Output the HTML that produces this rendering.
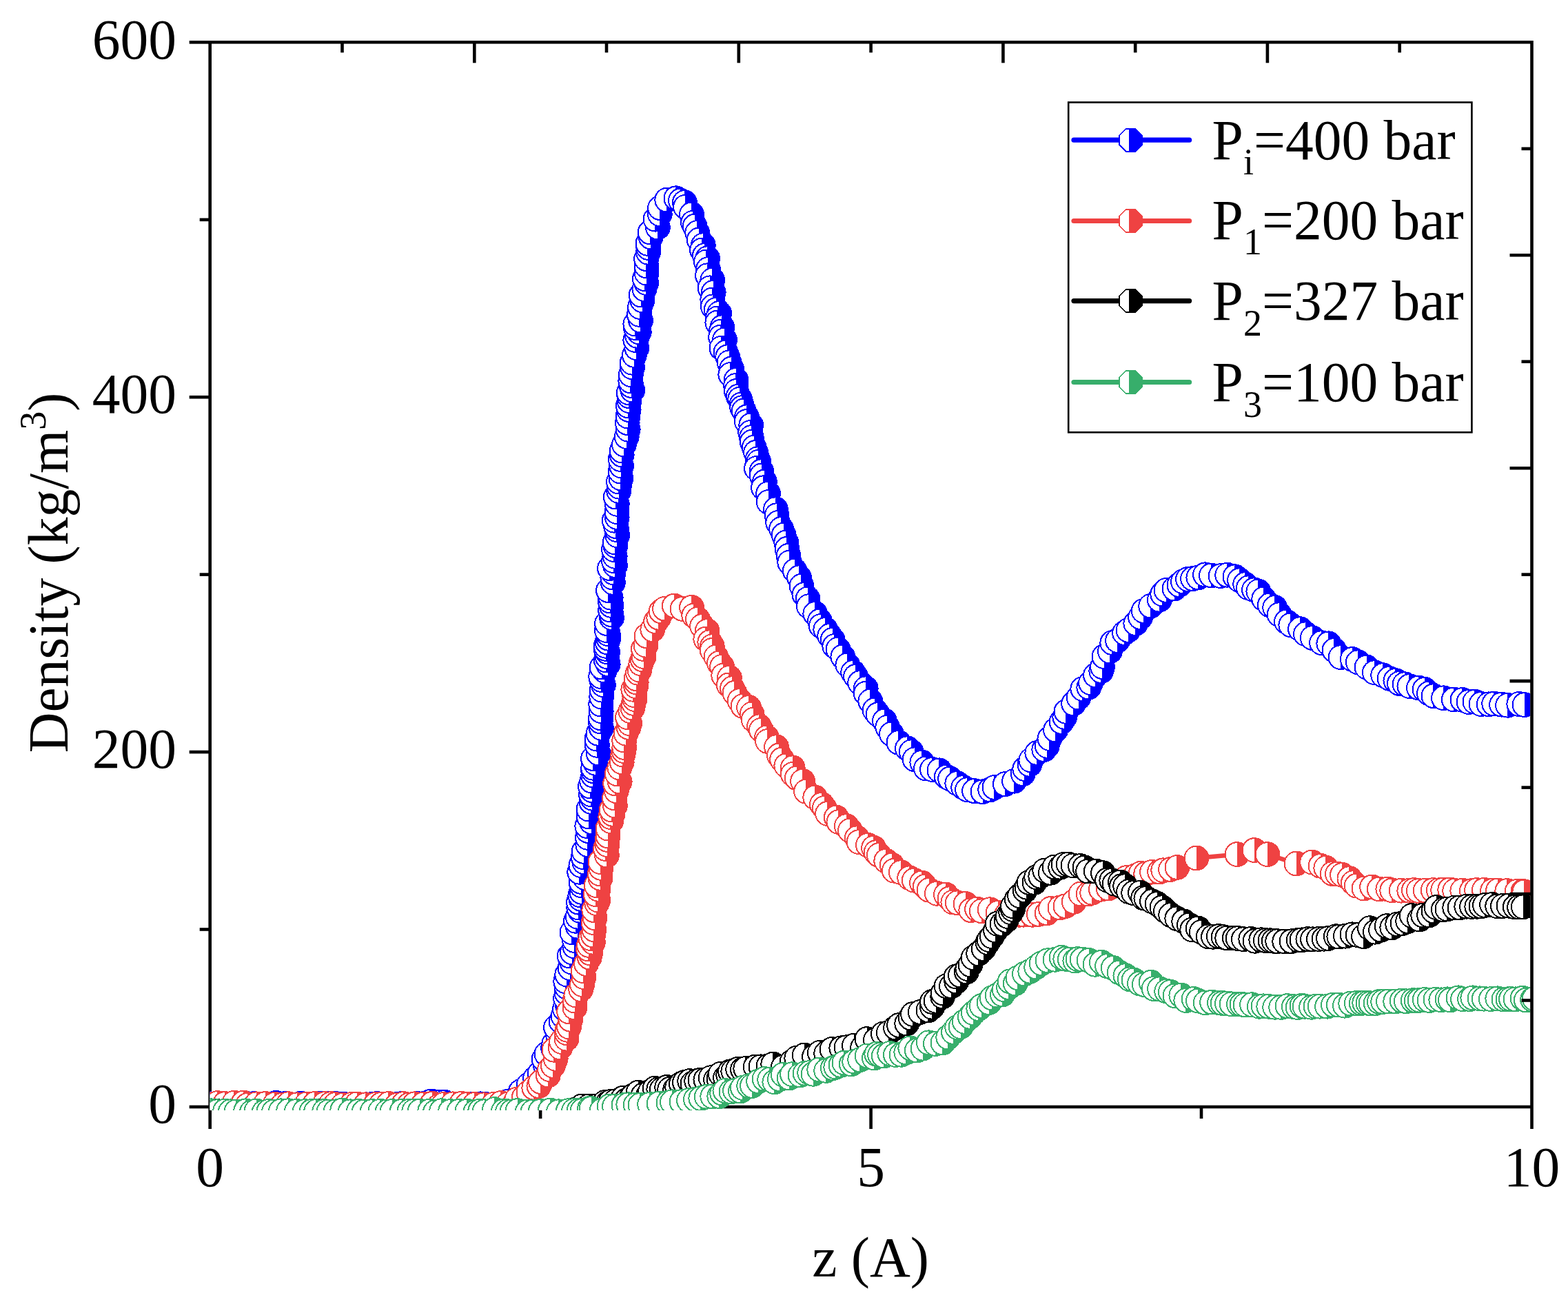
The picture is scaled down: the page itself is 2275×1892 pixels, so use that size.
<!DOCTYPE html>
<html><head><meta charset="utf-8"><title>Density profile</title>
<style>html,body{margin:0;padding:0;background:#fff;overflow:hidden;width:2275px;height:1892px;}svg{display:block}</style></head>
<body>
<svg width="2275" height="1892" viewBox="0 0 2275 1892" font-family="'Liberation Serif', serif">
<defs><clipPath id="pc"><rect x="304.7" y="40" width="1915.3" height="1571"/></clipPath></defs>
<rect width="2275" height="1892" fill="#fff"/>
<g stroke="#000" stroke-width="4.6" fill="none" stroke-linecap="butt">
<path d="M304.7 1638.0V59.0"/>
<path d="M304.7 1606.0H2222.5"/>
<path d="M2222.5 1606.0V1638.0"/>
<path d="M1263.6 1606.0V1638.0"/>
<path d="M784.1 1606.0V1623.0"/>
<path d="M1743.0 1606.0V1623.0"/>
<path d="M274.7 1606.0H304.7"/>
<path d="M274.7 1091.1H304.7"/>
<path d="M274.7 576.2H304.7"/>
<path d="M274.7 61.3H304.7"/>
<path d="M289.7 1348.5H304.7"/>
<path d="M289.7 833.6H304.7"/>
<path d="M289.7 318.8H304.7"/>
</g>
<g clip-path="url(#pc)">
<path d="M305,1602 315.3,1602 324.1,1602 331,1602 342.7,1602 349.3,1602 359.8,1602 369.1,1602 375.2,1602 385.4,1602 391.6,1602 401,1602 407.2,1602 413.9,1602 423.3,1602 436.5,1602 443.4,1602 451.4,1602 463,1602 477.1,1602 487.9,1602 497.3,1602 511.7,1602 518,1602 531.4,1602.1 539.8,1602.1 547.1,1602.1 553.9,1602.1 562.2,1602.1 575.6,1602.1 583,1602.1 594,1601.9 605.8,1600.1 615.1,1599.4 625.5,1599 631.6,1599 637.9,1599.1 645.7,1599.6 657.7,1601.8 667.5,1602.1 676,1602.1 687,1602.1 697.1,1602.1 705.5,1601.9 718.3,1601.6 730.1,1600.7 737.9,1598.9 747.9,1592 756.4,1584.6 766.8,1573.9 775.5,1563.4 780.7,1556 788,1544 791.1,1538.5 795.9,1530.6 802,1520.4 805,1514.3 808.5,1505.1 810,1500.4 812.3,1491.7 814.5,1482.2 816.1,1473.9 817.6,1463.8 818.3,1457.4 819.5,1448.2 820.8,1440.1 822.1,1431.8 823.3,1424.2 824.8,1414.3 826.5,1403.8 827.8,1396.1 829.3,1387.4 830.1,1382.4 831.7,1373.2 833.1,1364.5 834.7,1353.5 836,1343.5 836.9,1337.1 838,1330 839.7,1321.4 840.6,1317.2 842,1309.6 842.8,1304 843.3,1299 843.7,1294.5 844.5,1284.9 845,1279.5 845.4,1273.3 846,1266 846.7,1255.8 847.1,1251 847.7,1243.7 848.4,1235.5 849.4,1225.4 850.4,1215.4 851.5,1204.9 852.2,1198.5 853.1,1191.5 853.9,1184.9 855.5,1174.5 857.2,1163.7 857.9,1158.1 858.6,1152.7 859.2,1146.8 859.8,1141 860.5,1133.4 861.2,1124.9 861.8,1118.7 862.1,1114.5 862.7,1107.2 863.3,1100.4 864,1092.2 865,1081.2 865.9,1072.1 866.8,1064.5 868.7,1055.6 870.2,1046.6 870.8,1041.7 871.9,1031.5 873,1021.7 874.1,1011.2 875.1,1001.3 875.8,994.1 876.5,987 877,981.8 877.8,972.9 878.2,968.4 878.7,963.7 879.2,958 879.7,952.5 880.2,946 880.6,941.5 881,937 881.4,931.8 881.8,926.6 882.4,919.6 882.7,915.1 883.5,905.1 884.1,896.3 884.5,891.2 885,885.1 885.4,878.5 885.9,871.9 886.3,866.8 887,856.6 887.7,845.6 888.3,838 888.8,830.3 889.2,825.2 889.5,820.1 890,813.5 890.5,807.3 891.2,797.4 891.6,791.8 891.9,787.2 892.7,776.4 893.3,768.6 893.7,763.5 894.3,755.3 894.6,750.6 895.2,742.5 896.1,731.4 896.9,721.2 897.7,712 898.2,706 898.8,699.4 899.3,693.8 900.1,684.2 900.9,676.1 901.8,666.5 902.4,660 903,653.9 904,644.3 905.2,633.2 906.3,623.1 907.4,613.4 908.6,603.8 909.7,594.6 910.5,589 911.5,581.3 912.4,574.6 913,570 913.6,565.4 914.5,559.3 915.3,553.1 916.5,543.9 918,533.2 918.9,526 920.2,515.3 921.4,504.5 922.6,493.8 923.4,487.1 924,481.5 924.7,475.9 925.3,470.2 926,464.6 927,455.9 928.3,445.7 929.6,435.5 930.7,427.8 932,419.2 933.4,409.5 934.2,404.4 935.6,395.6 937.2,385.4 938.8,375.9 940.4,366.6 941.7,359.3 942.7,353.8 944.6,344.1 945.9,337.7 948.1,328.3 951,318 953.9,309.3 957.3,301.4 968,290.5 980.9,287.3 988.6,288.6 994.2,292.9 997.4,298.9 1002.8,311.2 1007.1,322.9 1008.7,327.9 1011.7,337.5 1014.7,348.1 1017,356.8 1018.6,363.2 1020.5,370.9 1021.7,375.9 1022.8,380.5 1025.3,391.1 1027.3,399.7 1029.1,407.3 1031.5,417.7 1033.1,424.6 1035.3,434.5 1037.5,444.1 1038.8,449.7 1040,455.4 1041.4,461.7 1042.7,467.7 1044.4,475.7 1045.6,481.5 1047.3,488.8 1048.5,493.9 1051,504 1052.8,510.7 1054.8,517.7 1057.1,525.8 1060,535.6 1062.2,542.6 1065.2,552.5 1067.5,559.7 1069.8,567.1 1072.3,574.7 1073.7,579.1 1076.1,586.3 1077.8,591.7 1079.2,596.1 1082.3,605.5 1084,611 1086.2,618 1088.9,627 1091.1,634.6 1092.8,640.8 1094.9,648.6 1097,656.3 1099.4,665.6 1100.7,670.4 1102.9,678.2 1104.5,684.1 1106.2,689.9 1109,699 1111.3,706.2 1114.6,716 1118.5,727.2 1123,739.6 1126.1,748.1 1129.7,758.1 1133,767.2 1136.2,776.5 1140,787.5 1142.9,796.2 1146.1,805.5 1149.2,814.7 1153.6,827.5 1157.5,838.4 1162.2,850.5 1167.4,862.7 1170.6,869.5 1175.3,878.9 1182,890.9 1188.6,902 1192.2,907.5 1196.5,913.9 1202.7,922.9 1206.9,928.8 1212,936.1 1216,942 1223.1,952.6 1231,964.4 1238.3,975.3 1241.8,980.9 1248,990.8 1253.5,1000.5 1256.7,1006.3 1263.1,1017.8 1270.1,1029.9 1274,1036.1 1281.4,1047.7 1287,1056.1 1293.5,1065 1303.9,1077.3 1314.3,1087.7 1320.1,1093.2 1328.1,1100.5 1336.8,1108 1344.3,1113.7 1352,1117.4 1360.4,1122.3 1372.2,1129.3 1377.6,1132.5 1387.8,1138.3 1397.6,1143.1 1403.7,1145.4 1413.4,1147.8 1426,1149 1436.4,1145 1442.9,1142.4 1458.4,1137.6 1471.5,1132.5 1483.5,1122.4 1488.3,1116.9 1494.1,1109.7 1498.2,1104.5 1506.7,1093.4 1512.1,1086.3 1516.6,1080.1 1522.7,1071.7 1531.5,1059.3 1539.8,1047.6 1544.8,1040.5 1549.1,1034.2 1557.8,1021.7 1564.9,1011.8 1572.9,1001.1 1577.5,995.3 1581.5,990 1589.4,979.2 1594.5,971.7 1597.7,966.4 1604.4,954.4 1609.8,944.7 1616,934.2 1620.1,928.2 1630.2,917 1635.4,912.5 1646.8,903.1 1654.5,895.3 1661.1,887.9 1669.1,879 1680.2,868 1687,862.6 1693,858.3 1702.8,852.4 1710.3,848.2 1717.1,845 1724.4,841.9 1730.7,839.6 1739,837.2 1748.3,835.2 1757.5,834.1 1771.2,834.5 1780.3,835.9 1791.1,839.2 1798.3,842.8 1806.4,848.3 1811.4,852.1 1818.1,857.6 1822.9,861.6 1832.3,871 1841,879 1847.4,884.2 1856.2,891 1868.4,900.2 1874.5,904.7 1886.3,912.9 1895.2,918.9 1904.6,925 1917.1,932.6 1925.9,937.6 1936.2,943 1947.9,948.8 1962,956 1970.3,960.5 1983,968.1 1994.8,974.8 2006,980.4 2015.7,984.3 2025,987.3 2031.4,989.2 2038.7,991.5 2045.5,993.8 2058.2,998.8 2066.5,1002.3 2073.8,1005.3 2080.7,1007.9 2094.8,1012.2 2109.3,1015.4 2121.8,1017.6 2130.8,1019 2139.6,1020.2 2148.9,1021.2 2160,1022.1 2168,1022.6 2178.7,1022.9 2187.7,1022.9 2203.5,1022.7 2212,1022.6" fill="none" stroke="#0000FF" stroke-width="6.5" stroke-linejoin="round"/>
<g fill="#fff" stroke="#0000FF" stroke-width="2.0" shape-rendering="crispEdges">
<circle cx="304.9" cy="1601.7" r="17.4"/><path d="M304.4 1583.3A18.4 18.4 0 0 1 304.4 1620z" fill="#0000FF" stroke="none"/>
<circle cx="315.3" cy="1601.9" r="17.4"/><path d="M314.8 1583.5A18.4 18.4 0 0 1 314.8 1620.3z" fill="#0000FF" stroke="none"/>
<circle cx="324.3" cy="1601.2" r="17.4"/><path d="M323.8 1582.8A18.4 18.4 0 0 1 323.8 1619.6z" fill="#0000FF" stroke="none"/>
<circle cx="330.9" cy="1602" r="17.4"/><path d="M330.4 1583.6A18.4 18.4 0 0 1 330.4 1620.4z" fill="#0000FF" stroke="none"/>
<circle cx="342.8" cy="1601.9" r="17.4"/><path d="M342.3 1583.5A18.4 18.4 0 0 1 342.3 1620.3z" fill="#0000FF" stroke="none"/>
<circle cx="349.5" cy="1602.2" r="17.4"/><path d="M349 1583.8A18.4 18.4 0 0 1 349 1620.6z" fill="#0000FF" stroke="none"/>
<circle cx="360.2" cy="1601.7" r="17.4"/><path d="M359.7 1583.3A18.4 18.4 0 0 1 359.7 1620.1z" fill="#0000FF" stroke="none"/>
<circle cx="368.8" cy="1601.4" r="17.4"/><path d="M368.3 1583.1A18.4 18.4 0 0 1 368.3 1619.8z" fill="#0000FF" stroke="none"/>
<circle cx="375" cy="1602.2" r="17.4"/><path d="M374.5 1583.8A18.4 18.4 0 0 1 374.5 1620.6z" fill="#0000FF" stroke="none"/>
<circle cx="385.6" cy="1604.3" r="17.4"/><path d="M385.1 1585.9A18.4 18.4 0 0 1 385.1 1622.7z" fill="#0000FF" stroke="none"/>
<circle cx="391.5" cy="1602.1" r="17.4"/><path d="M391 1583.7A18.4 18.4 0 0 1 391 1620.5z" fill="#0000FF" stroke="none"/>
<circle cx="400.8" cy="1600.3" r="17.4"/><path d="M400.3 1581.9A18.4 18.4 0 0 1 400.3 1618.7z" fill="#0000FF" stroke="none"/>
<circle cx="407" cy="1601.9" r="17.4"/><path d="M406.5 1583.5A18.4 18.4 0 0 1 406.5 1620.3z" fill="#0000FF" stroke="none"/>
<circle cx="414.1" cy="1601.5" r="17.4"/><path d="M413.6 1583.1A18.4 18.4 0 0 1 413.6 1619.9z" fill="#0000FF" stroke="none"/>
<circle cx="423" cy="1602.8" r="17.4"/><path d="M422.5 1584.4A18.4 18.4 0 0 1 422.5 1621.1z" fill="#0000FF" stroke="none"/>
<circle cx="436.5" cy="1601.1" r="17.4"/><path d="M436 1582.7A18.4 18.4 0 0 1 436 1619.5z" fill="#0000FF" stroke="none"/>
<circle cx="443.4" cy="1602.3" r="17.4"/><path d="M442.9 1583.9A18.4 18.4 0 0 1 442.9 1620.7z" fill="#0000FF" stroke="none"/>
<circle cx="451.5" cy="1602" r="17.4"/><path d="M451 1583.6A18.4 18.4 0 0 1 451 1620.4z" fill="#0000FF" stroke="none"/>
<circle cx="462.8" cy="1601.1" r="17.4"/><path d="M462.3 1582.7A18.4 18.4 0 0 1 462.3 1619.5z" fill="#0000FF" stroke="none"/>
<circle cx="477.6" cy="1601.2" r="17.4"/><path d="M477.1 1582.8A18.4 18.4 0 0 1 477.1 1619.6z" fill="#0000FF" stroke="none"/>
<circle cx="487.6" cy="1601.6" r="17.4"/><path d="M487.1 1583.3A18.4 18.4 0 0 1 487.1 1620z" fill="#0000FF" stroke="none"/>
<circle cx="497.7" cy="1601.9" r="17.4"/><path d="M497.2 1583.5A18.4 18.4 0 0 1 497.2 1620.3z" fill="#0000FF" stroke="none"/>
<circle cx="511.8" cy="1602" r="17.4"/><path d="M511.3 1583.6A18.4 18.4 0 0 1 511.3 1620.4z" fill="#0000FF" stroke="none"/>
<circle cx="518.1" cy="1603.6" r="17.4"/><path d="M517.6 1585.3A18.4 18.4 0 0 1 517.6 1622z" fill="#0000FF" stroke="none"/>
<circle cx="531.4" cy="1602.8" r="17.4"/><path d="M530.9 1584.4A18.4 18.4 0 0 1 530.9 1621.1z" fill="#0000FF" stroke="none"/>
<circle cx="539.6" cy="1602.3" r="17.4"/><path d="M539.1 1583.9A18.4 18.4 0 0 1 539.1 1620.7z" fill="#0000FF" stroke="none"/>
<circle cx="546.9" cy="1601.4" r="17.4"/><path d="M546.4 1583A18.4 18.4 0 0 1 546.4 1619.8z" fill="#0000FF" stroke="none"/>
<circle cx="553.9" cy="1602.7" r="17.4"/><path d="M553.4 1584.3A18.4 18.4 0 0 1 553.4 1621.1z" fill="#0000FF" stroke="none"/>
<circle cx="562.5" cy="1601.9" r="17.4"/><path d="M562 1583.5A18.4 18.4 0 0 1 562 1620.3z" fill="#0000FF" stroke="none"/>
<circle cx="575.5" cy="1602.5" r="17.4"/><path d="M575 1584.1A18.4 18.4 0 0 1 575 1620.9z" fill="#0000FF" stroke="none"/>
<circle cx="582.7" cy="1601.6" r="17.4"/><path d="M582.2 1583.2A18.4 18.4 0 0 1 582.2 1620z" fill="#0000FF" stroke="none"/>
<circle cx="593.8" cy="1602.9" r="17.4"/><path d="M593.3 1584.5A18.4 18.4 0 0 1 593.3 1621.2z" fill="#0000FF" stroke="none"/>
<circle cx="606.3" cy="1601.5" r="17.4"/><path d="M605.8 1583.1A18.4 18.4 0 0 1 605.8 1619.9z" fill="#0000FF" stroke="none"/>
<circle cx="615.2" cy="1601.4" r="17.4"/><path d="M614.7 1583A18.4 18.4 0 0 1 614.7 1619.8z" fill="#0000FF" stroke="none"/>
<circle cx="625.6" cy="1597.9" r="17.4"/><path d="M625.1 1579.5A18.4 18.4 0 0 1 625.1 1616.3z" fill="#0000FF" stroke="none"/>
<circle cx="631.6" cy="1599" r="17.4"/><path d="M631.1 1580.6A18.4 18.4 0 0 1 631.1 1617.4z" fill="#0000FF" stroke="none"/>
<circle cx="637.8" cy="1599.5" r="17.4"/><path d="M637.3 1581.1A18.4 18.4 0 0 1 637.3 1617.9z" fill="#0000FF" stroke="none"/>
<circle cx="645.1" cy="1599.3" r="17.4"/><path d="M644.6 1580.9A18.4 18.4 0 0 1 644.6 1617.7z" fill="#0000FF" stroke="none"/>
<circle cx="657.9" cy="1602.3" r="17.4"/><path d="M657.4 1583.9A18.4 18.4 0 0 1 657.4 1620.7z" fill="#0000FF" stroke="none"/>
<circle cx="667.4" cy="1601.8" r="17.4"/><path d="M666.9 1583.4A18.4 18.4 0 0 1 666.9 1620.2z" fill="#0000FF" stroke="none"/>
<circle cx="675.8" cy="1602.9" r="17.4"/><path d="M675.3 1584.5A18.4 18.4 0 0 1 675.3 1621.3z" fill="#0000FF" stroke="none"/>
<circle cx="686.8" cy="1602.2" r="17.4"/><path d="M686.3 1583.8A18.4 18.4 0 0 1 686.3 1620.6z" fill="#0000FF" stroke="none"/>
<circle cx="697.2" cy="1601.8" r="17.4"/><path d="M696.7 1583.4A18.4 18.4 0 0 1 696.7 1620.2z" fill="#0000FF" stroke="none"/>
<circle cx="705.5" cy="1602.5" r="17.4"/><path d="M705 1584.1A18.4 18.4 0 0 1 705 1620.9z" fill="#0000FF" stroke="none"/>
<circle cx="717.9" cy="1602" r="17.4"/><path d="M717.4 1583.6A18.4 18.4 0 0 1 717.4 1620.4z" fill="#0000FF" stroke="none"/>
<circle cx="730.2" cy="1601.3" r="17.4"/><path d="M729.7 1582.9A18.4 18.4 0 0 1 729.7 1619.7z" fill="#0000FF" stroke="none"/>
<circle cx="737.9" cy="1597.8" r="17.4"/><path d="M737.4 1579.4A18.4 18.4 0 0 1 737.4 1616.1z" fill="#0000FF" stroke="none"/>
<circle cx="750.8" cy="1595.9" r="17.4"/><path d="M750.3 1577.5A18.4 18.4 0 0 1 750.3 1614.3z" fill="#0000FF" stroke="none"/>
<circle cx="755.4" cy="1583.6" r="17.4"/><path d="M754.9 1565.2A18.4 18.4 0 0 1 754.9 1601.9z" fill="#0000FF" stroke="none"/>
<circle cx="767.1" cy="1573.9" r="17.4"/><path d="M766.6 1555.5A18.4 18.4 0 0 1 766.6 1592.3z" fill="#0000FF" stroke="none"/>
<circle cx="776.6" cy="1564.4" r="17.4"/><path d="M776.1 1546A18.4 18.4 0 0 1 776.1 1582.8z" fill="#0000FF" stroke="none"/>
<circle cx="783" cy="1557.6" r="17.4"/><path d="M782.5 1539.2A18.4 18.4 0 0 1 782.5 1576z" fill="#0000FF" stroke="none"/>
<circle cx="791.6" cy="1546.3" r="17.4"/><path d="M791.1 1528A18.4 18.4 0 0 1 791.1 1564.7z" fill="#0000FF" stroke="none"/>
<circle cx="789.1" cy="1536.7" r="17.4"/><path d="M788.6 1518.3A18.4 18.4 0 0 1 788.6 1555.1z" fill="#0000FF" stroke="none"/>
<circle cx="792.9" cy="1529.2" r="17.4"/><path d="M792.4 1510.8A18.4 18.4 0 0 1 792.4 1547.6z" fill="#0000FF" stroke="none"/>
<circle cx="802.6" cy="1521" r="17.4"/><path d="M802.1 1502.7A18.4 18.4 0 0 1 802.1 1539.4z" fill="#0000FF" stroke="none"/>
<circle cx="803.8" cy="1514.4" r="17.4"/><path d="M803.3 1496A18.4 18.4 0 0 1 803.3 1532.8z" fill="#0000FF" stroke="none"/>
<circle cx="810.1" cy="1505.8" r="17.4"/><path d="M809.6 1487.4A18.4 18.4 0 0 1 809.6 1524.2z" fill="#0000FF" stroke="none"/>
<circle cx="809.2" cy="1500" r="17.4"/><path d="M808.7 1481.7A18.4 18.4 0 0 1 808.7 1518.4z" fill="#0000FF" stroke="none"/>
<circle cx="806.5" cy="1490.6" r="17.4"/><path d="M806 1472.2A18.4 18.4 0 0 1 806 1509z" fill="#0000FF" stroke="none"/>
<circle cx="814" cy="1481.9" r="17.4"/><path d="M813.5 1463.5A18.4 18.4 0 0 1 813.5 1500.3z" fill="#0000FF" stroke="none"/>
<circle cx="817" cy="1474.2" r="17.4"/><path d="M816.5 1455.8A18.4 18.4 0 0 1 816.5 1492.6z" fill="#0000FF" stroke="none"/>
<circle cx="819.5" cy="1464.2" r="17.4"/><path d="M819 1445.8A18.4 18.4 0 0 1 819 1482.6z" fill="#0000FF" stroke="none"/>
<circle cx="823.3" cy="1458" r="17.4"/><path d="M822.8 1439.6A18.4 18.4 0 0 1 822.8 1476.4z" fill="#0000FF" stroke="none"/>
<circle cx="820.6" cy="1448.6" r="17.4"/><path d="M820.1 1430.2A18.4 18.4 0 0 1 820.1 1466.9z" fill="#0000FF" stroke="none"/>
<circle cx="822" cy="1440.4" r="17.4"/><path d="M821.5 1422A18.4 18.4 0 0 1 821.5 1458.8z" fill="#0000FF" stroke="none"/>
<circle cx="822.2" cy="1432.1" r="17.4"/><path d="M821.7 1413.7A18.4 18.4 0 0 1 821.7 1450.4z" fill="#0000FF" stroke="none"/>
<circle cx="820.7" cy="1423.9" r="17.4"/><path d="M820.2 1405.5A18.4 18.4 0 0 1 820.2 1442.3z" fill="#0000FF" stroke="none"/>
<circle cx="822.7" cy="1414" r="17.4"/><path d="M822.2 1395.6A18.4 18.4 0 0 1 822.2 1432.3z" fill="#0000FF" stroke="none"/>
<circle cx="827.1" cy="1404.6" r="17.4"/><path d="M826.6 1386.2A18.4 18.4 0 0 1 826.6 1423z" fill="#0000FF" stroke="none"/>
<circle cx="829.8" cy="1396.1" r="17.4"/><path d="M829.3 1377.7A18.4 18.4 0 0 1 829.3 1414.5z" fill="#0000FF" stroke="none"/>
<circle cx="826.2" cy="1387" r="17.4"/><path d="M825.7 1368.6A18.4 18.4 0 0 1 825.7 1405.4z" fill="#0000FF" stroke="none"/>
<circle cx="830.4" cy="1381.9" r="17.4"/><path d="M829.9 1363.5A18.4 18.4 0 0 1 829.9 1400.3z" fill="#0000FF" stroke="none"/>
<circle cx="833.8" cy="1373.1" r="17.4"/><path d="M833.3 1354.7A18.4 18.4 0 0 1 833.3 1391.5z" fill="#0000FF" stroke="none"/>
<circle cx="833.6" cy="1364.5" r="17.4"/><path d="M833.1 1346.1A18.4 18.4 0 0 1 833.1 1382.9z" fill="#0000FF" stroke="none"/>
<circle cx="829.9" cy="1352.9" r="17.4"/><path d="M829.4 1334.5A18.4 18.4 0 0 1 829.4 1371.3z" fill="#0000FF" stroke="none"/>
<circle cx="838.2" cy="1344.2" r="17.4"/><path d="M837.7 1325.8A18.4 18.4 0 0 1 837.7 1362.5z" fill="#0000FF" stroke="none"/>
<circle cx="835.5" cy="1336.3" r="17.4"/><path d="M835 1317.9A18.4 18.4 0 0 1 835 1354.7z" fill="#0000FF" stroke="none"/>
<circle cx="838.1" cy="1330.2" r="17.4"/><path d="M837.6 1311.8A18.4 18.4 0 0 1 837.6 1348.6z" fill="#0000FF" stroke="none"/>
<circle cx="841.6" cy="1321.3" r="17.4"/><path d="M841.1 1302.9A18.4 18.4 0 0 1 841.1 1339.7z" fill="#0000FF" stroke="none"/>
<circle cx="839.7" cy="1317.1" r="17.4"/><path d="M839.2 1298.7A18.4 18.4 0 0 1 839.2 1335.5z" fill="#0000FF" stroke="none"/>
<circle cx="839.5" cy="1309.2" r="17.4"/><path d="M839 1290.8A18.4 18.4 0 0 1 839 1327.6z" fill="#0000FF" stroke="none"/>
<circle cx="842.9" cy="1304.3" r="17.4"/><path d="M842.4 1285.9A18.4 18.4 0 0 1 842.4 1322.7z" fill="#0000FF" stroke="none"/>
<circle cx="841.8" cy="1298.9" r="17.4"/><path d="M841.3 1280.6A18.4 18.4 0 0 1 841.3 1317.3z" fill="#0000FF" stroke="none"/>
<circle cx="844" cy="1294.4" r="17.4"/><path d="M843.5 1276A18.4 18.4 0 0 1 843.5 1312.8z" fill="#0000FF" stroke="none"/>
<circle cx="843.8" cy="1284.9" r="17.4"/><path d="M843.3 1266.6A18.4 18.4 0 0 1 843.3 1303.3z" fill="#0000FF" stroke="none"/>
<circle cx="843" cy="1279.4" r="17.4"/><path d="M842.5 1261A18.4 18.4 0 0 1 842.5 1297.8z" fill="#0000FF" stroke="none"/>
<circle cx="848.6" cy="1273.5" r="17.4"/><path d="M848.1 1255.1A18.4 18.4 0 0 1 848.1 1291.9z" fill="#0000FF" stroke="none"/>
<circle cx="840.7" cy="1265.3" r="17.4"/><path d="M840.2 1247A18.4 18.4 0 0 1 840.2 1283.7z" fill="#0000FF" stroke="none"/>
<circle cx="842.9" cy="1255.6" r="17.4"/><path d="M842.4 1237.2A18.4 18.4 0 0 1 842.4 1274z" fill="#0000FF" stroke="none"/>
<circle cx="847.8" cy="1250.9" r="17.4"/><path d="M847.3 1232.6A18.4 18.4 0 0 1 847.3 1269.3z" fill="#0000FF" stroke="none"/>
<circle cx="846.2" cy="1243.6" r="17.4"/><path d="M845.7 1225.2A18.4 18.4 0 0 1 845.7 1262z" fill="#0000FF" stroke="none"/>
<circle cx="847.1" cy="1235.4" r="17.4"/><path d="M846.6 1217A18.4 18.4 0 0 1 846.6 1253.8z" fill="#0000FF" stroke="none"/>
<circle cx="852.8" cy="1225.6" r="17.4"/><path d="M852.3 1207.2A18.4 18.4 0 0 1 852.3 1244z" fill="#0000FF" stroke="none"/>
<circle cx="852.4" cy="1215.3" r="17.4"/><path d="M851.9 1196.9A18.4 18.4 0 0 1 851.9 1233.7z" fill="#0000FF" stroke="none"/>
<circle cx="853.2" cy="1205.5" r="17.4"/><path d="M852.7 1187.1A18.4 18.4 0 0 1 852.7 1223.9z" fill="#0000FF" stroke="none"/>
<circle cx="851.8" cy="1198.6" r="17.4"/><path d="M851.3 1180.2A18.4 18.4 0 0 1 851.3 1217z" fill="#0000FF" stroke="none"/>
<circle cx="858.4" cy="1192.6" r="17.4"/><path d="M857.9 1174.2A18.4 18.4 0 0 1 857.9 1211z" fill="#0000FF" stroke="none"/>
<circle cx="854.3" cy="1185" r="17.4"/><path d="M853.8 1166.6A18.4 18.4 0 0 1 853.8 1203.4z" fill="#0000FF" stroke="none"/>
<circle cx="854" cy="1174.1" r="17.4"/><path d="M853.5 1155.7A18.4 18.4 0 0 1 853.5 1192.5z" fill="#0000FF" stroke="none"/>
<circle cx="857.9" cy="1163.4" r="17.4"/><path d="M857.4 1145A18.4 18.4 0 0 1 857.4 1181.8z" fill="#0000FF" stroke="none"/>
<circle cx="859.7" cy="1158.3" r="17.4"/><path d="M859.2 1139.9A18.4 18.4 0 0 1 859.2 1176.7z" fill="#0000FF" stroke="none"/>
<circle cx="857.5" cy="1152.7" r="17.4"/><path d="M857 1134.3A18.4 18.4 0 0 1 857 1171.1z" fill="#0000FF" stroke="none"/>
<circle cx="859.1" cy="1146.8" r="17.4"/><path d="M858.6 1128.4A18.4 18.4 0 0 1 858.6 1165.2z" fill="#0000FF" stroke="none"/>
<circle cx="856.4" cy="1141" r="17.4"/><path d="M855.9 1122.6A18.4 18.4 0 0 1 855.9 1159.4z" fill="#0000FF" stroke="none"/>
<circle cx="858.7" cy="1133.2" r="17.4"/><path d="M858.2 1114.8A18.4 18.4 0 0 1 858.2 1151.6z" fill="#0000FF" stroke="none"/>
<circle cx="860.7" cy="1125.2" r="17.4"/><path d="M860.2 1106.8A18.4 18.4 0 0 1 860.2 1143.6z" fill="#0000FF" stroke="none"/>
<circle cx="860.7" cy="1118.6" r="17.4"/><path d="M860.2 1100.2A18.4 18.4 0 0 1 860.2 1137z" fill="#0000FF" stroke="none"/>
<circle cx="860.7" cy="1114.3" r="17.4"/><path d="M860.2 1095.9A18.4 18.4 0 0 1 860.2 1132.7z" fill="#0000FF" stroke="none"/>
<circle cx="864.1" cy="1107.3" r="17.4"/><path d="M863.6 1088.9A18.4 18.4 0 0 1 863.6 1125.7z" fill="#0000FF" stroke="none"/>
<circle cx="860.5" cy="1100.6" r="17.4"/><path d="M860 1082.2A18.4 18.4 0 0 1 860 1119z" fill="#0000FF" stroke="none"/>
<circle cx="868" cy="1092.8" r="17.4"/><path d="M867.5 1074.4A18.4 18.4 0 0 1 867.5 1111.2z" fill="#0000FF" stroke="none"/>
<circle cx="866.4" cy="1081.3" r="17.4"/><path d="M865.9 1062.9A18.4 18.4 0 0 1 865.9 1099.7z" fill="#0000FF" stroke="none"/>
<circle cx="865.9" cy="1072.2" r="17.4"/><path d="M865.4 1053.8A18.4 18.4 0 0 1 865.4 1090.6z" fill="#0000FF" stroke="none"/>
<circle cx="868" cy="1064.3" r="17.4"/><path d="M867.5 1045.9A18.4 18.4 0 0 1 867.5 1082.7z" fill="#0000FF" stroke="none"/>
<circle cx="872.4" cy="1056.3" r="17.4"/><path d="M871.9 1038A18.4 18.4 0 0 1 871.9 1074.7z" fill="#0000FF" stroke="none"/>
<circle cx="871.2" cy="1046.9" r="17.4"/><path d="M870.7 1028.5A18.4 18.4 0 0 1 870.7 1065.3z" fill="#0000FF" stroke="none"/>
<circle cx="871.5" cy="1041.9" r="17.4"/><path d="M871 1023.5A18.4 18.4 0 0 1 871 1060.3z" fill="#0000FF" stroke="none"/>
<circle cx="872.2" cy="1031.6" r="17.4"/><path d="M871.7 1013.3A18.4 18.4 0 0 1 871.7 1050z" fill="#0000FF" stroke="none"/>
<circle cx="871.7" cy="1022.1" r="17.4"/><path d="M871.2 1003.7A18.4 18.4 0 0 1 871.2 1040.5z" fill="#0000FF" stroke="none"/>
<circle cx="872.7" cy="1011" r="17.4"/><path d="M872.2 992.6A18.4 18.4 0 0 1 872.2 1029.4z" fill="#0000FF" stroke="none"/>
<circle cx="873.2" cy="1001.2" r="17.4"/><path d="M872.7 982.8A18.4 18.4 0 0 1 872.7 1019.6z" fill="#0000FF" stroke="none"/>
<circle cx="875.4" cy="993.7" r="17.4"/><path d="M874.9 975.3A18.4 18.4 0 0 1 874.9 1012.1z" fill="#0000FF" stroke="none"/>
<circle cx="872.7" cy="986.6" r="17.4"/><path d="M872.2 968.2A18.4 18.4 0 0 1 872.2 1005z" fill="#0000FF" stroke="none"/>
<circle cx="871.7" cy="981.5" r="17.4"/><path d="M871.2 963.1A18.4 18.4 0 0 1 871.2 999.9z" fill="#0000FF" stroke="none"/>
<circle cx="877.2" cy="973.1" r="17.4"/><path d="M876.7 954.8A18.4 18.4 0 0 1 876.7 991.5z" fill="#0000FF" stroke="none"/>
<circle cx="873.2" cy="968.1" r="17.4"/><path d="M872.7 949.7A18.4 18.4 0 0 1 872.7 986.5z" fill="#0000FF" stroke="none"/>
<circle cx="882.2" cy="963.6" r="17.4"/><path d="M881.7 945.2A18.4 18.4 0 0 1 881.7 982z" fill="#0000FF" stroke="none"/>
<circle cx="879.3" cy="957.9" r="17.4"/><path d="M878.8 939.6A18.4 18.4 0 0 1 878.8 976.3z" fill="#0000FF" stroke="none"/>
<circle cx="881.1" cy="953" r="17.4"/><path d="M880.6 934.6A18.4 18.4 0 0 1 880.6 971.3z" fill="#0000FF" stroke="none"/>
<circle cx="881.6" cy="946.1" r="17.4"/><path d="M881.1 927.7A18.4 18.4 0 0 1 881.1 964.5z" fill="#0000FF" stroke="none"/>
<circle cx="879" cy="941.4" r="17.4"/><path d="M878.5 923A18.4 18.4 0 0 1 878.5 959.8z" fill="#0000FF" stroke="none"/>
<circle cx="879.1" cy="937.3" r="17.4"/><path d="M878.6 918.9A18.4 18.4 0 0 1 878.6 955.7z" fill="#0000FF" stroke="none"/>
<circle cx="881" cy="931.8" r="17.4"/><path d="M880.5 913.4A18.4 18.4 0 0 1 880.5 950.1z" fill="#0000FF" stroke="none"/>
<circle cx="882.8" cy="926.3" r="17.4"/><path d="M882.3 907.9A18.4 18.4 0 0 1 882.3 944.7z" fill="#0000FF" stroke="none"/>
<circle cx="882.3" cy="919.7" r="17.4"/><path d="M881.8 901.3A18.4 18.4 0 0 1 881.8 938.1z" fill="#0000FF" stroke="none"/>
<circle cx="880.3" cy="914.7" r="17.4"/><path d="M879.8 896.3A18.4 18.4 0 0 1 879.8 933.1z" fill="#0000FF" stroke="none"/>
<circle cx="880.5" cy="904.6" r="17.4"/><path d="M880 886.2A18.4 18.4 0 0 1 880 922.9z" fill="#0000FF" stroke="none"/>
<circle cx="887.5" cy="896.5" r="17.4"/><path d="M887 878.1A18.4 18.4 0 0 1 887 914.9z" fill="#0000FF" stroke="none"/>
<circle cx="887" cy="891.7" r="17.4"/><path d="M886.5 873.3A18.4 18.4 0 0 1 886.5 910z" fill="#0000FF" stroke="none"/>
<circle cx="885.6" cy="885.1" r="17.4"/><path d="M885.1 866.8A18.4 18.4 0 0 1 885.1 903.5z" fill="#0000FF" stroke="none"/>
<circle cx="886.9" cy="878.4" r="17.4"/><path d="M886.4 860A18.4 18.4 0 0 1 886.4 896.8z" fill="#0000FF" stroke="none"/>
<circle cx="885.1" cy="872.1" r="17.4"/><path d="M884.6 853.7A18.4 18.4 0 0 1 884.6 890.5z" fill="#0000FF" stroke="none"/>
<circle cx="886.2" cy="867.2" r="17.4"/><path d="M885.7 848.8A18.4 18.4 0 0 1 885.7 885.6z" fill="#0000FF" stroke="none"/>
<circle cx="882.5" cy="856.6" r="17.4"/><path d="M882 838.2A18.4 18.4 0 0 1 882 875z" fill="#0000FF" stroke="none"/>
<circle cx="889.4" cy="845.3" r="17.4"/><path d="M888.9 826.9A18.4 18.4 0 0 1 888.9 863.7z" fill="#0000FF" stroke="none"/>
<circle cx="888.8" cy="838" r="17.4"/><path d="M888.3 819.6A18.4 18.4 0 0 1 888.3 856.4z" fill="#0000FF" stroke="none"/>
<circle cx="890.1" cy="831" r="17.4"/><path d="M889.6 812.6A18.4 18.4 0 0 1 889.6 849.4z" fill="#0000FF" stroke="none"/>
<circle cx="884.5" cy="824.6" r="17.4"/><path d="M884 806.2A18.4 18.4 0 0 1 884 843z" fill="#0000FF" stroke="none"/>
<circle cx="892.5" cy="820.4" r="17.4"/><path d="M892 802A18.4 18.4 0 0 1 892 838.8z" fill="#0000FF" stroke="none"/>
<circle cx="890.4" cy="813.8" r="17.4"/><path d="M889.9 795.4A18.4 18.4 0 0 1 889.9 832.2z" fill="#0000FF" stroke="none"/>
<circle cx="892.2" cy="807.3" r="17.4"/><path d="M891.7 789A18.4 18.4 0 0 1 891.7 825.7z" fill="#0000FF" stroke="none"/>
<circle cx="890.5" cy="797.4" r="17.4"/><path d="M890 779A18.4 18.4 0 0 1 890 815.8z" fill="#0000FF" stroke="none"/>
<circle cx="892.9" cy="791.7" r="17.4"/><path d="M892.4 773.3A18.4 18.4 0 0 1 892.4 810.1z" fill="#0000FF" stroke="none"/>
<circle cx="892.1" cy="787" r="17.4"/><path d="M891.6 768.6A18.4 18.4 0 0 1 891.6 805.4z" fill="#0000FF" stroke="none"/>
<circle cx="895.7" cy="776.8" r="17.4"/><path d="M895.2 758.4A18.4 18.4 0 0 1 895.2 795.2z" fill="#0000FF" stroke="none"/>
<circle cx="894.8" cy="768.6" r="17.4"/><path d="M894.3 750.2A18.4 18.4 0 0 1 894.3 787z" fill="#0000FF" stroke="none"/>
<circle cx="893.6" cy="763.6" r="17.4"/><path d="M893.1 745.2A18.4 18.4 0 0 1 893.1 782z" fill="#0000FF" stroke="none"/>
<circle cx="891.2" cy="755.2" r="17.4"/><path d="M890.7 736.8A18.4 18.4 0 0 1 890.7 773.6z" fill="#0000FF" stroke="none"/>
<circle cx="895.2" cy="750.4" r="17.4"/><path d="M894.7 732A18.4 18.4 0 0 1 894.7 768.8z" fill="#0000FF" stroke="none"/>
<circle cx="895" cy="742.6" r="17.4"/><path d="M894.5 724.2A18.4 18.4 0 0 1 894.5 761z" fill="#0000FF" stroke="none"/>
<circle cx="895.3" cy="731.3" r="17.4"/><path d="M894.8 712.9A18.4 18.4 0 0 1 894.8 749.6z" fill="#0000FF" stroke="none"/>
<circle cx="893.3" cy="721.1" r="17.4"/><path d="M892.8 702.7A18.4 18.4 0 0 1 892.8 739.5z" fill="#0000FF" stroke="none"/>
<circle cx="897.7" cy="712.4" r="17.4"/><path d="M897.2 694A18.4 18.4 0 0 1 897.2 730.7z" fill="#0000FF" stroke="none"/>
<circle cx="898.3" cy="706.2" r="17.4"/><path d="M897.8 687.8A18.4 18.4 0 0 1 897.8 724.6z" fill="#0000FF" stroke="none"/>
<circle cx="897.5" cy="699" r="17.4"/><path d="M897 680.6A18.4 18.4 0 0 1 897 717.4z" fill="#0000FF" stroke="none"/>
<circle cx="900.9" cy="694" r="17.4"/><path d="M900.4 675.6A18.4 18.4 0 0 1 900.4 712.4z" fill="#0000FF" stroke="none"/>
<circle cx="900.1" cy="684.1" r="17.4"/><path d="M899.6 665.7A18.4 18.4 0 0 1 899.6 702.5z" fill="#0000FF" stroke="none"/>
<circle cx="901.6" cy="676" r="17.4"/><path d="M901.1 657.6A18.4 18.4 0 0 1 901.1 694.4z" fill="#0000FF" stroke="none"/>
<circle cx="900.2" cy="666.4" r="17.4"/><path d="M899.7 648A18.4 18.4 0 0 1 899.7 684.8z" fill="#0000FF" stroke="none"/>
<circle cx="902.2" cy="660" r="17.4"/><path d="M901.7 641.6A18.4 18.4 0 0 1 901.7 678.4z" fill="#0000FF" stroke="none"/>
<circle cx="902.1" cy="653.9" r="17.4"/><path d="M901.6 635.5A18.4 18.4 0 0 1 901.6 672.3z" fill="#0000FF" stroke="none"/>
<circle cx="905.4" cy="644.9" r="17.4"/><path d="M904.9 626.5A18.4 18.4 0 0 1 904.9 663.3z" fill="#0000FF" stroke="none"/>
<circle cx="909.2" cy="633.6" r="17.4"/><path d="M908.7 615.2A18.4 18.4 0 0 1 908.7 652z" fill="#0000FF" stroke="none"/>
<circle cx="911.2" cy="623.2" r="17.4"/><path d="M910.7 604.8A18.4 18.4 0 0 1 910.7 641.6z" fill="#0000FF" stroke="none"/>
<circle cx="910.2" cy="613.5" r="17.4"/><path d="M909.7 595.1A18.4 18.4 0 0 1 909.7 631.9z" fill="#0000FF" stroke="none"/>
<circle cx="911" cy="604.1" r="17.4"/><path d="M910.5 585.7A18.4 18.4 0 0 1 910.5 622.5z" fill="#0000FF" stroke="none"/>
<circle cx="912.2" cy="594.5" r="17.4"/><path d="M911.7 576.1A18.4 18.4 0 0 1 911.7 612.9z" fill="#0000FF" stroke="none"/>
<circle cx="911.3" cy="588.8" r="17.4"/><path d="M910.8 570.4A18.4 18.4 0 0 1 910.8 607.2z" fill="#0000FF" stroke="none"/>
<circle cx="913" cy="581.6" r="17.4"/><path d="M912.5 563.2A18.4 18.4 0 0 1 912.5 600z" fill="#0000FF" stroke="none"/>
<circle cx="912.8" cy="574.7" r="17.4"/><path d="M912.3 556.3A18.4 18.4 0 0 1 912.3 593.1z" fill="#0000FF" stroke="none"/>
<circle cx="912.3" cy="569.8" r="17.4"/><path d="M911.8 551.4A18.4 18.4 0 0 1 911.8 588.2z" fill="#0000FF" stroke="none"/>
<circle cx="917.8" cy="566.2" r="17.4"/><path d="M917.3 547.8A18.4 18.4 0 0 1 917.3 584.6z" fill="#0000FF" stroke="none"/>
<circle cx="916.1" cy="559.5" r="17.4"/><path d="M915.6 541.1A18.4 18.4 0 0 1 915.6 577.8z" fill="#0000FF" stroke="none"/>
<circle cx="914.8" cy="552.8" r="17.4"/><path d="M914.3 534.4A18.4 18.4 0 0 1 914.3 571.2z" fill="#0000FF" stroke="none"/>
<circle cx="915.3" cy="543.6" r="17.4"/><path d="M914.8 525.2A18.4 18.4 0 0 1 914.8 562z" fill="#0000FF" stroke="none"/>
<circle cx="917.5" cy="532.9" r="17.4"/><path d="M917 514.5A18.4 18.4 0 0 1 917 551.3z" fill="#0000FF" stroke="none"/>
<circle cx="917.2" cy="526.2" r="17.4"/><path d="M916.7 507.8A18.4 18.4 0 0 1 916.7 544.6z" fill="#0000FF" stroke="none"/>
<circle cx="920.4" cy="515.5" r="17.4"/><path d="M919.9 497.1A18.4 18.4 0 0 1 919.9 533.8z" fill="#0000FF" stroke="none"/>
<circle cx="923.8" cy="504.9" r="17.4"/><path d="M923.3 486.5A18.4 18.4 0 0 1 923.3 523.3z" fill="#0000FF" stroke="none"/>
<circle cx="921.8" cy="493.4" r="17.4"/><path d="M921.3 475A18.4 18.4 0 0 1 921.3 511.8z" fill="#0000FF" stroke="none"/>
<circle cx="924.7" cy="487.3" r="17.4"/><path d="M924.2 468.9A18.4 18.4 0 0 1 924.2 505.7z" fill="#0000FF" stroke="none"/>
<circle cx="927.3" cy="481.9" r="17.4"/><path d="M926.8 463.5A18.4 18.4 0 0 1 926.8 500.3z" fill="#0000FF" stroke="none"/>
<circle cx="922.4" cy="475.7" r="17.4"/><path d="M921.9 457.3A18.4 18.4 0 0 1 921.9 494.1z" fill="#0000FF" stroke="none"/>
<circle cx="921.8" cy="470.1" r="17.4"/><path d="M921.3 451.7A18.4 18.4 0 0 1 921.3 488.5z" fill="#0000FF" stroke="none"/>
<circle cx="929.6" cy="465" r="17.4"/><path d="M929.1 446.6A18.4 18.4 0 0 1 929.1 483.4z" fill="#0000FF" stroke="none"/>
<circle cx="927.4" cy="456.3" r="17.4"/><path d="M926.9 437.9A18.4 18.4 0 0 1 926.9 474.7z" fill="#0000FF" stroke="none"/>
<circle cx="928.5" cy="445.5" r="17.4"/><path d="M928 427.2A18.4 18.4 0 0 1 928 463.9z" fill="#0000FF" stroke="none"/>
<circle cx="932" cy="435.9" r="17.4"/><path d="M931.5 417.5A18.4 18.4 0 0 1 931.5 454.3z" fill="#0000FF" stroke="none"/>
<circle cx="930.2" cy="428.1" r="17.4"/><path d="M929.7 409.7A18.4 18.4 0 0 1 929.7 446.5z" fill="#0000FF" stroke="none"/>
<circle cx="934.9" cy="419.5" r="17.4"/><path d="M934.4 401.1A18.4 18.4 0 0 1 934.4 437.9z" fill="#0000FF" stroke="none"/>
<circle cx="937.6" cy="410.4" r="17.4"/><path d="M937.1 392A18.4 18.4 0 0 1 937.1 428.8z" fill="#0000FF" stroke="none"/>
<circle cx="935.4" cy="404.6" r="17.4"/><path d="M934.9 386.2A18.4 18.4 0 0 1 934.9 423z" fill="#0000FF" stroke="none"/>
<circle cx="938.1" cy="396.1" r="17.4"/><path d="M937.6 377.7A18.4 18.4 0 0 1 937.6 414.5z" fill="#0000FF" stroke="none"/>
<circle cx="937.9" cy="385.8" r="17.4"/><path d="M937.4 367.4A18.4 18.4 0 0 1 937.4 404.2z" fill="#0000FF" stroke="none"/>
<circle cx="937.6" cy="375.6" r="17.4"/><path d="M937.1 357.2A18.4 18.4 0 0 1 937.1 394z" fill="#0000FF" stroke="none"/>
<circle cx="940.5" cy="366.3" r="17.4"/><path d="M940 347.9A18.4 18.4 0 0 1 940 384.7z" fill="#0000FF" stroke="none"/>
<circle cx="940.8" cy="359.6" r="17.4"/><path d="M940.3 341.2A18.4 18.4 0 0 1 940.3 378z" fill="#0000FF" stroke="none"/>
<circle cx="939.9" cy="353.4" r="17.4"/><path d="M939.4 335A18.4 18.4 0 0 1 939.4 371.8z" fill="#0000FF" stroke="none"/>
<circle cx="944.2" cy="344" r="17.4"/><path d="M943.7 325.6A18.4 18.4 0 0 1 943.7 362.4z" fill="#0000FF" stroke="none"/>
<circle cx="943.2" cy="337" r="17.4"/><path d="M942.7 318.6A18.4 18.4 0 0 1 942.7 355.4z" fill="#0000FF" stroke="none"/>
<circle cx="954.4" cy="329.9" r="17.4"/><path d="M953.9 311.5A18.4 18.4 0 0 1 953.9 348.3z" fill="#0000FF" stroke="none"/>
<circle cx="950.9" cy="318.2" r="17.4"/><path d="M950.4 299.8A18.4 18.4 0 0 1 950.4 336.6z" fill="#0000FF" stroke="none"/>
<circle cx="957.3" cy="310.6" r="17.4"/><path d="M956.8 292.2A18.4 18.4 0 0 1 956.8 329z" fill="#0000FF" stroke="none"/>
<circle cx="957.6" cy="301.6" r="17.4"/><path d="M957.1 283.2A18.4 18.4 0 0 1 957.1 320z" fill="#0000FF" stroke="none"/>
<circle cx="967.7" cy="290.1" r="17.4"/><path d="M967.2 271.7A18.4 18.4 0 0 1 967.2 308.5z" fill="#0000FF" stroke="none"/>
<circle cx="980.9" cy="287.7" r="17.4"/><path d="M980.4 269.3A18.4 18.4 0 0 1 980.4 306.1z" fill="#0000FF" stroke="none"/>
<circle cx="987.4" cy="291" r="17.4"/><path d="M986.9 272.6A18.4 18.4 0 0 1 986.9 309.4z" fill="#0000FF" stroke="none"/>
<circle cx="993.4" cy="293.6" r="17.4"/><path d="M992.9 275.2A18.4 18.4 0 0 1 992.9 311.9z" fill="#0000FF" stroke="none"/>
<circle cx="994.6" cy="300.2" r="17.4"/><path d="M994.1 281.8A18.4 18.4 0 0 1 994.1 318.6z" fill="#0000FF" stroke="none"/>
<circle cx="1003.5" cy="310.9" r="17.4"/><path d="M1003 292.5A18.4 18.4 0 0 1 1003 329.3z" fill="#0000FF" stroke="none"/>
<circle cx="1005.6" cy="323.2" r="17.4"/><path d="M1005.1 304.8A18.4 18.4 0 0 1 1005.1 341.6z" fill="#0000FF" stroke="none"/>
<circle cx="1008.2" cy="328" r="17.4"/><path d="M1007.7 309.6A18.4 18.4 0 0 1 1007.7 346.4z" fill="#0000FF" stroke="none"/>
<circle cx="1011.7" cy="337.5" r="17.4"/><path d="M1011.2 319.1A18.4 18.4 0 0 1 1011.2 355.9z" fill="#0000FF" stroke="none"/>
<circle cx="1014.2" cy="347.9" r="17.4"/><path d="M1013.7 329.5A18.4 18.4 0 0 1 1013.7 366.3z" fill="#0000FF" stroke="none"/>
<circle cx="1020.3" cy="355.7" r="17.4"/><path d="M1019.8 337.3A18.4 18.4 0 0 1 1019.8 374.1z" fill="#0000FF" stroke="none"/>
<circle cx="1018.6" cy="363" r="17.4"/><path d="M1018.1 344.6A18.4 18.4 0 0 1 1018.1 381.4z" fill="#0000FF" stroke="none"/>
<circle cx="1022.4" cy="370.6" r="17.4"/><path d="M1021.9 352.3A18.4 18.4 0 0 1 1021.9 389z" fill="#0000FF" stroke="none"/>
<circle cx="1026.6" cy="374.8" r="17.4"/><path d="M1026.1 356.4A18.4 18.4 0 0 1 1026.1 393.2z" fill="#0000FF" stroke="none"/>
<circle cx="1024.4" cy="380.1" r="17.4"/><path d="M1023.9 361.7A18.4 18.4 0 0 1 1023.9 398.5z" fill="#0000FF" stroke="none"/>
<circle cx="1027.4" cy="390.6" r="17.4"/><path d="M1026.9 372.2A18.4 18.4 0 0 1 1026.9 409z" fill="#0000FF" stroke="none"/>
<circle cx="1026.5" cy="399.8" r="17.4"/><path d="M1026 381.4A18.4 18.4 0 0 1 1026 418.2z" fill="#0000FF" stroke="none"/>
<circle cx="1033.7" cy="406.3" r="17.4"/><path d="M1033.2 387.9A18.4 18.4 0 0 1 1033.2 424.7z" fill="#0000FF" stroke="none"/>
<circle cx="1030.1" cy="417.8" r="17.4"/><path d="M1029.6 399.4A18.4 18.4 0 0 1 1029.6 436.2z" fill="#0000FF" stroke="none"/>
<circle cx="1035.2" cy="424.2" r="17.4"/><path d="M1034.7 405.8A18.4 18.4 0 0 1 1034.7 442.5z" fill="#0000FF" stroke="none"/>
<circle cx="1033.7" cy="434.9" r="17.4"/><path d="M1033.2 416.5A18.4 18.4 0 0 1 1033.2 453.3z" fill="#0000FF" stroke="none"/>
<circle cx="1034.4" cy="444.8" r="17.4"/><path d="M1033.9 426.4A18.4 18.4 0 0 1 1033.9 463.2z" fill="#0000FF" stroke="none"/>
<circle cx="1039.2" cy="449.3" r="17.4"/><path d="M1038.7 430.9A18.4 18.4 0 0 1 1038.7 467.7z" fill="#0000FF" stroke="none"/>
<circle cx="1043.6" cy="454.5" r="17.4"/><path d="M1043.1 436.1A18.4 18.4 0 0 1 1043.1 472.9z" fill="#0000FF" stroke="none"/>
<circle cx="1041" cy="461.9" r="17.4"/><path d="M1040.5 443.5A18.4 18.4 0 0 1 1040.5 480.3z" fill="#0000FF" stroke="none"/>
<circle cx="1040.8" cy="468.1" r="17.4"/><path d="M1040.3 449.8A18.4 18.4 0 0 1 1040.3 486.5z" fill="#0000FF" stroke="none"/>
<circle cx="1047.9" cy="474.7" r="17.4"/><path d="M1047.4 456.3A18.4 18.4 0 0 1 1047.4 493.1z" fill="#0000FF" stroke="none"/>
<circle cx="1046.2" cy="481.1" r="17.4"/><path d="M1045.7 462.7A18.4 18.4 0 0 1 1045.7 499.5z" fill="#0000FF" stroke="none"/>
<circle cx="1045.6" cy="489.1" r="17.4"/><path d="M1045.1 470.7A18.4 18.4 0 0 1 1045.1 507.5z" fill="#0000FF" stroke="none"/>
<circle cx="1051.5" cy="493.1" r="17.4"/><path d="M1051 474.7A18.4 18.4 0 0 1 1051 511.5z" fill="#0000FF" stroke="none"/>
<circle cx="1046.9" cy="505.1" r="17.4"/><path d="M1046.4 486.7A18.4 18.4 0 0 1 1046.4 523.5z" fill="#0000FF" stroke="none"/>
<circle cx="1052.9" cy="511.2" r="17.4"/><path d="M1052.4 492.8A18.4 18.4 0 0 1 1052.4 529.6z" fill="#0000FF" stroke="none"/>
<circle cx="1055.7" cy="517.8" r="17.4"/><path d="M1055.2 499.4A18.4 18.4 0 0 1 1055.2 536.2z" fill="#0000FF" stroke="none"/>
<circle cx="1058" cy="525.8" r="17.4"/><path d="M1057.5 507.4A18.4 18.4 0 0 1 1057.5 544.2z" fill="#0000FF" stroke="none"/>
<circle cx="1061.5" cy="534.8" r="17.4"/><path d="M1061 516.4A18.4 18.4 0 0 1 1061 553.2z" fill="#0000FF" stroke="none"/>
<circle cx="1059.8" cy="543.5" r="17.4"/><path d="M1059.3 525.1A18.4 18.4 0 0 1 1059.3 561.9z" fill="#0000FF" stroke="none"/>
<circle cx="1068.1" cy="551.4" r="17.4"/><path d="M1067.6 533A18.4 18.4 0 0 1 1067.6 569.8z" fill="#0000FF" stroke="none"/>
<circle cx="1067.6" cy="559.5" r="17.4"/><path d="M1067.1 541.1A18.4 18.4 0 0 1 1067.1 577.9z" fill="#0000FF" stroke="none"/>
<circle cx="1068.4" cy="567.5" r="17.4"/><path d="M1067.9 549.1A18.4 18.4 0 0 1 1067.9 585.9z" fill="#0000FF" stroke="none"/>
<circle cx="1071.2" cy="575.1" r="17.4"/><path d="M1070.7 556.7A18.4 18.4 0 0 1 1070.7 593.5z" fill="#0000FF" stroke="none"/>
<circle cx="1073.7" cy="579.1" r="17.4"/><path d="M1073.2 560.7A18.4 18.4 0 0 1 1073.2 597.5z" fill="#0000FF" stroke="none"/>
<circle cx="1075.8" cy="586.8" r="17.4"/><path d="M1075.3 568.4A18.4 18.4 0 0 1 1075.3 605.2z" fill="#0000FF" stroke="none"/>
<circle cx="1076.7" cy="591.7" r="17.4"/><path d="M1076.2 573.3A18.4 18.4 0 0 1 1076.2 610.1z" fill="#0000FF" stroke="none"/>
<circle cx="1079.2" cy="595.9" r="17.4"/><path d="M1078.7 577.5A18.4 18.4 0 0 1 1078.7 614.3z" fill="#0000FF" stroke="none"/>
<circle cx="1083.5" cy="604.8" r="17.4"/><path d="M1083 586.4A18.4 18.4 0 0 1 1083 623.1z" fill="#0000FF" stroke="none"/>
<circle cx="1083.3" cy="611.5" r="17.4"/><path d="M1082.8 593.1A18.4 18.4 0 0 1 1082.8 629.9z" fill="#0000FF" stroke="none"/>
<circle cx="1089.7" cy="616.9" r="17.4"/><path d="M1089.2 598.5A18.4 18.4 0 0 1 1089.2 635.3z" fill="#0000FF" stroke="none"/>
<circle cx="1088.7" cy="627.6" r="17.4"/><path d="M1088.2 609.2A18.4 18.4 0 0 1 1088.2 646z" fill="#0000FF" stroke="none"/>
<circle cx="1090.3" cy="634.6" r="17.4"/><path d="M1089.8 616.2A18.4 18.4 0 0 1 1089.8 653z" fill="#0000FF" stroke="none"/>
<circle cx="1091.1" cy="641.2" r="17.4"/><path d="M1090.6 622.8A18.4 18.4 0 0 1 1090.6 659.5z" fill="#0000FF" stroke="none"/>
<circle cx="1094.3" cy="649.1" r="17.4"/><path d="M1093.8 630.7A18.4 18.4 0 0 1 1093.8 667.5z" fill="#0000FF" stroke="none"/>
<circle cx="1096.6" cy="656.4" r="17.4"/><path d="M1096.1 638A18.4 18.4 0 0 1 1096.1 674.8z" fill="#0000FF" stroke="none"/>
<circle cx="1099.2" cy="665.8" r="17.4"/><path d="M1098.7 647.4A18.4 18.4 0 0 1 1098.7 684.2z" fill="#0000FF" stroke="none"/>
<circle cx="1100.9" cy="670.1" r="17.4"/><path d="M1100.4 651.7A18.4 18.4 0 0 1 1100.4 688.4z" fill="#0000FF" stroke="none"/>
<circle cx="1097.5" cy="679.6" r="17.4"/><path d="M1097 661.2A18.4 18.4 0 0 1 1097 698z" fill="#0000FF" stroke="none"/>
<circle cx="1104.9" cy="683.7" r="17.4"/><path d="M1104.4 665.3A18.4 18.4 0 0 1 1104.4 702.1z" fill="#0000FF" stroke="none"/>
<circle cx="1105.1" cy="690" r="17.4"/><path d="M1104.6 671.6A18.4 18.4 0 0 1 1104.6 708.4z" fill="#0000FF" stroke="none"/>
<circle cx="1109.4" cy="698.9" r="17.4"/><path d="M1108.9 680.5A18.4 18.4 0 0 1 1108.9 717.3z" fill="#0000FF" stroke="none"/>
<circle cx="1107.6" cy="707.8" r="17.4"/><path d="M1107.1 689.4A18.4 18.4 0 0 1 1107.1 726.2z" fill="#0000FF" stroke="none"/>
<circle cx="1114.6" cy="716.1" r="17.4"/><path d="M1114.1 697.7A18.4 18.4 0 0 1 1114.1 734.5z" fill="#0000FF" stroke="none"/>
<circle cx="1115.2" cy="728.4" r="17.4"/><path d="M1114.7 710A18.4 18.4 0 0 1 1114.7 746.8z" fill="#0000FF" stroke="none"/>
<circle cx="1125.4" cy="738.8" r="17.4"/><path d="M1124.9 720.4A18.4 18.4 0 0 1 1124.9 757.2z" fill="#0000FF" stroke="none"/>
<circle cx="1127.1" cy="747.7" r="17.4"/><path d="M1126.6 729.3A18.4 18.4 0 0 1 1126.6 766.1z" fill="#0000FF" stroke="none"/>
<circle cx="1128.7" cy="758.6" r="17.4"/><path d="M1128.2 740.2A18.4 18.4 0 0 1 1128.2 777z" fill="#0000FF" stroke="none"/>
<circle cx="1133.6" cy="767.4" r="17.4"/><path d="M1133.1 749A18.4 18.4 0 0 1 1133.1 785.8z" fill="#0000FF" stroke="none"/>
<circle cx="1137.2" cy="776" r="17.4"/><path d="M1136.7 757.6A18.4 18.4 0 0 1 1136.7 794.4z" fill="#0000FF" stroke="none"/>
<circle cx="1140.7" cy="786.9" r="17.4"/><path d="M1140.2 768.5A18.4 18.4 0 0 1 1140.2 805.3z" fill="#0000FF" stroke="none"/>
<circle cx="1141.9" cy="796.3" r="17.4"/><path d="M1141.4 777.9A18.4 18.4 0 0 1 1141.4 814.7z" fill="#0000FF" stroke="none"/>
<circle cx="1144" cy="806.3" r="17.4"/><path d="M1143.5 787.9A18.4 18.4 0 0 1 1143.5 824.7z" fill="#0000FF" stroke="none"/>
<circle cx="1145.7" cy="816.1" r="17.4"/><path d="M1145.2 797.7A18.4 18.4 0 0 1 1145.2 834.5z" fill="#0000FF" stroke="none"/>
<circle cx="1153.3" cy="828.1" r="17.4"/><path d="M1152.8 809.7A18.4 18.4 0 0 1 1152.8 846.5z" fill="#0000FF" stroke="none"/>
<circle cx="1159.5" cy="837.8" r="17.4"/><path d="M1159 819.4A18.4 18.4 0 0 1 1159 856.2z" fill="#0000FF" stroke="none"/>
<circle cx="1162.9" cy="850.2" r="17.4"/><path d="M1162.4 831.8A18.4 18.4 0 0 1 1162.4 868.6z" fill="#0000FF" stroke="none"/>
<circle cx="1166.9" cy="862.6" r="17.4"/><path d="M1166.4 844.3A18.4 18.4 0 0 1 1166.4 881z" fill="#0000FF" stroke="none"/>
<circle cx="1172" cy="868.9" r="17.4"/><path d="M1171.5 850.5A18.4 18.4 0 0 1 1171.5 887.3z" fill="#0000FF" stroke="none"/>
<circle cx="1173.4" cy="879.7" r="17.4"/><path d="M1172.9 861.3A18.4 18.4 0 0 1 1172.9 898.1z" fill="#0000FF" stroke="none"/>
<circle cx="1182.8" cy="890.4" r="17.4"/><path d="M1182.3 872A18.4 18.4 0 0 1 1182.3 908.8z" fill="#0000FF" stroke="none"/>
<circle cx="1189.4" cy="901" r="17.4"/><path d="M1188.9 882.6A18.4 18.4 0 0 1 1188.9 919.4z" fill="#0000FF" stroke="none"/>
<circle cx="1191.3" cy="908.3" r="17.4"/><path d="M1190.8 889.9A18.4 18.4 0 0 1 1190.8 926.7z" fill="#0000FF" stroke="none"/>
<circle cx="1197.8" cy="913.4" r="17.4"/><path d="M1197.3 895A18.4 18.4 0 0 1 1197.3 931.8z" fill="#0000FF" stroke="none"/>
<circle cx="1203.7" cy="922.4" r="17.4"/><path d="M1203.2 904A18.4 18.4 0 0 1 1203.2 940.8z" fill="#0000FF" stroke="none"/>
<circle cx="1208.2" cy="928.2" r="17.4"/><path d="M1207.7 909.8A18.4 18.4 0 0 1 1207.7 946.6z" fill="#0000FF" stroke="none"/>
<circle cx="1210.8" cy="937.6" r="17.4"/><path d="M1210.3 919.2A18.4 18.4 0 0 1 1210.3 956z" fill="#0000FF" stroke="none"/>
<circle cx="1216" cy="942" r="17.4"/><path d="M1215.5 923.6A18.4 18.4 0 0 1 1215.5 960.4z" fill="#0000FF" stroke="none"/>
<circle cx="1222.8" cy="952.9" r="17.4"/><path d="M1222.3 934.5A18.4 18.4 0 0 1 1222.3 971.3z" fill="#0000FF" stroke="none"/>
<circle cx="1229.8" cy="964.8" r="17.4"/><path d="M1229.3 946.4A18.4 18.4 0 0 1 1229.3 983.2z" fill="#0000FF" stroke="none"/>
<circle cx="1237.7" cy="975.5" r="17.4"/><path d="M1237.2 957.1A18.4 18.4 0 0 1 1237.2 993.9z" fill="#0000FF" stroke="none"/>
<circle cx="1241.6" cy="981.4" r="17.4"/><path d="M1241.1 963A18.4 18.4 0 0 1 1241.1 999.8z" fill="#0000FF" stroke="none"/>
<circle cx="1247.7" cy="990.7" r="17.4"/><path d="M1247.2 972.3A18.4 18.4 0 0 1 1247.2 1009.1z" fill="#0000FF" stroke="none"/>
<circle cx="1256.2" cy="998.8" r="17.4"/><path d="M1255.7 980.4A18.4 18.4 0 0 1 1255.7 1017.2z" fill="#0000FF" stroke="none"/>
<circle cx="1256.3" cy="1006.2" r="17.4"/><path d="M1255.8 987.8A18.4 18.4 0 0 1 1255.8 1024.6z" fill="#0000FF" stroke="none"/>
<circle cx="1262.8" cy="1017.3" r="17.4"/><path d="M1262.3 999A18.4 18.4 0 0 1 1262.3 1035.7z" fill="#0000FF" stroke="none"/>
<circle cx="1269" cy="1030.2" r="17.4"/><path d="M1268.5 1011.8A18.4 18.4 0 0 1 1268.5 1048.6z" fill="#0000FF" stroke="none"/>
<circle cx="1273.9" cy="1036.7" r="17.4"/><path d="M1273.4 1018.3A18.4 18.4 0 0 1 1273.4 1055z" fill="#0000FF" stroke="none"/>
<circle cx="1283.4" cy="1045.9" r="17.4"/><path d="M1282.9 1027.5A18.4 18.4 0 0 1 1282.9 1064.3z" fill="#0000FF" stroke="none"/>
<circle cx="1287.7" cy="1055.1" r="17.4"/><path d="M1287.2 1036.7A18.4 18.4 0 0 1 1287.2 1073.5z" fill="#0000FF" stroke="none"/>
<circle cx="1293.5" cy="1065" r="17.4"/><path d="M1293 1046.6A18.4 18.4 0 0 1 1293 1083.4z" fill="#0000FF" stroke="none"/>
<circle cx="1303.9" cy="1077.3" r="17.4"/><path d="M1303.4 1058.9A18.4 18.4 0 0 1 1303.4 1095.7z" fill="#0000FF" stroke="none"/>
<circle cx="1316.4" cy="1085.8" r="17.4"/><path d="M1315.9 1067.5A18.4 18.4 0 0 1 1315.9 1104.2z" fill="#0000FF" stroke="none"/>
<circle cx="1322.2" cy="1090.8" r="17.4"/><path d="M1321.7 1072.4A18.4 18.4 0 0 1 1321.7 1109.1z" fill="#0000FF" stroke="none"/>
<circle cx="1327.1" cy="1101.8" r="17.4"/><path d="M1326.6 1083.4A18.4 18.4 0 0 1 1326.6 1120.2z" fill="#0000FF" stroke="none"/>
<circle cx="1337.8" cy="1106.1" r="17.4"/><path d="M1337.3 1087.7A18.4 18.4 0 0 1 1337.3 1124.5z" fill="#0000FF" stroke="none"/>
<circle cx="1343.5" cy="1115" r="17.4"/><path d="M1343 1096.7A18.4 18.4 0 0 1 1343 1133.4z" fill="#0000FF" stroke="none"/>
<circle cx="1352.5" cy="1116.4" r="17.4"/><path d="M1352 1098A18.4 18.4 0 0 1 1352 1134.8z" fill="#0000FF" stroke="none"/>
<circle cx="1362.9" cy="1117.8" r="17.4"/><path d="M1362.4 1099.4A18.4 18.4 0 0 1 1362.4 1136.2z" fill="#0000FF" stroke="none"/>
<circle cx="1373.3" cy="1127.1" r="17.4"/><path d="M1372.8 1108.7A18.4 18.4 0 0 1 1372.8 1145.5z" fill="#0000FF" stroke="none"/>
<circle cx="1378.6" cy="1129.9" r="17.4"/><path d="M1378.1 1111.5A18.4 18.4 0 0 1 1378.1 1148.3z" fill="#0000FF" stroke="none"/>
<circle cx="1388.8" cy="1136.5" r="17.4"/><path d="M1388.3 1118.1A18.4 18.4 0 0 1 1388.3 1154.9z" fill="#0000FF" stroke="none"/>
<circle cx="1397.7" cy="1142.5" r="17.4"/><path d="M1397.2 1124.1A18.4 18.4 0 0 1 1397.2 1160.9z" fill="#0000FF" stroke="none"/>
<circle cx="1403.6" cy="1145.7" r="17.4"/><path d="M1403.1 1127.3A18.4 18.4 0 0 1 1403.1 1164.1z" fill="#0000FF" stroke="none"/>
<circle cx="1413.6" cy="1147.6" r="17.4"/><path d="M1413.1 1129.3A18.4 18.4 0 0 1 1413.1 1166z" fill="#0000FF" stroke="none"/>
<circle cx="1426" cy="1148.7" r="17.4"/><path d="M1425.5 1130.3A18.4 18.4 0 0 1 1425.5 1167.1z" fill="#0000FF" stroke="none"/>
<circle cx="1436.7" cy="1145.8" r="17.4"/><path d="M1436.2 1127.4A18.4 18.4 0 0 1 1436.2 1164.2z" fill="#0000FF" stroke="none"/>
<circle cx="1442.9" cy="1142.4" r="17.4"/><path d="M1442.4 1124A18.4 18.4 0 0 1 1442.4 1160.8z" fill="#0000FF" stroke="none"/>
<circle cx="1458.4" cy="1137.6" r="17.4"/><path d="M1457.9 1119.2A18.4 18.4 0 0 1 1457.9 1156z" fill="#0000FF" stroke="none"/>
<circle cx="1471.6" cy="1133.2" r="17.4"/><path d="M1471.1 1114.8A18.4 18.4 0 0 1 1471.1 1151.5z" fill="#0000FF" stroke="none"/>
<circle cx="1484.3" cy="1122.8" r="17.4"/><path d="M1483.8 1104.4A18.4 18.4 0 0 1 1483.8 1141.2z" fill="#0000FF" stroke="none"/>
<circle cx="1486.8" cy="1115.6" r="17.4"/><path d="M1486.3 1097.3A18.4 18.4 0 0 1 1486.3 1134z" fill="#0000FF" stroke="none"/>
<circle cx="1493.9" cy="1109.3" r="17.4"/><path d="M1493.4 1090.9A18.4 18.4 0 0 1 1493.4 1127.7z" fill="#0000FF" stroke="none"/>
<circle cx="1495.8" cy="1103" r="17.4"/><path d="M1495.3 1084.6A18.4 18.4 0 0 1 1495.3 1121.4z" fill="#0000FF" stroke="none"/>
<circle cx="1504.8" cy="1092.4" r="17.4"/><path d="M1504.3 1074A18.4 18.4 0 0 1 1504.3 1110.8z" fill="#0000FF" stroke="none"/>
<circle cx="1514.8" cy="1087.7" r="17.4"/><path d="M1514.3 1069.4A18.4 18.4 0 0 1 1514.3 1106.1z" fill="#0000FF" stroke="none"/>
<circle cx="1519.3" cy="1082.3" r="17.4"/><path d="M1518.8 1063.9A18.4 18.4 0 0 1 1518.8 1100.7z" fill="#0000FF" stroke="none"/>
<circle cx="1522.9" cy="1071.6" r="17.4"/><path d="M1522.4 1053.3A18.4 18.4 0 0 1 1522.4 1090z" fill="#0000FF" stroke="none"/>
<circle cx="1531.6" cy="1059.2" r="17.4"/><path d="M1531.1 1040.8A18.4 18.4 0 0 1 1531.1 1077.6z" fill="#0000FF" stroke="none"/>
<circle cx="1540.1" cy="1047.4" r="17.4"/><path d="M1539.6 1029A18.4 18.4 0 0 1 1539.6 1065.8z" fill="#0000FF" stroke="none"/>
<circle cx="1544.8" cy="1040.4" r="17.4"/><path d="M1544.3 1022A18.4 18.4 0 0 1 1544.3 1058.8z" fill="#0000FF" stroke="none"/>
<circle cx="1546.9" cy="1032.4" r="17.4"/><path d="M1546.4 1014A18.4 18.4 0 0 1 1546.4 1050.8z" fill="#0000FF" stroke="none"/>
<circle cx="1557.6" cy="1020.9" r="17.4"/><path d="M1557.1 1002.5A18.4 18.4 0 0 1 1557.1 1039.3z" fill="#0000FF" stroke="none"/>
<circle cx="1565" cy="1012.1" r="17.4"/><path d="M1564.5 993.7A18.4 18.4 0 0 1 1564.5 1030.5z" fill="#0000FF" stroke="none"/>
<circle cx="1570.8" cy="999.5" r="17.4"/><path d="M1570.3 981.1A18.4 18.4 0 0 1 1570.3 1017.9z" fill="#0000FF" stroke="none"/>
<circle cx="1579.8" cy="997.2" r="17.4"/><path d="M1579.3 978.8A18.4 18.4 0 0 1 1579.3 1015.6z" fill="#0000FF" stroke="none"/>
<circle cx="1582.5" cy="990.7" r="17.4"/><path d="M1582 972.3A18.4 18.4 0 0 1 1582 1009.1z" fill="#0000FF" stroke="none"/>
<circle cx="1589.5" cy="979.7" r="17.4"/><path d="M1589 961.3A18.4 18.4 0 0 1 1589 998.1z" fill="#0000FF" stroke="none"/>
<circle cx="1597.8" cy="973.7" r="17.4"/><path d="M1597.3 955.3A18.4 18.4 0 0 1 1597.3 992.1z" fill="#0000FF" stroke="none"/>
<circle cx="1599.5" cy="967.6" r="17.4"/><path d="M1599 949.2A18.4 18.4 0 0 1 1599 986z" fill="#0000FF" stroke="none"/>
<circle cx="1602" cy="952.6" r="17.4"/><path d="M1601.5 934.2A18.4 18.4 0 0 1 1601.5 971z" fill="#0000FF" stroke="none"/>
<circle cx="1610.4" cy="944.9" r="17.4"/><path d="M1609.9 926.5A18.4 18.4 0 0 1 1609.9 963.3z" fill="#0000FF" stroke="none"/>
<circle cx="1613.8" cy="932.6" r="17.4"/><path d="M1613.3 914.2A18.4 18.4 0 0 1 1613.3 951z" fill="#0000FF" stroke="none"/>
<circle cx="1621.5" cy="929.5" r="17.4"/><path d="M1621 911.1A18.4 18.4 0 0 1 1621 947.9z" fill="#0000FF" stroke="none"/>
<circle cx="1631.5" cy="918.4" r="17.4"/><path d="M1631 900A18.4 18.4 0 0 1 1631 936.8z" fill="#0000FF" stroke="none"/>
<circle cx="1637" cy="914.4" r="17.4"/><path d="M1636.5 896A18.4 18.4 0 0 1 1636.5 932.8z" fill="#0000FF" stroke="none"/>
<circle cx="1647.8" cy="904.6" r="17.4"/><path d="M1647.3 886.2A18.4 18.4 0 0 1 1647.3 922.9z" fill="#0000FF" stroke="none"/>
<circle cx="1654.6" cy="895.6" r="17.4"/><path d="M1654.1 877.2A18.4 18.4 0 0 1 1654.1 913.9z" fill="#0000FF" stroke="none"/>
<circle cx="1659.2" cy="886.4" r="17.4"/><path d="M1658.7 868A18.4 18.4 0 0 1 1658.7 904.8z" fill="#0000FF" stroke="none"/>
<circle cx="1669.7" cy="879.2" r="17.4"/><path d="M1669.2 860.8A18.4 18.4 0 0 1 1669.2 897.6z" fill="#0000FF" stroke="none"/>
<circle cx="1682.3" cy="870.2" r="17.4"/><path d="M1681.8 851.8A18.4 18.4 0 0 1 1681.8 888.6z" fill="#0000FF" stroke="none"/>
<circle cx="1686.7" cy="862" r="17.4"/><path d="M1686.2 843.6A18.4 18.4 0 0 1 1686.2 880.4z" fill="#0000FF" stroke="none"/>
<circle cx="1692" cy="856.4" r="17.4"/><path d="M1691.5 838A18.4 18.4 0 0 1 1691.5 874.8z" fill="#0000FF" stroke="none"/>
<circle cx="1704" cy="854.1" r="17.4"/><path d="M1703.5 835.7A18.4 18.4 0 0 1 1703.5 872.5z" fill="#0000FF" stroke="none"/>
<circle cx="1710.9" cy="848.7" r="17.4"/><path d="M1710.4 830.3A18.4 18.4 0 0 1 1710.4 867.1z" fill="#0000FF" stroke="none"/>
<circle cx="1716.4" cy="843.8" r="17.4"/><path d="M1715.9 825.4A18.4 18.4 0 0 1 1715.9 862.2z" fill="#0000FF" stroke="none"/>
<circle cx="1723.5" cy="840.4" r="17.4"/><path d="M1723 822.1A18.4 18.4 0 0 1 1723 858.8z" fill="#0000FF" stroke="none"/>
<circle cx="1730.6" cy="839.6" r="17.4"/><path d="M1730.1 821.2A18.4 18.4 0 0 1 1730.1 858z" fill="#0000FF" stroke="none"/>
<circle cx="1738.8" cy="837.9" r="17.4"/><path d="M1738.3 819.5A18.4 18.4 0 0 1 1738.3 856.3z" fill="#0000FF" stroke="none"/>
<circle cx="1748.5" cy="833.8" r="17.4"/><path d="M1748 815.5A18.4 18.4 0 0 1 1748 852.2z" fill="#0000FF" stroke="none"/>
<circle cx="1757.5" cy="834.9" r="17.4"/><path d="M1757 816.5A18.4 18.4 0 0 1 1757 853.3z" fill="#0000FF" stroke="none"/>
<circle cx="1771.1" cy="835.6" r="17.4"/><path d="M1770.6 817.2A18.4 18.4 0 0 1 1770.6 854z" fill="#0000FF" stroke="none"/>
<circle cx="1780.7" cy="834.2" r="17.4"/><path d="M1780.2 815.8A18.4 18.4 0 0 1 1780.2 852.6z" fill="#0000FF" stroke="none"/>
<circle cx="1791.9" cy="836.7" r="17.4"/><path d="M1791.4 818.3A18.4 18.4 0 0 1 1791.4 855.1z" fill="#0000FF" stroke="none"/>
<circle cx="1798.5" cy="841.8" r="17.4"/><path d="M1798 823.4A18.4 18.4 0 0 1 1798 860.2z" fill="#0000FF" stroke="none"/>
<circle cx="1806.7" cy="847.7" r="17.4"/><path d="M1806.2 829.3A18.4 18.4 0 0 1 1806.2 866.1z" fill="#0000FF" stroke="none"/>
<circle cx="1811.4" cy="852.8" r="17.4"/><path d="M1810.9 834.4A18.4 18.4 0 0 1 1810.9 871.2z" fill="#0000FF" stroke="none"/>
<circle cx="1819.5" cy="855.8" r="17.4"/><path d="M1819 837.4A18.4 18.4 0 0 1 1819 874.2z" fill="#0000FF" stroke="none"/>
<circle cx="1825.8" cy="858" r="17.4"/><path d="M1825.3 839.6A18.4 18.4 0 0 1 1825.3 876.4z" fill="#0000FF" stroke="none"/>
<circle cx="1833.7" cy="869" r="17.4"/><path d="M1833.2 850.6A18.4 18.4 0 0 1 1833.2 887.4z" fill="#0000FF" stroke="none"/>
<circle cx="1842.3" cy="877.9" r="17.4"/><path d="M1841.8 859.5A18.4 18.4 0 0 1 1841.8 896.3z" fill="#0000FF" stroke="none"/>
<circle cx="1849.7" cy="881.5" r="17.4"/><path d="M1849.2 863.1A18.4 18.4 0 0 1 1849.2 899.8z" fill="#0000FF" stroke="none"/>
<circle cx="1856.1" cy="891.7" r="17.4"/><path d="M1855.6 873.3A18.4 18.4 0 0 1 1855.6 910.1z" fill="#0000FF" stroke="none"/>
<circle cx="1866.5" cy="902.1" r="17.4"/><path d="M1866 883.7A18.4 18.4 0 0 1 1866 920.5z" fill="#0000FF" stroke="none"/>
<circle cx="1872.8" cy="906.8" r="17.4"/><path d="M1872.3 888.4A18.4 18.4 0 0 1 1872.3 925.2z" fill="#0000FF" stroke="none"/>
<circle cx="1886.5" cy="912.7" r="17.4"/><path d="M1886 894.3A18.4 18.4 0 0 1 1886 931.1z" fill="#0000FF" stroke="none"/>
<circle cx="1894.4" cy="919.8" r="17.4"/><path d="M1893.9 901.5A18.4 18.4 0 0 1 1893.9 938.2z" fill="#0000FF" stroke="none"/>
<circle cx="1904.2" cy="925.5" r="17.4"/><path d="M1903.7 907.1A18.4 18.4 0 0 1 1903.7 943.9z" fill="#0000FF" stroke="none"/>
<circle cx="1917.6" cy="932.7" r="17.4"/><path d="M1917.1 914.3A18.4 18.4 0 0 1 1917.1 951.1z" fill="#0000FF" stroke="none"/>
<circle cx="1927.8" cy="933.8" r="17.4"/><path d="M1927.3 915.4A18.4 18.4 0 0 1 1927.3 952.2z" fill="#0000FF" stroke="none"/>
<circle cx="1935.9" cy="943.4" r="17.4"/><path d="M1935.4 925A18.4 18.4 0 0 1 1935.4 961.8z" fill="#0000FF" stroke="none"/>
<circle cx="1945.1" cy="953.7" r="17.4"/><path d="M1944.6 935.3A18.4 18.4 0 0 1 1944.6 972.1z" fill="#0000FF" stroke="none"/>
<circle cx="1962.2" cy="956.5" r="17.4"/><path d="M1961.7 938.1A18.4 18.4 0 0 1 1961.7 974.9z" fill="#0000FF" stroke="none"/>
<circle cx="1970.3" cy="960.8" r="17.4"/><path d="M1969.8 942.4A18.4 18.4 0 0 1 1969.8 979.2z" fill="#0000FF" stroke="none"/>
<circle cx="1983" cy="968" r="17.4"/><path d="M1982.5 949.6A18.4 18.4 0 0 1 1982.5 986.4z" fill="#0000FF" stroke="none"/>
<circle cx="1994.3" cy="975.7" r="17.4"/><path d="M1993.8 957.3A18.4 18.4 0 0 1 1993.8 994.1z" fill="#0000FF" stroke="none"/>
<circle cx="2006.7" cy="979.7" r="17.4"/><path d="M2006.2 961.3A18.4 18.4 0 0 1 2006.2 998.1z" fill="#0000FF" stroke="none"/>
<circle cx="2016.1" cy="984.4" r="17.4"/><path d="M2015.6 966.1A18.4 18.4 0 0 1 2015.6 1002.8z" fill="#0000FF" stroke="none"/>
<circle cx="2024.9" cy="987.5" r="17.4"/><path d="M2024.4 969.1A18.4 18.4 0 0 1 2024.4 1005.9z" fill="#0000FF" stroke="none"/>
<circle cx="2030.4" cy="991.6" r="17.4"/><path d="M2029.9 973.2A18.4 18.4 0 0 1 2029.9 1010z" fill="#0000FF" stroke="none"/>
<circle cx="2038.1" cy="992.7" r="17.4"/><path d="M2037.6 974.3A18.4 18.4 0 0 1 2037.6 1011.1z" fill="#0000FF" stroke="none"/>
<circle cx="2044.9" cy="995.6" r="17.4"/><path d="M2044.4 977.2A18.4 18.4 0 0 1 2044.4 1014z" fill="#0000FF" stroke="none"/>
<circle cx="2058.5" cy="998.1" r="17.4"/><path d="M2058 979.7A18.4 18.4 0 0 1 2058 1016.5z" fill="#0000FF" stroke="none"/>
<circle cx="2067" cy="1000.3" r="17.4"/><path d="M2066.5 981.9A18.4 18.4 0 0 1 2066.5 1018.7z" fill="#0000FF" stroke="none"/>
<circle cx="2073.5" cy="1006" r="17.4"/><path d="M2073 987.6A18.4 18.4 0 0 1 2073 1024.4z" fill="#0000FF" stroke="none"/>
<circle cx="2079.9" cy="1009.7" r="17.4"/><path d="M2079.4 991.3A18.4 18.4 0 0 1 2079.4 1028.1z" fill="#0000FF" stroke="none"/>
<circle cx="2094.4" cy="1012.8" r="17.4"/><path d="M2093.9 994.4A18.4 18.4 0 0 1 2093.9 1031.2z" fill="#0000FF" stroke="none"/>
<circle cx="2109.3" cy="1014.9" r="17.4"/><path d="M2108.8 996.5A18.4 18.4 0 0 1 2108.8 1033.3z" fill="#0000FF" stroke="none"/>
<circle cx="2121.9" cy="1015.4" r="17.4"/><path d="M2121.4 997A18.4 18.4 0 0 1 2121.4 1033.8z" fill="#0000FF" stroke="none"/>
<circle cx="2131" cy="1018.5" r="17.4"/><path d="M2130.5 1000.1A18.4 18.4 0 0 1 2130.5 1036.9z" fill="#0000FF" stroke="none"/>
<circle cx="2139.9" cy="1018.1" r="17.4"/><path d="M2139.4 999.7A18.4 18.4 0 0 1 2139.4 1036.5z" fill="#0000FF" stroke="none"/>
<circle cx="2149" cy="1021.5" r="17.4"/><path d="M2148.5 1003.1A18.4 18.4 0 0 1 2148.5 1039.9z" fill="#0000FF" stroke="none"/>
<circle cx="2160.1" cy="1021.8" r="17.4"/><path d="M2159.6 1003.4A18.4 18.4 0 0 1 2159.6 1040.1z" fill="#0000FF" stroke="none"/>
<circle cx="2167.7" cy="1021.1" r="17.4"/><path d="M2167.2 1002.7A18.4 18.4 0 0 1 2167.2 1039.5z" fill="#0000FF" stroke="none"/>
<circle cx="2178.6" cy="1022.2" r="17.4"/><path d="M2178.1 1003.8A18.4 18.4 0 0 1 2178.1 1040.6z" fill="#0000FF" stroke="none"/>
<circle cx="2187.6" cy="1023.3" r="17.4"/><path d="M2187.1 1004.9A18.4 18.4 0 0 1 2187.1 1041.7z" fill="#0000FF" stroke="none"/>
<circle cx="2203.8" cy="1021.5" r="17.4"/><path d="M2203.3 1003.1A18.4 18.4 0 0 1 2203.3 1039.9z" fill="#0000FF" stroke="none"/>
<circle cx="2212" cy="1022.6" r="17.4"/><path d="M2211.5 1004.2A18.4 18.4 0 0 1 2211.5 1041z" fill="#0000FF" stroke="none"/>
</g>
<path d="M305,1602 315.2,1602 326.3,1602 339.4,1602 353,1602 359,1602.1 372.2,1602.1 385.4,1602.1 399.1,1602.1 410.2,1602.1 418.2,1602.1 431.9,1602.2 445,1602.2 457.1,1602.2 471.2,1602.2 480.3,1602.2 486.8,1602.2 497.4,1602.2 510.5,1602.2 518.1,1602.3 530.7,1602.3 544.8,1602.3 552.9,1602.3 564,1602.3 576,1602.3 586,1602.3 593.5,1602.3 601.5,1602.3 614,1602.3 627.1,1602.3 637.1,1602.3 643.6,1602.3 656.8,1602.3 669.4,1602.2 677.5,1602.2 688.5,1602.2 702.6,1602.2 716.2,1602.1 726.9,1602 737,1601.9 748.1,1601.8 755.7,1601.6 763.1,1601.3 760.5,1600.3 748.3,1599.1 750.1,1595.7 759.4,1590.4 766.7,1584.6 774.8,1578.1 780.5,1574.3 784.8,1570 793.9,1558.6 798.4,1551.8 801.8,1546.3 806.8,1537 811.2,1526.4 813.4,1520.4 816.1,1512.3 818.1,1506.1 820.5,1498.5 821.9,1494 823.3,1489.5 826.5,1479 829.5,1469 831.8,1461.5 835,1452.2 837.4,1445.4 841.2,1434.8 843.4,1428 846.4,1417.5 848.7,1408.5 851,1399 853.4,1388.3 854.7,1382.5 855.9,1377.8 857.1,1372.1 858.1,1366.8 859,1361.8 859.7,1357.1 860.8,1349.2 861.9,1339 862.7,1331.7 863.7,1321.1 864.8,1310.4 865.3,1305.9 866.2,1297.4 867.1,1290.4 867.8,1285.1 869.9,1274.4 871.6,1268.3 874.1,1260.2 876.3,1251.6 878.3,1240.8 879.7,1232.2 880.7,1225.4 881.8,1218.3 882.5,1213.1 884.1,1202.5 885.8,1191.3 886.6,1185.6 887.4,1181 888.3,1175 889.4,1168.3 891,1158.2 892.8,1147.6 894.4,1137.6 895.2,1132.9 896.9,1123.2 898.5,1114.1 900.1,1105.5 902.7,1094.9 904.4,1089.6 906.1,1084.3 907.8,1074.7 908.9,1064.3 909.8,1055.4 910.5,1049.2 911.9,1041.1 914.1,1031.6 915.3,1026.7 916.8,1020.1 918,1013.8 918.8,1008.5 920,1000.9 921,995.6 922.3,989.9 923.7,984.8 926.2,976.4 927.6,971.9 930.3,962.8 931.8,957 932.8,952.4 935.4,941.8 937,936 941.1,923.7 945.4,912.6 950.9,901.4 954.2,895.7 960,887.8 965,883.3 978,878.7 990.9,880.5 1001.6,885 1009,891.2 1013.3,897.8 1018.8,908.5 1022.6,916.8 1026.7,926.2 1029.1,931.8 1032,938.3 1034.3,943.4 1038.8,953.3 1043.1,962.2 1045.9,967.7 1051.9,978.7 1055.5,984.9 1059.9,992.6 1063.3,998.4 1067,1004.5 1074.3,1015.4 1080.4,1022.2 1085.5,1027.4 1091.9,1035.3 1096.2,1042 1102.7,1052.9 1105.9,1058.4 1113,1069.7 1116,1074.4 1123.6,1085.9 1130.3,1095.5 1135,1101.7 1141.5,1109.7 1146.8,1116.1 1151.9,1122.3 1157.1,1128.2 1162.9,1134.8 1172.1,1146.4 1180.6,1158.6 1189.6,1169.6 1194.7,1174.2 1201.6,1179.2 1213.1,1187 1218.2,1191.1 1227.2,1199.5 1233.2,1205.5 1243.9,1215.4 1248.3,1219.1 1258.4,1227.4 1265.2,1233 1270.4,1237.4 1274.8,1241.1 1284.8,1249.4 1293.2,1256.1 1299.2,1260.8 1307,1266.6 1319,1274.2 1326,1278 1336,1283 1342.5,1286.1 1349,1289 1360.5,1294.2 1371.6,1299.7 1378.1,1303 1384,1306 1389.8,1309 1399.8,1314 1409.5,1317.8 1417.5,1319.8 1424.8,1321.1 1435.8,1322.9 1447.7,1324.7 1460.5,1326 1471.5,1326.9 1479,1327.2 1485.5,1327.2 1497.7,1326.3 1507,1324.9 1518.9,1322.3 1524.8,1320.6 1536.9,1315.6 1544.9,1312.3 1557.5,1307.1 1570,1302 1579.4,1298.2 1584.7,1296.1 1597.8,1290.9 1607.2,1287.3 1619.7,1281.8 1627.2,1277.9 1634,1274.5 1646.7,1270.2 1655.8,1268.7 1662.8,1267.7 1671.7,1266.7 1682.5,1265.1 1688.1,1263.9 1698.4,1261.4 1707.9,1258.4 1736,1245 1795,1239.6 1820,1233.6 1839,1239.6 1881,1253 1903.6,1251 1916.2,1256.1 1923.4,1259.5 1935.1,1265.1 1940.7,1267.8 1946.6,1271 1957.2,1276.6 1963.8,1279.9 1969.4,1282.4 1980,1286 1990.5,1288.5 2001.1,1290.1 2013.1,1291.3 2019.7,1291.6 2033,1291.9 2045,1292.1 2051.4,1292.1 2058.3,1292.1 2068.5,1292 2078.9,1292 2087.3,1292 2093.9,1292 2103.5,1292 2110.6,1292.1 2121.7,1292.2 2135.4,1292.3 2142.4,1292.3 2153.5,1292.4 2166.2,1292.6 2173.4,1292.6 2186.7,1292.8 2200.8,1292.9 2210,1293 2212,1293" fill="none" stroke="#EF4242" stroke-width="6.5" stroke-linejoin="round"/>
<g fill="#fff" stroke="#EF4242" stroke-width="2.0" shape-rendering="crispEdges">
<circle cx="305.2" cy="1602.6" r="17.4"/><path d="M304.7 1584.2A18.4 18.4 0 0 1 304.7 1620.9z" fill="#EF4242" stroke="none"/>
<circle cx="315.5" cy="1600.6" r="17.4"/><path d="M315 1582.2A18.4 18.4 0 0 1 315 1619z" fill="#EF4242" stroke="none"/>
<circle cx="326.3" cy="1601.5" r="17.4"/><path d="M325.8 1583.1A18.4 18.4 0 0 1 325.8 1619.9z" fill="#EF4242" stroke="none"/>
<circle cx="339.7" cy="1600.2" r="17.4"/><path d="M339.2 1581.8A18.4 18.4 0 0 1 339.2 1618.6z" fill="#EF4242" stroke="none"/>
<circle cx="353.2" cy="1600" r="17.4"/><path d="M352.7 1581.6A18.4 18.4 0 0 1 352.7 1618.4z" fill="#EF4242" stroke="none"/>
<circle cx="359.1" cy="1603.5" r="17.4"/><path d="M358.6 1585.1A18.4 18.4 0 0 1 358.6 1621.9z" fill="#EF4242" stroke="none"/>
<circle cx="372.2" cy="1601.8" r="17.4"/><path d="M371.7 1583.5A18.4 18.4 0 0 1 371.7 1620.2z" fill="#EF4242" stroke="none"/>
<circle cx="385.2" cy="1601.5" r="17.4"/><path d="M384.7 1583.1A18.4 18.4 0 0 1 384.7 1619.9z" fill="#EF4242" stroke="none"/>
<circle cx="398.8" cy="1602.2" r="17.4"/><path d="M398.3 1583.8A18.4 18.4 0 0 1 398.3 1620.6z" fill="#EF4242" stroke="none"/>
<circle cx="410.2" cy="1602.9" r="17.4"/><path d="M409.7 1584.6A18.4 18.4 0 0 1 409.7 1621.3z" fill="#EF4242" stroke="none"/>
<circle cx="418.6" cy="1601.7" r="17.4"/><path d="M418.1 1583.4A18.4 18.4 0 0 1 418.1 1620.1z" fill="#EF4242" stroke="none"/>
<circle cx="431.4" cy="1602.8" r="17.4"/><path d="M430.9 1584.4A18.4 18.4 0 0 1 430.9 1621.2z" fill="#EF4242" stroke="none"/>
<circle cx="444.9" cy="1601.9" r="17.4"/><path d="M444.4 1583.5A18.4 18.4 0 0 1 444.4 1620.3z" fill="#EF4242" stroke="none"/>
<circle cx="456.9" cy="1601.4" r="17.4"/><path d="M456.4 1583A18.4 18.4 0 0 1 456.4 1619.8z" fill="#EF4242" stroke="none"/>
<circle cx="471.1" cy="1601.6" r="17.4"/><path d="M470.6 1583.2A18.4 18.4 0 0 1 470.6 1620z" fill="#EF4242" stroke="none"/>
<circle cx="480.2" cy="1601.6" r="17.4"/><path d="M479.7 1583.2A18.4 18.4 0 0 1 479.7 1620z" fill="#EF4242" stroke="none"/>
<circle cx="486.7" cy="1602.4" r="17.4"/><path d="M486.2 1584A18.4 18.4 0 0 1 486.2 1620.7z" fill="#EF4242" stroke="none"/>
<circle cx="497.6" cy="1603.3" r="17.4"/><path d="M497.1 1584.9A18.4 18.4 0 0 1 497.1 1621.7z" fill="#EF4242" stroke="none"/>
<circle cx="510.5" cy="1602.3" r="17.4"/><path d="M510 1583.9A18.4 18.4 0 0 1 510 1620.7z" fill="#EF4242" stroke="none"/>
<circle cx="518" cy="1601.9" r="17.4"/><path d="M517.5 1583.5A18.4 18.4 0 0 1 517.5 1620.3z" fill="#EF4242" stroke="none"/>
<circle cx="530.6" cy="1602.8" r="17.4"/><path d="M530.1 1584.4A18.4 18.4 0 0 1 530.1 1621.2z" fill="#EF4242" stroke="none"/>
<circle cx="545" cy="1602.4" r="17.4"/><path d="M544.5 1584A18.4 18.4 0 0 1 544.5 1620.8z" fill="#EF4242" stroke="none"/>
<circle cx="553.1" cy="1602.5" r="17.4"/><path d="M552.6 1584.1A18.4 18.4 0 0 1 552.6 1620.9z" fill="#EF4242" stroke="none"/>
<circle cx="563.8" cy="1601.4" r="17.4"/><path d="M563.3 1583A18.4 18.4 0 0 1 563.3 1619.8z" fill="#EF4242" stroke="none"/>
<circle cx="575.7" cy="1603.5" r="17.4"/><path d="M575.2 1585.1A18.4 18.4 0 0 1 575.2 1621.9z" fill="#EF4242" stroke="none"/>
<circle cx="585.8" cy="1601.6" r="17.4"/><path d="M585.3 1583.2A18.4 18.4 0 0 1 585.3 1620z" fill="#EF4242" stroke="none"/>
<circle cx="593.5" cy="1603.1" r="17.4"/><path d="M593 1584.7A18.4 18.4 0 0 1 593 1621.5z" fill="#EF4242" stroke="none"/>
<circle cx="601.7" cy="1601.8" r="17.4"/><path d="M601.2 1583.4A18.4 18.4 0 0 1 601.2 1620.2z" fill="#EF4242" stroke="none"/>
<circle cx="614.1" cy="1602.2" r="17.4"/><path d="M613.6 1583.8A18.4 18.4 0 0 1 613.6 1620.6z" fill="#EF4242" stroke="none"/>
<circle cx="627" cy="1601.3" r="17.4"/><path d="M626.5 1582.9A18.4 18.4 0 0 1 626.5 1619.7z" fill="#EF4242" stroke="none"/>
<circle cx="637" cy="1604.9" r="17.4"/><path d="M636.5 1586.5A18.4 18.4 0 0 1 636.5 1623.3z" fill="#EF4242" stroke="none"/>
<circle cx="643.7" cy="1602.6" r="17.4"/><path d="M643.2 1584.2A18.4 18.4 0 0 1 643.2 1621z" fill="#EF4242" stroke="none"/>
<circle cx="657" cy="1601.8" r="17.4"/><path d="M656.5 1583.4A18.4 18.4 0 0 1 656.5 1620.1z" fill="#EF4242" stroke="none"/>
<circle cx="669.5" cy="1601.2" r="17.4"/><path d="M669 1582.8A18.4 18.4 0 0 1 669 1619.6z" fill="#EF4242" stroke="none"/>
<circle cx="677.9" cy="1602.5" r="17.4"/><path d="M677.4 1584.1A18.4 18.4 0 0 1 677.4 1620.9z" fill="#EF4242" stroke="none"/>
<circle cx="688.7" cy="1602.4" r="17.4"/><path d="M688.2 1584A18.4 18.4 0 0 1 688.2 1620.8z" fill="#EF4242" stroke="none"/>
<circle cx="702.2" cy="1602.8" r="17.4"/><path d="M701.7 1584.4A18.4 18.4 0 0 1 701.7 1621.2z" fill="#EF4242" stroke="none"/>
<circle cx="716" cy="1602.5" r="17.4"/><path d="M715.5 1584.1A18.4 18.4 0 0 1 715.5 1620.9z" fill="#EF4242" stroke="none"/>
<circle cx="726.9" cy="1600.5" r="17.4"/><path d="M726.4 1582.1A18.4 18.4 0 0 1 726.4 1618.9z" fill="#EF4242" stroke="none"/>
<circle cx="736.7" cy="1602.3" r="17.4"/><path d="M736.2 1583.9A18.4 18.4 0 0 1 736.2 1620.7z" fill="#EF4242" stroke="none"/>
<circle cx="748.1" cy="1601.5" r="17.4"/><path d="M747.6 1583.2A18.4 18.4 0 0 1 747.6 1619.9z" fill="#EF4242" stroke="none"/>
<circle cx="755.4" cy="1601.1" r="17.4"/><path d="M754.9 1582.7A18.4 18.4 0 0 1 754.9 1619.5z" fill="#EF4242" stroke="none"/>
<circle cx="762.9" cy="1601.3" r="17.4"/><path d="M762.4 1582.9A18.4 18.4 0 0 1 762.4 1619.7z" fill="#EF4242" stroke="none"/>
<circle cx="760.2" cy="1599.1" r="17.4"/><path d="M759.7 1580.7A18.4 18.4 0 0 1 759.7 1617.5z" fill="#EF4242" stroke="none"/>
<circle cx="747.5" cy="1600.4" r="17.4"/><path d="M747 1582A18.4 18.4 0 0 1 747 1618.8z" fill="#EF4242" stroke="none"/>
<circle cx="749.7" cy="1595.2" r="17.4"/><path d="M749.2 1576.8A18.4 18.4 0 0 1 749.2 1613.6z" fill="#EF4242" stroke="none"/>
<circle cx="760.3" cy="1592" r="17.4"/><path d="M759.8 1573.6A18.4 18.4 0 0 1 759.8 1610.4z" fill="#EF4242" stroke="none"/>
<circle cx="766.9" cy="1585.1" r="17.4"/><path d="M766.4 1566.7A18.4 18.4 0 0 1 766.4 1603.5z" fill="#EF4242" stroke="none"/>
<circle cx="774.8" cy="1578.3" r="17.4"/><path d="M774.3 1559.9A18.4 18.4 0 0 1 774.3 1596.7z" fill="#EF4242" stroke="none"/>
<circle cx="781.9" cy="1575.6" r="17.4"/><path d="M781.4 1557.2A18.4 18.4 0 0 1 781.4 1594z" fill="#EF4242" stroke="none"/>
<circle cx="784.6" cy="1569.6" r="17.4"/><path d="M784.1 1551.2A18.4 18.4 0 0 1 784.1 1588z" fill="#EF4242" stroke="none"/>
<circle cx="795.3" cy="1560.1" r="17.4"/><path d="M794.8 1541.8A18.4 18.4 0 0 1 794.8 1578.5z" fill="#EF4242" stroke="none"/>
<circle cx="797.6" cy="1551.8" r="17.4"/><path d="M797.1 1533.4A18.4 18.4 0 0 1 797.1 1570.2z" fill="#EF4242" stroke="none"/>
<circle cx="802.4" cy="1546.4" r="17.4"/><path d="M801.9 1528A18.4 18.4 0 0 1 801.9 1564.8z" fill="#EF4242" stroke="none"/>
<circle cx="806.2" cy="1536.3" r="17.4"/><path d="M805.7 1517.9A18.4 18.4 0 0 1 805.7 1554.7z" fill="#EF4242" stroke="none"/>
<circle cx="803.9" cy="1523.3" r="17.4"/><path d="M803.4 1504.9A18.4 18.4 0 0 1 803.4 1541.7z" fill="#EF4242" stroke="none"/>
<circle cx="813" cy="1520" r="17.4"/><path d="M812.5 1501.6A18.4 18.4 0 0 1 812.5 1538.4z" fill="#EF4242" stroke="none"/>
<circle cx="814.6" cy="1511.4" r="17.4"/><path d="M814.1 1493A18.4 18.4 0 0 1 814.1 1529.8z" fill="#EF4242" stroke="none"/>
<circle cx="822" cy="1507.2" r="17.4"/><path d="M821.5 1488.8A18.4 18.4 0 0 1 821.5 1525.6z" fill="#EF4242" stroke="none"/>
<circle cx="822.3" cy="1498.8" r="17.4"/><path d="M821.8 1480.4A18.4 18.4 0 0 1 821.8 1517.2z" fill="#EF4242" stroke="none"/>
<circle cx="823.1" cy="1494.3" r="17.4"/><path d="M822.6 1475.9A18.4 18.4 0 0 1 822.6 1512.7z" fill="#EF4242" stroke="none"/>
<circle cx="825.6" cy="1490" r="17.4"/><path d="M825.1 1471.6A18.4 18.4 0 0 1 825.1 1508.3z" fill="#EF4242" stroke="none"/>
<circle cx="827.8" cy="1479.3" r="17.4"/><path d="M827.3 1460.9A18.4 18.4 0 0 1 827.3 1497.7z" fill="#EF4242" stroke="none"/>
<circle cx="825.6" cy="1467.9" r="17.4"/><path d="M825.1 1449.5A18.4 18.4 0 0 1 825.1 1486.3z" fill="#EF4242" stroke="none"/>
<circle cx="833.9" cy="1462" r="17.4"/><path d="M833.4 1443.6A18.4 18.4 0 0 1 833.4 1480.4z" fill="#EF4242" stroke="none"/>
<circle cx="834" cy="1452.1" r="17.4"/><path d="M833.5 1433.8A18.4 18.4 0 0 1 833.5 1470.5z" fill="#EF4242" stroke="none"/>
<circle cx="835.8" cy="1444.1" r="17.4"/><path d="M835.3 1425.7A18.4 18.4 0 0 1 835.3 1462.5z" fill="#EF4242" stroke="none"/>
<circle cx="842.7" cy="1435.5" r="17.4"/><path d="M842.2 1417.1A18.4 18.4 0 0 1 842.2 1453.9z" fill="#EF4242" stroke="none"/>
<circle cx="844.6" cy="1428.4" r="17.4"/><path d="M844.1 1410A18.4 18.4 0 0 1 844.1 1446.8z" fill="#EF4242" stroke="none"/>
<circle cx="847" cy="1417.5" r="17.4"/><path d="M846.5 1399.1A18.4 18.4 0 0 1 846.5 1435.9z" fill="#EF4242" stroke="none"/>
<circle cx="846.1" cy="1408.6" r="17.4"/><path d="M845.6 1390.2A18.4 18.4 0 0 1 845.6 1427z" fill="#EF4242" stroke="none"/>
<circle cx="850.5" cy="1398.5" r="17.4"/><path d="M850 1380.1A18.4 18.4 0 0 1 850 1416.9z" fill="#EF4242" stroke="none"/>
<circle cx="855.3" cy="1389.1" r="17.4"/><path d="M854.8 1370.7A18.4 18.4 0 0 1 854.8 1407.5z" fill="#EF4242" stroke="none"/>
<circle cx="856.6" cy="1383.1" r="17.4"/><path d="M856.1 1364.7A18.4 18.4 0 0 1 856.1 1401.5z" fill="#EF4242" stroke="none"/>
<circle cx="853.4" cy="1377.1" r="17.4"/><path d="M852.9 1358.7A18.4 18.4 0 0 1 852.9 1395.5z" fill="#EF4242" stroke="none"/>
<circle cx="854.4" cy="1371.5" r="17.4"/><path d="M853.9 1353.1A18.4 18.4 0 0 1 853.9 1389.9z" fill="#EF4242" stroke="none"/>
<circle cx="860.4" cy="1367.2" r="17.4"/><path d="M859.9 1348.8A18.4 18.4 0 0 1 859.9 1385.6z" fill="#EF4242" stroke="none"/>
<circle cx="856.9" cy="1361.6" r="17.4"/><path d="M856.4 1343.2A18.4 18.4 0 0 1 856.4 1380z" fill="#EF4242" stroke="none"/>
<circle cx="860.6" cy="1357.1" r="17.4"/><path d="M860.1 1338.7A18.4 18.4 0 0 1 860.1 1375.5z" fill="#EF4242" stroke="none"/>
<circle cx="861.9" cy="1348.8" r="17.4"/><path d="M861.4 1330.5A18.4 18.4 0 0 1 861.4 1367.2z" fill="#EF4242" stroke="none"/>
<circle cx="861" cy="1338.6" r="17.4"/><path d="M860.5 1320.2A18.4 18.4 0 0 1 860.5 1357z" fill="#EF4242" stroke="none"/>
<circle cx="863" cy="1331.8" r="17.4"/><path d="M862.5 1313.4A18.4 18.4 0 0 1 862.5 1350.2z" fill="#EF4242" stroke="none"/>
<circle cx="861.8" cy="1320.7" r="17.4"/><path d="M861.3 1302.3A18.4 18.4 0 0 1 861.3 1339.1z" fill="#EF4242" stroke="none"/>
<circle cx="865.8" cy="1310.9" r="17.4"/><path d="M865.3 1292.5A18.4 18.4 0 0 1 865.3 1329.3z" fill="#EF4242" stroke="none"/>
<circle cx="867.9" cy="1306.1" r="17.4"/><path d="M867.4 1287.7A18.4 18.4 0 0 1 867.4 1324.5z" fill="#EF4242" stroke="none"/>
<circle cx="864.2" cy="1297.7" r="17.4"/><path d="M863.7 1279.3A18.4 18.4 0 0 1 863.7 1316.1z" fill="#EF4242" stroke="none"/>
<circle cx="868.1" cy="1290.3" r="17.4"/><path d="M867.6 1271.9A18.4 18.4 0 0 1 867.6 1308.7z" fill="#EF4242" stroke="none"/>
<circle cx="865.2" cy="1284.6" r="17.4"/><path d="M864.7 1266.2A18.4 18.4 0 0 1 864.7 1303z" fill="#EF4242" stroke="none"/>
<circle cx="871" cy="1274.3" r="17.4"/><path d="M870.5 1255.9A18.4 18.4 0 0 1 870.5 1292.7z" fill="#EF4242" stroke="none"/>
<circle cx="870.3" cy="1267.8" r="17.4"/><path d="M869.8 1249.4A18.4 18.4 0 0 1 869.8 1286.2z" fill="#EF4242" stroke="none"/>
<circle cx="872" cy="1259.4" r="17.4"/><path d="M871.5 1241A18.4 18.4 0 0 1 871.5 1277.8z" fill="#EF4242" stroke="none"/>
<circle cx="871" cy="1250.5" r="17.4"/><path d="M870.5 1232.1A18.4 18.4 0 0 1 870.5 1268.9z" fill="#EF4242" stroke="none"/>
<circle cx="880.4" cy="1241" r="17.4"/><path d="M879.9 1222.6A18.4 18.4 0 0 1 879.9 1259.4z" fill="#EF4242" stroke="none"/>
<circle cx="878.5" cy="1231.5" r="17.4"/><path d="M878 1213.1A18.4 18.4 0 0 1 878 1249.9z" fill="#EF4242" stroke="none"/>
<circle cx="881.1" cy="1225.6" r="17.4"/><path d="M880.6 1207.2A18.4 18.4 0 0 1 880.6 1244z" fill="#EF4242" stroke="none"/>
<circle cx="881" cy="1218.4" r="17.4"/><path d="M880.5 1200A18.4 18.4 0 0 1 880.5 1236.8z" fill="#EF4242" stroke="none"/>
<circle cx="882.1" cy="1213" r="17.4"/><path d="M881.6 1194.6A18.4 18.4 0 0 1 881.6 1231.4z" fill="#EF4242" stroke="none"/>
<circle cx="882" cy="1202.1" r="17.4"/><path d="M881.5 1183.7A18.4 18.4 0 0 1 881.5 1220.5z" fill="#EF4242" stroke="none"/>
<circle cx="886.5" cy="1191.7" r="17.4"/><path d="M886 1173.3A18.4 18.4 0 0 1 886 1210.1z" fill="#EF4242" stroke="none"/>
<circle cx="885.8" cy="1185.5" r="17.4"/><path d="M885.3 1167.1A18.4 18.4 0 0 1 885.3 1203.9z" fill="#EF4242" stroke="none"/>
<circle cx="889" cy="1181.3" r="17.4"/><path d="M888.5 1163A18.4 18.4 0 0 1 888.5 1199.7z" fill="#EF4242" stroke="none"/>
<circle cx="887.1" cy="1175" r="17.4"/><path d="M886.6 1156.6A18.4 18.4 0 0 1 886.6 1193.4z" fill="#EF4242" stroke="none"/>
<circle cx="892.4" cy="1168.9" r="17.4"/><path d="M891.9 1150.5A18.4 18.4 0 0 1 891.9 1187.3z" fill="#EF4242" stroke="none"/>
<circle cx="891.5" cy="1157.9" r="17.4"/><path d="M891 1139.5A18.4 18.4 0 0 1 891 1176.3z" fill="#EF4242" stroke="none"/>
<circle cx="894.3" cy="1147.8" r="17.4"/><path d="M893.8 1129.4A18.4 18.4 0 0 1 893.8 1166.1z" fill="#EF4242" stroke="none"/>
<circle cx="892.6" cy="1136.9" r="17.4"/><path d="M892.1 1118.5A18.4 18.4 0 0 1 892.1 1155.3z" fill="#EF4242" stroke="none"/>
<circle cx="899.2" cy="1134.1" r="17.4"/><path d="M898.7 1115.7A18.4 18.4 0 0 1 898.7 1152.5z" fill="#EF4242" stroke="none"/>
<circle cx="895.3" cy="1122.8" r="17.4"/><path d="M894.8 1104.4A18.4 18.4 0 0 1 894.8 1141.2z" fill="#EF4242" stroke="none"/>
<circle cx="898.8" cy="1114" r="17.4"/><path d="M898.3 1095.6A18.4 18.4 0 0 1 898.3 1132.4z" fill="#EF4242" stroke="none"/>
<circle cx="902.2" cy="1105.8" r="17.4"/><path d="M901.7 1087.5A18.4 18.4 0 0 1 901.7 1124.2z" fill="#EF4242" stroke="none"/>
<circle cx="903.7" cy="1095.1" r="17.4"/><path d="M903.2 1076.7A18.4 18.4 0 0 1 903.2 1113.5z" fill="#EF4242" stroke="none"/>
<circle cx="905" cy="1089.6" r="17.4"/><path d="M904.5 1071.2A18.4 18.4 0 0 1 904.5 1108z" fill="#EF4242" stroke="none"/>
<circle cx="905.8" cy="1084.6" r="17.4"/><path d="M905.3 1066.2A18.4 18.4 0 0 1 905.3 1103z" fill="#EF4242" stroke="none"/>
<circle cx="905.7" cy="1074.2" r="17.4"/><path d="M905.2 1055.8A18.4 18.4 0 0 1 905.2 1092.6z" fill="#EF4242" stroke="none"/>
<circle cx="908.1" cy="1064.2" r="17.4"/><path d="M907.6 1045.8A18.4 18.4 0 0 1 907.6 1082.6z" fill="#EF4242" stroke="none"/>
<circle cx="912.1" cy="1055.4" r="17.4"/><path d="M911.6 1037A18.4 18.4 0 0 1 911.6 1073.8z" fill="#EF4242" stroke="none"/>
<circle cx="913.7" cy="1049.8" r="17.4"/><path d="M913.2 1031.4A18.4 18.4 0 0 1 913.2 1068.2z" fill="#EF4242" stroke="none"/>
<circle cx="910.5" cy="1040.8" r="17.4"/><path d="M910 1022.4A18.4 18.4 0 0 1 910 1059.1z" fill="#EF4242" stroke="none"/>
<circle cx="914.8" cy="1031.9" r="17.4"/><path d="M914.3 1013.5A18.4 18.4 0 0 1 914.3 1050.3z" fill="#EF4242" stroke="none"/>
<circle cx="917.9" cy="1027.2" r="17.4"/><path d="M917.4 1008.9A18.4 18.4 0 0 1 917.4 1045.6z" fill="#EF4242" stroke="none"/>
<circle cx="919.3" cy="1020.4" r="17.4"/><path d="M918.8 1002A18.4 18.4 0 0 1 918.8 1038.7z" fill="#EF4242" stroke="none"/>
<circle cx="920.8" cy="1014.5" r="17.4"/><path d="M920.3 996.1A18.4 18.4 0 0 1 920.3 1032.9z" fill="#EF4242" stroke="none"/>
<circle cx="920.5" cy="1008.8" r="17.4"/><path d="M920 990.4A18.4 18.4 0 0 1 920 1027.2z" fill="#EF4242" stroke="none"/>
<circle cx="918.8" cy="1000.4" r="17.4"/><path d="M918.3 982A18.4 18.4 0 0 1 918.3 1018.8z" fill="#EF4242" stroke="none"/>
<circle cx="922.6" cy="995.8" r="17.4"/><path d="M922.1 977.4A18.4 18.4 0 0 1 922.1 1014.2z" fill="#EF4242" stroke="none"/>
<circle cx="923.2" cy="990" r="17.4"/><path d="M922.7 971.6A18.4 18.4 0 0 1 922.7 1008.4z" fill="#EF4242" stroke="none"/>
<circle cx="923.1" cy="984.8" r="17.4"/><path d="M922.6 966.4A18.4 18.4 0 0 1 922.6 1003.2z" fill="#EF4242" stroke="none"/>
<circle cx="925.5" cy="976.3" r="17.4"/><path d="M925 958A18.4 18.4 0 0 1 925 994.7z" fill="#EF4242" stroke="none"/>
<circle cx="927.9" cy="972.1" r="17.4"/><path d="M927.4 953.7A18.4 18.4 0 0 1 927.4 990.5z" fill="#EF4242" stroke="none"/>
<circle cx="929.8" cy="962.9" r="17.4"/><path d="M929.3 944.5A18.4 18.4 0 0 1 929.3 981.3z" fill="#EF4242" stroke="none"/>
<circle cx="932.1" cy="957" r="17.4"/><path d="M931.6 938.6A18.4 18.4 0 0 1 931.6 975.4z" fill="#EF4242" stroke="none"/>
<circle cx="934.1" cy="952.7" r="17.4"/><path d="M933.6 934.3A18.4 18.4 0 0 1 933.6 971.1z" fill="#EF4242" stroke="none"/>
<circle cx="933.4" cy="941.5" r="17.4"/><path d="M932.9 923.1A18.4 18.4 0 0 1 932.9 959.9z" fill="#EF4242" stroke="none"/>
<circle cx="937" cy="936.2" r="17.4"/><path d="M936.5 917.8A18.4 18.4 0 0 1 936.5 954.6z" fill="#EF4242" stroke="none"/>
<circle cx="938" cy="922.7" r="17.4"/><path d="M937.5 904.3A18.4 18.4 0 0 1 937.5 941.1z" fill="#EF4242" stroke="none"/>
<circle cx="946.8" cy="913.5" r="17.4"/><path d="M946.3 895.1A18.4 18.4 0 0 1 946.3 931.9z" fill="#EF4242" stroke="none"/>
<circle cx="951.6" cy="901.9" r="17.4"/><path d="M951.1 883.5A18.4 18.4 0 0 1 951.1 920.3z" fill="#EF4242" stroke="none"/>
<circle cx="955.8" cy="896.3" r="17.4"/><path d="M955.3 877.9A18.4 18.4 0 0 1 955.3 914.7z" fill="#EF4242" stroke="none"/>
<circle cx="959.2" cy="887" r="17.4"/><path d="M958.7 868.6A18.4 18.4 0 0 1 958.7 905.4z" fill="#EF4242" stroke="none"/>
<circle cx="964.5" cy="883.2" r="17.4"/><path d="M964 864.8A18.4 18.4 0 0 1 964 901.6z" fill="#EF4242" stroke="none"/>
<circle cx="978.3" cy="879" r="17.4"/><path d="M977.8 860.6A18.4 18.4 0 0 1 977.8 897.4z" fill="#EF4242" stroke="none"/>
<circle cx="990" cy="883.4" r="17.4"/><path d="M989.5 865A18.4 18.4 0 0 1 989.5 901.8z" fill="#EF4242" stroke="none"/>
<circle cx="1003.5" cy="881.3" r="17.4"/><path d="M1003 862.9A18.4 18.4 0 0 1 1003 899.6z" fill="#EF4242" stroke="none"/>
<circle cx="1006.7" cy="893.1" r="17.4"/><path d="M1006.2 874.7A18.4 18.4 0 0 1 1006.2 911.5z" fill="#EF4242" stroke="none"/>
<circle cx="1012.4" cy="898.3" r="17.4"/><path d="M1011.9 879.9A18.4 18.4 0 0 1 1011.9 916.7z" fill="#EF4242" stroke="none"/>
<circle cx="1018.6" cy="908.4" r="17.4"/><path d="M1018.1 890A18.4 18.4 0 0 1 1018.1 926.8z" fill="#EF4242" stroke="none"/>
<circle cx="1026.1" cy="915.6" r="17.4"/><path d="M1025.6 897.2A18.4 18.4 0 0 1 1025.6 934z" fill="#EF4242" stroke="none"/>
<circle cx="1023.8" cy="927.2" r="17.4"/><path d="M1023.3 908.8A18.4 18.4 0 0 1 1023.3 945.6z" fill="#EF4242" stroke="none"/>
<circle cx="1029.8" cy="931.7" r="17.4"/><path d="M1029.3 913.3A18.4 18.4 0 0 1 1029.3 950.1z" fill="#EF4242" stroke="none"/>
<circle cx="1033.3" cy="937.7" r="17.4"/><path d="M1032.8 919.3A18.4 18.4 0 0 1 1032.8 956.1z" fill="#EF4242" stroke="none"/>
<circle cx="1033.2" cy="943.5" r="17.4"/><path d="M1032.7 925.1A18.4 18.4 0 0 1 1032.7 961.9z" fill="#EF4242" stroke="none"/>
<circle cx="1038.9" cy="953.1" r="17.4"/><path d="M1038.4 934.7A18.4 18.4 0 0 1 1038.4 971.5z" fill="#EF4242" stroke="none"/>
<circle cx="1043.5" cy="962" r="17.4"/><path d="M1043 943.6A18.4 18.4 0 0 1 1043 980.4z" fill="#EF4242" stroke="none"/>
<circle cx="1047.6" cy="967.2" r="17.4"/><path d="M1047.1 948.8A18.4 18.4 0 0 1 1047.1 985.6z" fill="#EF4242" stroke="none"/>
<circle cx="1049.7" cy="980.1" r="17.4"/><path d="M1049.2 961.7A18.4 18.4 0 0 1 1049.2 998.5z" fill="#EF4242" stroke="none"/>
<circle cx="1058.4" cy="983.3" r="17.4"/><path d="M1057.9 964.9A18.4 18.4 0 0 1 1057.9 1001.7z" fill="#EF4242" stroke="none"/>
<circle cx="1057.3" cy="993.9" r="17.4"/><path d="M1056.8 975.5A18.4 18.4 0 0 1 1056.8 1012.3z" fill="#EF4242" stroke="none"/>
<circle cx="1062.5" cy="998.7" r="17.4"/><path d="M1062 980.3A18.4 18.4 0 0 1 1062 1017.1z" fill="#EF4242" stroke="none"/>
<circle cx="1065.9" cy="1005.3" r="17.4"/><path d="M1065.4 986.9A18.4 18.4 0 0 1 1065.4 1023.7z" fill="#EF4242" stroke="none"/>
<circle cx="1073.1" cy="1016.6" r="17.4"/><path d="M1072.6 998.2A18.4 18.4 0 0 1 1072.6 1034.9z" fill="#EF4242" stroke="none"/>
<circle cx="1077.9" cy="1024.4" r="17.4"/><path d="M1077.4 1006A18.4 18.4 0 0 1 1077.4 1042.8z" fill="#EF4242" stroke="none"/>
<circle cx="1086.6" cy="1026.5" r="17.4"/><path d="M1086.1 1008.1A18.4 18.4 0 0 1 1086.1 1044.9z" fill="#EF4242" stroke="none"/>
<circle cx="1091.1" cy="1035.9" r="17.4"/><path d="M1090.6 1017.5A18.4 18.4 0 0 1 1090.6 1054.3z" fill="#EF4242" stroke="none"/>
<circle cx="1093.1" cy="1044.2" r="17.4"/><path d="M1092.6 1025.8A18.4 18.4 0 0 1 1092.6 1062.6z" fill="#EF4242" stroke="none"/>
<circle cx="1101.5" cy="1053.8" r="17.4"/><path d="M1101 1035.4A18.4 18.4 0 0 1 1101 1072.2z" fill="#EF4242" stroke="none"/>
<circle cx="1104.4" cy="1059.3" r="17.4"/><path d="M1103.9 1040.9A18.4 18.4 0 0 1 1103.9 1077.7z" fill="#EF4242" stroke="none"/>
<circle cx="1112.5" cy="1070" r="17.4"/><path d="M1112 1051.6A18.4 18.4 0 0 1 1112 1088.4z" fill="#EF4242" stroke="none"/>
<circle cx="1113.6" cy="1075.5" r="17.4"/><path d="M1113.1 1057.1A18.4 18.4 0 0 1 1113.1 1093.9z" fill="#EF4242" stroke="none"/>
<circle cx="1126.6" cy="1083.7" r="17.4"/><path d="M1126.1 1065.3A18.4 18.4 0 0 1 1126.1 1102.1z" fill="#EF4242" stroke="none"/>
<circle cx="1130.4" cy="1095.9" r="17.4"/><path d="M1129.9 1077.5A18.4 18.4 0 0 1 1129.9 1114.3z" fill="#EF4242" stroke="none"/>
<circle cx="1134.6" cy="1101.9" r="17.4"/><path d="M1134.1 1083.5A18.4 18.4 0 0 1 1134.1 1120.3z" fill="#EF4242" stroke="none"/>
<circle cx="1140.8" cy="1110.8" r="17.4"/><path d="M1140.3 1092.4A18.4 18.4 0 0 1 1140.3 1129.2z" fill="#EF4242" stroke="none"/>
<circle cx="1150.2" cy="1113.8" r="17.4"/><path d="M1149.7 1095.4A18.4 18.4 0 0 1 1149.7 1132.2z" fill="#EF4242" stroke="none"/>
<circle cx="1150.3" cy="1123.4" r="17.4"/><path d="M1149.8 1105A18.4 18.4 0 0 1 1149.8 1141.8z" fill="#EF4242" stroke="none"/>
<circle cx="1156.2" cy="1128.9" r="17.4"/><path d="M1155.7 1110.5A18.4 18.4 0 0 1 1155.7 1147.2z" fill="#EF4242" stroke="none"/>
<circle cx="1164.6" cy="1133.3" r="17.4"/><path d="M1164.1 1114.9A18.4 18.4 0 0 1 1164.1 1151.7z" fill="#EF4242" stroke="none"/>
<circle cx="1169.6" cy="1148.3" r="17.4"/><path d="M1169.1 1129.9A18.4 18.4 0 0 1 1169.1 1166.7z" fill="#EF4242" stroke="none"/>
<circle cx="1182.7" cy="1157" r="17.4"/><path d="M1182.2 1138.6A18.4 18.4 0 0 1 1182.2 1175.4z" fill="#EF4242" stroke="none"/>
<circle cx="1192.4" cy="1167.2" r="17.4"/><path d="M1191.9 1148.8A18.4 18.4 0 0 1 1191.9 1185.6z" fill="#EF4242" stroke="none"/>
<circle cx="1196.3" cy="1172.3" r="17.4"/><path d="M1195.8 1153.9A18.4 18.4 0 0 1 1195.8 1190.7z" fill="#EF4242" stroke="none"/>
<circle cx="1200.6" cy="1180.4" r="17.4"/><path d="M1200.1 1162A18.4 18.4 0 0 1 1200.1 1198.8z" fill="#EF4242" stroke="none"/>
<circle cx="1213.3" cy="1186" r="17.4"/><path d="M1212.8 1167.6A18.4 18.4 0 0 1 1212.8 1204.4z" fill="#EF4242" stroke="none"/>
<circle cx="1216.9" cy="1192.6" r="17.4"/><path d="M1216.4 1174.2A18.4 18.4 0 0 1 1216.4 1211z" fill="#EF4242" stroke="none"/>
<circle cx="1228.2" cy="1198.5" r="17.4"/><path d="M1227.7 1180.1A18.4 18.4 0 0 1 1227.7 1216.9z" fill="#EF4242" stroke="none"/>
<circle cx="1233.5" cy="1205" r="17.4"/><path d="M1233 1186.6A18.4 18.4 0 0 1 1233 1223.4z" fill="#EF4242" stroke="none"/>
<circle cx="1243.3" cy="1215.8" r="17.4"/><path d="M1242.8 1197.4A18.4 18.4 0 0 1 1242.8 1234.2z" fill="#EF4242" stroke="none"/>
<circle cx="1246.1" cy="1221.6" r="17.4"/><path d="M1245.6 1203.2A18.4 18.4 0 0 1 1245.6 1240z" fill="#EF4242" stroke="none"/>
<circle cx="1259.4" cy="1226.2" r="17.4"/><path d="M1258.9 1207.8A18.4 18.4 0 0 1 1258.9 1244.6z" fill="#EF4242" stroke="none"/>
<circle cx="1267.6" cy="1230.2" r="17.4"/><path d="M1267.1 1211.8A18.4 18.4 0 0 1 1267.1 1248.6z" fill="#EF4242" stroke="none"/>
<circle cx="1271.1" cy="1236.7" r="17.4"/><path d="M1270.6 1218.3A18.4 18.4 0 0 1 1270.6 1255.1z" fill="#EF4242" stroke="none"/>
<circle cx="1275.3" cy="1240.6" r="17.4"/><path d="M1274.8 1222.2A18.4 18.4 0 0 1 1274.8 1259z" fill="#EF4242" stroke="none"/>
<circle cx="1285.7" cy="1249.1" r="17.4"/><path d="M1285.2 1230.7A18.4 18.4 0 0 1 1285.2 1267.5z" fill="#EF4242" stroke="none"/>
<circle cx="1294.2" cy="1255" r="17.4"/><path d="M1293.7 1236.6A18.4 18.4 0 0 1 1293.7 1273.4z" fill="#EF4242" stroke="none"/>
<circle cx="1297.3" cy="1263.2" r="17.4"/><path d="M1296.8 1244.8A18.4 18.4 0 0 1 1296.8 1281.6z" fill="#EF4242" stroke="none"/>
<circle cx="1307.3" cy="1265.7" r="17.4"/><path d="M1306.8 1247.3A18.4 18.4 0 0 1 1306.8 1284.1z" fill="#EF4242" stroke="none"/>
<circle cx="1319.7" cy="1273.8" r="17.4"/><path d="M1319.2 1255.4A18.4 18.4 0 0 1 1319.2 1292.2z" fill="#EF4242" stroke="none"/>
<circle cx="1326.2" cy="1277.2" r="17.4"/><path d="M1325.7 1258.8A18.4 18.4 0 0 1 1325.7 1295.6z" fill="#EF4242" stroke="none"/>
<circle cx="1337.5" cy="1280.9" r="17.4"/><path d="M1337 1262.5A18.4 18.4 0 0 1 1337 1299.3z" fill="#EF4242" stroke="none"/>
<circle cx="1342.3" cy="1286.1" r="17.4"/><path d="M1341.8 1267.7A18.4 18.4 0 0 1 1341.8 1304.5z" fill="#EF4242" stroke="none"/>
<circle cx="1348" cy="1291.3" r="17.4"/><path d="M1347.5 1272.9A18.4 18.4 0 0 1 1347.5 1309.7z" fill="#EF4242" stroke="none"/>
<circle cx="1359.3" cy="1296.3" r="17.4"/><path d="M1358.8 1277.9A18.4 18.4 0 0 1 1358.8 1314.7z" fill="#EF4242" stroke="none"/>
<circle cx="1372.4" cy="1298" r="17.4"/><path d="M1371.9 1279.7A18.4 18.4 0 0 1 1371.9 1316.4z" fill="#EF4242" stroke="none"/>
<circle cx="1377.9" cy="1303.7" r="17.4"/><path d="M1377.4 1285.3A18.4 18.4 0 0 1 1377.4 1322.1z" fill="#EF4242" stroke="none"/>
<circle cx="1382.8" cy="1309" r="17.4"/><path d="M1382.3 1290.6A18.4 18.4 0 0 1 1382.3 1327.4z" fill="#EF4242" stroke="none"/>
<circle cx="1389.2" cy="1309.8" r="17.4"/><path d="M1388.7 1291.4A18.4 18.4 0 0 1 1388.7 1328.2z" fill="#EF4242" stroke="none"/>
<circle cx="1401" cy="1311.5" r="17.4"/><path d="M1400.5 1293.1A18.4 18.4 0 0 1 1400.5 1329.9z" fill="#EF4242" stroke="none"/>
<circle cx="1408.8" cy="1320.7" r="17.4"/><path d="M1408.3 1302.3A18.4 18.4 0 0 1 1408.3 1339.1z" fill="#EF4242" stroke="none"/>
<circle cx="1417.6" cy="1319" r="17.4"/><path d="M1417.1 1300.6A18.4 18.4 0 0 1 1417.1 1337.4z" fill="#EF4242" stroke="none"/>
<circle cx="1424.2" cy="1321.8" r="17.4"/><path d="M1423.7 1303.4A18.4 18.4 0 0 1 1423.7 1340.2z" fill="#EF4242" stroke="none"/>
<circle cx="1436.2" cy="1319.7" r="17.4"/><path d="M1435.7 1301.3A18.4 18.4 0 0 1 1435.7 1338.1z" fill="#EF4242" stroke="none"/>
<circle cx="1448.1" cy="1324.3" r="17.4"/><path d="M1447.6 1305.9A18.4 18.4 0 0 1 1447.6 1342.7z" fill="#EF4242" stroke="none"/>
<circle cx="1460.7" cy="1327.1" r="17.4"/><path d="M1460.2 1308.7A18.4 18.4 0 0 1 1460.2 1345.5z" fill="#EF4242" stroke="none"/>
<circle cx="1471.8" cy="1327.1" r="17.4"/><path d="M1471.3 1308.7A18.4 18.4 0 0 1 1471.3 1345.5z" fill="#EF4242" stroke="none"/>
<circle cx="1478.9" cy="1327.3" r="17.4"/><path d="M1478.4 1308.9A18.4 18.4 0 0 1 1478.4 1345.7z" fill="#EF4242" stroke="none"/>
<circle cx="1485.5" cy="1327.2" r="17.4"/><path d="M1485 1308.8A18.4 18.4 0 0 1 1485 1345.6z" fill="#EF4242" stroke="none"/>
<circle cx="1497.8" cy="1327.3" r="17.4"/><path d="M1497.3 1308.9A18.4 18.4 0 0 1 1497.3 1345.7z" fill="#EF4242" stroke="none"/>
<circle cx="1507.2" cy="1326.4" r="17.4"/><path d="M1506.7 1308A18.4 18.4 0 0 1 1506.7 1344.8z" fill="#EF4242" stroke="none"/>
<circle cx="1519.2" cy="1324.8" r="17.4"/><path d="M1518.7 1306.4A18.4 18.4 0 0 1 1518.7 1343.2z" fill="#EF4242" stroke="none"/>
<circle cx="1524.5" cy="1318.4" r="17.4"/><path d="M1524 1300A18.4 18.4 0 0 1 1524 1336.8z" fill="#EF4242" stroke="none"/>
<circle cx="1537.9" cy="1317" r="17.4"/><path d="M1537.4 1298.7A18.4 18.4 0 0 1 1537.4 1335.4z" fill="#EF4242" stroke="none"/>
<circle cx="1545.9" cy="1314.7" r="17.4"/><path d="M1545.4 1296.4A18.4 18.4 0 0 1 1545.4 1333.1z" fill="#EF4242" stroke="none"/>
<circle cx="1558.2" cy="1308.4" r="17.4"/><path d="M1557.7 1290A18.4 18.4 0 0 1 1557.7 1326.8z" fill="#EF4242" stroke="none"/>
<circle cx="1568" cy="1297" r="17.4"/><path d="M1567.5 1278.6A18.4 18.4 0 0 1 1567.5 1315.4z" fill="#EF4242" stroke="none"/>
<circle cx="1579.1" cy="1297.1" r="17.4"/><path d="M1578.6 1278.7A18.4 18.4 0 0 1 1578.6 1315.5z" fill="#EF4242" stroke="none"/>
<circle cx="1584.7" cy="1295.3" r="17.4"/><path d="M1584.2 1277A18.4 18.4 0 0 1 1584.2 1313.7z" fill="#EF4242" stroke="none"/>
<circle cx="1597.4" cy="1290.3" r="17.4"/><path d="M1596.9 1271.9A18.4 18.4 0 0 1 1596.9 1308.7z" fill="#EF4242" stroke="none"/>
<circle cx="1608.2" cy="1289.1" r="17.4"/><path d="M1607.7 1270.7A18.4 18.4 0 0 1 1607.7 1307.5z" fill="#EF4242" stroke="none"/>
<circle cx="1619.9" cy="1282.4" r="17.4"/><path d="M1619.4 1264A18.4 18.4 0 0 1 1619.4 1300.8z" fill="#EF4242" stroke="none"/>
<circle cx="1628.5" cy="1280.4" r="17.4"/><path d="M1628 1262A18.4 18.4 0 0 1 1628 1298.8z" fill="#EF4242" stroke="none"/>
<circle cx="1634.1" cy="1273.6" r="17.4"/><path d="M1633.6 1255.2A18.4 18.4 0 0 1 1633.6 1292z" fill="#EF4242" stroke="none"/>
<circle cx="1647.1" cy="1270.8" r="17.4"/><path d="M1646.6 1252.4A18.4 18.4 0 0 1 1646.6 1289.2z" fill="#EF4242" stroke="none"/>
<circle cx="1655.1" cy="1267.3" r="17.4"/><path d="M1654.6 1248.9A18.4 18.4 0 0 1 1654.6 1285.7z" fill="#EF4242" stroke="none"/>
<circle cx="1662.7" cy="1267.8" r="17.4"/><path d="M1662.2 1249.4A18.4 18.4 0 0 1 1662.2 1286.2z" fill="#EF4242" stroke="none"/>
<circle cx="1671.5" cy="1265.2" r="17.4"/><path d="M1671 1246.8A18.4 18.4 0 0 1 1671 1283.6z" fill="#EF4242" stroke="none"/>
<circle cx="1682.6" cy="1264.9" r="17.4"/><path d="M1682.1 1246.6A18.4 18.4 0 0 1 1682.1 1283.3z" fill="#EF4242" stroke="none"/>
<circle cx="1687.7" cy="1262.8" r="17.4"/><path d="M1687.2 1244.5A18.4 18.4 0 0 1 1687.2 1281.2z" fill="#EF4242" stroke="none"/>
<circle cx="1698.6" cy="1261.4" r="17.4"/><path d="M1698.1 1243A18.4 18.4 0 0 1 1698.1 1279.8z" fill="#EF4242" stroke="none"/>
<circle cx="1707.9" cy="1258.4" r="17.4"/><path d="M1707.4 1240A18.4 18.4 0 0 1 1707.4 1276.8z" fill="#EF4242" stroke="none"/>
<circle cx="1736" cy="1245" r="17.4"/><path d="M1735.5 1226.6A18.4 18.4 0 0 1 1735.5 1263.4z" fill="#EF4242" stroke="none"/>
<circle cx="1795" cy="1239.6" r="17.4"/><path d="M1794.5 1221.2A18.4 18.4 0 0 1 1794.5 1258z" fill="#EF4242" stroke="none"/>
<circle cx="1820" cy="1233.6" r="17.4"/><path d="M1819.5 1215.2A18.4 18.4 0 0 1 1819.5 1252z" fill="#EF4242" stroke="none"/>
<circle cx="1839" cy="1239.6" r="17.4"/><path d="M1838.5 1221.2A18.4 18.4 0 0 1 1838.5 1258z" fill="#EF4242" stroke="none"/>
<circle cx="1881" cy="1253" r="17.4"/><path d="M1880.5 1234.6A18.4 18.4 0 0 1 1880.5 1271.4z" fill="#EF4242" stroke="none"/>
<circle cx="1903.6" cy="1251" r="17.4"/><path d="M1903.1 1232.6A18.4 18.4 0 0 1 1903.1 1269.4z" fill="#EF4242" stroke="none"/>
<circle cx="1916" cy="1256.3" r="17.4"/><path d="M1915.5 1237.9A18.4 18.4 0 0 1 1915.5 1274.7z" fill="#EF4242" stroke="none"/>
<circle cx="1923.8" cy="1259.2" r="17.4"/><path d="M1923.3 1240.8A18.4 18.4 0 0 1 1923.3 1277.5z" fill="#EF4242" stroke="none"/>
<circle cx="1933.2" cy="1267.5" r="17.4"/><path d="M1932.7 1249.1A18.4 18.4 0 0 1 1932.7 1285.9z" fill="#EF4242" stroke="none"/>
<circle cx="1940.4" cy="1268" r="17.4"/><path d="M1939.9 1249.6A18.4 18.4 0 0 1 1939.9 1286.4z" fill="#EF4242" stroke="none"/>
<circle cx="1947.5" cy="1269.4" r="17.4"/><path d="M1947 1251A18.4 18.4 0 0 1 1947 1287.8z" fill="#EF4242" stroke="none"/>
<circle cx="1957.9" cy="1274.6" r="17.4"/><path d="M1957.4 1256.2A18.4 18.4 0 0 1 1957.4 1293z" fill="#EF4242" stroke="none"/>
<circle cx="1963.4" cy="1280.7" r="17.4"/><path d="M1962.9 1262.3A18.4 18.4 0 0 1 1962.9 1299.1z" fill="#EF4242" stroke="none"/>
<circle cx="1968.2" cy="1285.1" r="17.4"/><path d="M1967.7 1266.7A18.4 18.4 0 0 1 1967.7 1303.5z" fill="#EF4242" stroke="none"/>
<circle cx="1979" cy="1289.1" r="17.4"/><path d="M1978.5 1270.7A18.4 18.4 0 0 1 1978.5 1307.5z" fill="#EF4242" stroke="none"/>
<circle cx="1990.6" cy="1286.9" r="17.4"/><path d="M1990.1 1268.5A18.4 18.4 0 0 1 1990.1 1305.3z" fill="#EF4242" stroke="none"/>
<circle cx="2001.3" cy="1290" r="17.4"/><path d="M2000.8 1271.6A18.4 18.4 0 0 1 2000.8 1308.4z" fill="#EF4242" stroke="none"/>
<circle cx="2013.8" cy="1290" r="17.4"/><path d="M2013.3 1271.7A18.4 18.4 0 0 1 2013.3 1308.4z" fill="#EF4242" stroke="none"/>
<circle cx="2019.7" cy="1291.9" r="17.4"/><path d="M2019.2 1273.5A18.4 18.4 0 0 1 2019.2 1310.3z" fill="#EF4242" stroke="none"/>
<circle cx="2033.1" cy="1292.2" r="17.4"/><path d="M2032.6 1273.8A18.4 18.4 0 0 1 2032.6 1310.6z" fill="#EF4242" stroke="none"/>
<circle cx="2044.8" cy="1292.3" r="17.4"/><path d="M2044.3 1273.9A18.4 18.4 0 0 1 2044.3 1310.6z" fill="#EF4242" stroke="none"/>
<circle cx="2051.4" cy="1291.6" r="17.4"/><path d="M2050.9 1273.2A18.4 18.4 0 0 1 2050.9 1310z" fill="#EF4242" stroke="none"/>
<circle cx="2058.2" cy="1292.5" r="17.4"/><path d="M2057.7 1274.1A18.4 18.4 0 0 1 2057.7 1310.9z" fill="#EF4242" stroke="none"/>
<circle cx="2068.2" cy="1292.1" r="17.4"/><path d="M2067.7 1273.7A18.4 18.4 0 0 1 2067.7 1310.5z" fill="#EF4242" stroke="none"/>
<circle cx="2079.2" cy="1291.6" r="17.4"/><path d="M2078.7 1273.2A18.4 18.4 0 0 1 2078.7 1310z" fill="#EF4242" stroke="none"/>
<circle cx="2087.3" cy="1291.8" r="17.4"/><path d="M2086.8 1273.4A18.4 18.4 0 0 1 2086.8 1310.2z" fill="#EF4242" stroke="none"/>
<circle cx="2093.7" cy="1291.2" r="17.4"/><path d="M2093.2 1272.8A18.4 18.4 0 0 1 2093.2 1309.6z" fill="#EF4242" stroke="none"/>
<circle cx="2103.7" cy="1290.9" r="17.4"/><path d="M2103.2 1272.5A18.4 18.4 0 0 1 2103.2 1309.3z" fill="#EF4242" stroke="none"/>
<circle cx="2110.7" cy="1292.3" r="17.4"/><path d="M2110.2 1273.9A18.4 18.4 0 0 1 2110.2 1310.7z" fill="#EF4242" stroke="none"/>
<circle cx="2121.8" cy="1292.2" r="17.4"/><path d="M2121.3 1273.9A18.4 18.4 0 0 1 2121.3 1310.6z" fill="#EF4242" stroke="none"/>
<circle cx="2135.3" cy="1292.6" r="17.4"/><path d="M2134.8 1274.2A18.4 18.4 0 0 1 2134.8 1311z" fill="#EF4242" stroke="none"/>
<circle cx="2142.5" cy="1291.5" r="17.4"/><path d="M2142 1273.1A18.4 18.4 0 0 1 2142 1309.9z" fill="#EF4242" stroke="none"/>
<circle cx="2153.4" cy="1291.4" r="17.4"/><path d="M2152.9 1273A18.4 18.4 0 0 1 2152.9 1309.8z" fill="#EF4242" stroke="none"/>
<circle cx="2165.6" cy="1292.3" r="17.4"/><path d="M2165.1 1273.9A18.4 18.4 0 0 1 2165.1 1310.7z" fill="#EF4242" stroke="none"/>
<circle cx="2173.6" cy="1292" r="17.4"/><path d="M2173.1 1273.6A18.4 18.4 0 0 1 2173.1 1310.4z" fill="#EF4242" stroke="none"/>
<circle cx="2186.8" cy="1292.6" r="17.4"/><path d="M2186.3 1274.3A18.4 18.4 0 0 1 2186.3 1311z" fill="#EF4242" stroke="none"/>
<circle cx="2201" cy="1293.5" r="17.4"/><path d="M2200.5 1275.1A18.4 18.4 0 0 1 2200.5 1311.9z" fill="#EF4242" stroke="none"/>
<circle cx="2209.9" cy="1293.3" r="17.4"/><path d="M2209.4 1274.9A18.4 18.4 0 0 1 2209.4 1311.7z" fill="#EF4242" stroke="none"/>
<circle cx="2211.8" cy="1293.9" r="17.4"/><path d="M2211.3 1275.5A18.4 18.4 0 0 1 2211.3 1312.3z" fill="#EF4242" stroke="none"/>
</g>
<path d="M305,1614 315.2,1614 326.8,1614 335.4,1614 341.5,1614 351.1,1614 357.2,1614 368.7,1614 377.3,1614 387.3,1614.1 398.3,1614.1 406.4,1614.1 416.4,1614.1 422.4,1614.1 436.5,1614.1 447.5,1614.1 462.1,1614.1 468.1,1614.1 479.1,1614.1 491.2,1614.1 499.7,1614.2 506.3,1614.2 513.3,1614.2 520.4,1614.2 533,1614.2 539.5,1614.2 552.6,1614.2 562.1,1614.2 572.6,1614.2 583.6,1614.2 594.1,1614.2 605.7,1614.2 616.8,1614.2 625.4,1614.2 638,1614.2 646.1,1614.2 658.1,1614.2 670.7,1614.2 683.3,1614.2 691.8,1614.2 704.4,1614.2 719,1614.2 729.1,1614.2 737.2,1614.2 747.8,1614.2 761.9,1614.1 768.9,1614.1 775,1614.1 785,1614.1 796.5,1614 809.2,1613.9 818.3,1613.9 833.1,1613.6 841.1,1613.4 838.8,1612.2 832.3,1611.6 832.3,1610.7 839,1609.5 845,1608.2 855.1,1606.1 861.1,1604.7 865.1,1603.9 872.7,1602.2 877.6,1601.1 881.8,1600.2 886.1,1599.2 892.9,1597.5 900.5,1595.6 904.4,1594.6 907.6,1593.7 914.6,1591.8 919.1,1590.7 926.8,1588.7 932.5,1587.2 938.9,1585.4 943.7,1583.9 950.4,1581.8 955.5,1580.2 960,1579 967.7,1577.5 971.5,1576.9 978.5,1575.9 982.4,1575.1 988.5,1573.6 993.8,1572.1 1001,1570.1 1004.3,1569.4 1010.5,1568.3 1015.9,1567.6 1024,1566.7 1031.6,1565.7 1038,1564.5 1042.4,1563.3 1046.7,1561.8 1050.9,1560.2 1056.2,1557.9 1060,1556.3 1064.1,1554.6 1070.9,1552.3 1077,1550.8 1081.8,1550 1096.2,1548.5 1104.1,1548 1114.9,1547.1 1121.9,1546.3 1135.2,1543.8 1148.6,1540.5 1156.4,1538.4 1168.7,1535.6 1181.5,1532.6 1189.6,1530 1197.8,1527.4 1207.5,1524.2 1220.6,1520.3 1227.5,1518.5 1239.1,1515.7 1249.7,1512.9 1259.2,1509.9 1269.6,1506.3 1282.2,1501.4 1289.3,1498.3 1300.3,1492.4 1305.9,1488.5 1313.4,1482.9 1321.7,1476.9 1326.4,1473.7 1335.2,1467.9 1344.4,1461.6 1349.6,1457.8 1353.4,1454.9 1357.3,1451.7 1365.6,1444.2 1368.7,1441.3 1376,1434 1380,1429.9 1386.4,1423.2 1390,1419.2 1393.6,1415.3 1399.7,1408.4 1403,1404.5 1407.4,1399.4 1414.1,1391.2 1419.7,1384.3 1426.3,1376.2 1433.2,1367.6 1436.1,1363.9 1440,1359 1445.9,1351.4 1451.5,1344.1 1454.1,1340.5 1458.6,1334.4 1462,1329.7 1466.3,1323.5 1469.1,1319.2 1471.3,1315.5 1477.1,1306.1 1481.1,1300.6 1487.7,1292.6 1491.1,1288.9 1496.4,1283.4 1500.4,1279.7 1505.8,1275 1510.3,1271.3 1517.6,1266 1522.1,1263.1 1530.6,1258.8 1538,1256.3 1543.2,1255.2 1549.9,1254.7 1557.4,1255.1 1567.6,1257.2 1573.7,1259.7 1579,1262.6 1589.1,1267.2 1599,1270.7 1607.6,1273.8 1613.4,1276.3 1618.7,1278.8 1623.9,1281.5 1628.4,1283.9 1632.4,1286.1 1639.5,1290.1 1645.8,1293.7 1653.2,1297.8 1659.4,1301.2 1663.3,1303.3 1671.2,1307.7 1678.5,1312.1 1685.4,1316.5 1692.3,1321.1 1699.7,1326.2 1708.7,1332.2 1717.3,1337.7 1725,1342.6 1731.3,1346.4 1737,1349.7 1743.5,1352.8 1753.9,1356.3 1761,1357.8 1768.1,1359 1775,1360 1780.5,1360.7 1791.4,1361.8 1796,1362.1 1804.5,1362.7 1815.2,1363.6 1821.4,1364.2 1829.6,1364.7 1836.6,1365 1842.6,1365 1848.4,1365 1853.4,1364.9 1863.7,1364.8 1873.5,1364.6 1884.2,1364.2 1889,1364 1897.9,1363.5 1904.5,1363.1 1913,1362.4 1921.2,1361.7 1927.7,1361.1 1938.5,1359.9 1942.8,1359.3 1952,1358.1 1962.3,1356.5 1970,1355.2 1978.1,1353.6 1989,1351.2 1994.8,1349.9 2003.3,1347.8 2012.6,1345.4 2019.3,1343.6 2028,1341.2 2034.9,1339.3 2042.5,1337.1 2050.3,1334.4 2058.7,1331.2 2064.9,1328.8 2073.1,1325.9 2080.5,1323 2085.8,1321.1 2094.1,1319 2100,1318 2110.6,1316.8 2118.3,1316.2 2127.8,1315.5 2135.6,1315.1 2143,1314.7 2148.8,1314.5 2153.9,1314.3 2164.5,1314 2172.6,1314 2180.4,1314.2 2188.5,1314.6 2198.6,1315.2 2204.7,1315.7 2210,1316" fill="none" stroke="#000000" stroke-width="6.5" stroke-linejoin="round"/>
<g fill="#fff" stroke="#000000" stroke-width="2.0" shape-rendering="crispEdges">
<circle cx="304.8" cy="1614.1" r="17.4"/><path d="M304.3 1595.7A18.4 18.4 0 0 1 304.3 1632.5z" fill="#000000" stroke="none"/>
<circle cx="315.5" cy="1612.6" r="17.4"/><path d="M315 1594.2A18.4 18.4 0 0 1 315 1631z" fill="#000000" stroke="none"/>
<circle cx="326.9" cy="1615" r="17.4"/><path d="M326.4 1596.6A18.4 18.4 0 0 1 326.4 1633.3z" fill="#000000" stroke="none"/>
<circle cx="335.5" cy="1612.9" r="17.4"/><path d="M335 1594.5A18.4 18.4 0 0 1 335 1631.3z" fill="#000000" stroke="none"/>
<circle cx="341.6" cy="1613.7" r="17.4"/><path d="M341.1 1595.4A18.4 18.4 0 0 1 341.1 1632.1z" fill="#000000" stroke="none"/>
<circle cx="350.8" cy="1615.1" r="17.4"/><path d="M350.3 1596.7A18.4 18.4 0 0 1 350.3 1633.5z" fill="#000000" stroke="none"/>
<circle cx="357.3" cy="1615.1" r="17.4"/><path d="M356.8 1596.7A18.4 18.4 0 0 1 356.8 1633.4z" fill="#000000" stroke="none"/>
<circle cx="368.5" cy="1614.1" r="17.4"/><path d="M368 1595.7A18.4 18.4 0 0 1 368 1632.5z" fill="#000000" stroke="none"/>
<circle cx="376.9" cy="1614.6" r="17.4"/><path d="M376.4 1596.3A18.4 18.4 0 0 1 376.4 1633z" fill="#000000" stroke="none"/>
<circle cx="387.1" cy="1615.2" r="17.4"/><path d="M386.6 1596.8A18.4 18.4 0 0 1 386.6 1633.6z" fill="#000000" stroke="none"/>
<circle cx="398.6" cy="1614" r="17.4"/><path d="M398.1 1595.6A18.4 18.4 0 0 1 398.1 1632.4z" fill="#000000" stroke="none"/>
<circle cx="406.5" cy="1614.7" r="17.4"/><path d="M406 1596.3A18.4 18.4 0 0 1 406 1633.1z" fill="#000000" stroke="none"/>
<circle cx="416.4" cy="1614" r="17.4"/><path d="M415.9 1595.6A18.4 18.4 0 0 1 415.9 1632.4z" fill="#000000" stroke="none"/>
<circle cx="422.4" cy="1615.4" r="17.4"/><path d="M421.9 1597A18.4 18.4 0 0 1 421.9 1633.8z" fill="#000000" stroke="none"/>
<circle cx="436.9" cy="1614.5" r="17.4"/><path d="M436.4 1596.1A18.4 18.4 0 0 1 436.4 1632.9z" fill="#000000" stroke="none"/>
<circle cx="447.6" cy="1614.6" r="17.4"/><path d="M447.1 1596.2A18.4 18.4 0 0 1 447.1 1633z" fill="#000000" stroke="none"/>
<circle cx="462.3" cy="1612.7" r="17.4"/><path d="M461.8 1594.3A18.4 18.4 0 0 1 461.8 1631.1z" fill="#000000" stroke="none"/>
<circle cx="468.4" cy="1613.7" r="17.4"/><path d="M467.9 1595.3A18.4 18.4 0 0 1 467.9 1632.1z" fill="#000000" stroke="none"/>
<circle cx="479.4" cy="1613.2" r="17.4"/><path d="M478.9 1594.9A18.4 18.4 0 0 1 478.9 1631.6z" fill="#000000" stroke="none"/>
<circle cx="490.9" cy="1614.6" r="17.4"/><path d="M490.4 1596.2A18.4 18.4 0 0 1 490.4 1632.9z" fill="#000000" stroke="none"/>
<circle cx="499.9" cy="1613.2" r="17.4"/><path d="M499.4 1594.8A18.4 18.4 0 0 1 499.4 1631.6z" fill="#000000" stroke="none"/>
<circle cx="506.5" cy="1613.9" r="17.4"/><path d="M506 1595.5A18.4 18.4 0 0 1 506 1632.3z" fill="#000000" stroke="none"/>
<circle cx="513.1" cy="1613.9" r="17.4"/><path d="M512.6 1595.5A18.4 18.4 0 0 1 512.6 1632.3z" fill="#000000" stroke="none"/>
<circle cx="520.7" cy="1613.7" r="17.4"/><path d="M520.2 1595.4A18.4 18.4 0 0 1 520.2 1632.1z" fill="#000000" stroke="none"/>
<circle cx="533.2" cy="1613" r="17.4"/><path d="M532.7 1594.6A18.4 18.4 0 0 1 532.7 1631.4z" fill="#000000" stroke="none"/>
<circle cx="539.5" cy="1614.2" r="17.4"/><path d="M539 1595.8A18.4 18.4 0 0 1 539 1632.6z" fill="#000000" stroke="none"/>
<circle cx="552.5" cy="1613" r="17.4"/><path d="M552 1594.6A18.4 18.4 0 0 1 552 1631.4z" fill="#000000" stroke="none"/>
<circle cx="561.9" cy="1614.7" r="17.4"/><path d="M561.4 1596.3A18.4 18.4 0 0 1 561.4 1633.1z" fill="#000000" stroke="none"/>
<circle cx="572.5" cy="1614.6" r="17.4"/><path d="M572 1596.2A18.4 18.4 0 0 1 572 1632.9z" fill="#000000" stroke="none"/>
<circle cx="583.8" cy="1613.9" r="17.4"/><path d="M583.3 1595.5A18.4 18.4 0 0 1 583.3 1632.3z" fill="#000000" stroke="none"/>
<circle cx="593.9" cy="1614.5" r="17.4"/><path d="M593.4 1596.1A18.4 18.4 0 0 1 593.4 1632.9z" fill="#000000" stroke="none"/>
<circle cx="605.3" cy="1614.4" r="17.4"/><path d="M604.8 1596A18.4 18.4 0 0 1 604.8 1632.8z" fill="#000000" stroke="none"/>
<circle cx="616.7" cy="1614.3" r="17.4"/><path d="M616.2 1595.9A18.4 18.4 0 0 1 616.2 1632.7z" fill="#000000" stroke="none"/>
<circle cx="625.4" cy="1614.4" r="17.4"/><path d="M624.9 1596A18.4 18.4 0 0 1 624.9 1632.8z" fill="#000000" stroke="none"/>
<circle cx="638.2" cy="1615.2" r="17.4"/><path d="M637.7 1596.8A18.4 18.4 0 0 1 637.7 1633.6z" fill="#000000" stroke="none"/>
<circle cx="645.9" cy="1613.8" r="17.4"/><path d="M645.4 1595.4A18.4 18.4 0 0 1 645.4 1632.2z" fill="#000000" stroke="none"/>
<circle cx="658.2" cy="1613.9" r="17.4"/><path d="M657.7 1595.5A18.4 18.4 0 0 1 657.7 1632.3z" fill="#000000" stroke="none"/>
<circle cx="670" cy="1613" r="17.4"/><path d="M669.5 1594.7A18.4 18.4 0 0 1 669.5 1631.4z" fill="#000000" stroke="none"/>
<circle cx="682.8" cy="1615" r="17.4"/><path d="M682.3 1596.6A18.4 18.4 0 0 1 682.3 1633.4z" fill="#000000" stroke="none"/>
<circle cx="691.8" cy="1614.8" r="17.4"/><path d="M691.3 1596.4A18.4 18.4 0 0 1 691.3 1633.2z" fill="#000000" stroke="none"/>
<circle cx="704.4" cy="1614.8" r="17.4"/><path d="M703.9 1596.4A18.4 18.4 0 0 1 703.9 1633.2z" fill="#000000" stroke="none"/>
<circle cx="719" cy="1615.3" r="17.4"/><path d="M718.5 1596.9A18.4 18.4 0 0 1 718.5 1633.7z" fill="#000000" stroke="none"/>
<circle cx="729" cy="1613.2" r="17.4"/><path d="M728.5 1594.9A18.4 18.4 0 0 1 728.5 1631.6z" fill="#000000" stroke="none"/>
<circle cx="737" cy="1614.7" r="17.4"/><path d="M736.5 1596.4A18.4 18.4 0 0 1 736.5 1633.1z" fill="#000000" stroke="none"/>
<circle cx="747.3" cy="1614.6" r="17.4"/><path d="M746.8 1596.2A18.4 18.4 0 0 1 746.8 1633z" fill="#000000" stroke="none"/>
<circle cx="762.1" cy="1614.7" r="17.4"/><path d="M761.6 1596.3A18.4 18.4 0 0 1 761.6 1633.1z" fill="#000000" stroke="none"/>
<circle cx="769.1" cy="1613.2" r="17.4"/><path d="M768.6 1594.8A18.4 18.4 0 0 1 768.6 1631.6z" fill="#000000" stroke="none"/>
<circle cx="774.7" cy="1614.5" r="17.4"/><path d="M774.2 1596.1A18.4 18.4 0 0 1 774.2 1632.9z" fill="#000000" stroke="none"/>
<circle cx="785.5" cy="1614.5" r="17.4"/><path d="M785 1596.1A18.4 18.4 0 0 1 785 1632.9z" fill="#000000" stroke="none"/>
<circle cx="796.4" cy="1614.2" r="17.4"/><path d="M795.9 1595.8A18.4 18.4 0 0 1 795.9 1632.6z" fill="#000000" stroke="none"/>
<circle cx="809.3" cy="1613" r="17.4"/><path d="M808.8 1594.6A18.4 18.4 0 0 1 808.8 1631.4z" fill="#000000" stroke="none"/>
<circle cx="818.4" cy="1614.2" r="17.4"/><path d="M817.9 1595.8A18.4 18.4 0 0 1 817.9 1632.6z" fill="#000000" stroke="none"/>
<circle cx="832.7" cy="1613.1" r="17.4"/><path d="M832.2 1594.7A18.4 18.4 0 0 1 832.2 1631.5z" fill="#000000" stroke="none"/>
<circle cx="841" cy="1612" r="17.4"/><path d="M840.5 1593.7A18.4 18.4 0 0 1 840.5 1630.4z" fill="#000000" stroke="none"/>
<circle cx="838.9" cy="1611.3" r="17.4"/><path d="M838.4 1592.9A18.4 18.4 0 0 1 838.4 1629.7z" fill="#000000" stroke="none"/>
<circle cx="833" cy="1610.5" r="17.4"/><path d="M832.5 1592.1A18.4 18.4 0 0 1 832.5 1628.9z" fill="#000000" stroke="none"/>
<circle cx="833.3" cy="1613.5" r="17.4"/><path d="M832.8 1595.1A18.4 18.4 0 0 1 832.8 1631.8z" fill="#000000" stroke="none"/>
<circle cx="839.5" cy="1613.8" r="17.4"/><path d="M839 1595.4A18.4 18.4 0 0 1 839 1632.2z" fill="#000000" stroke="none"/>
<circle cx="844.3" cy="1604.9" r="17.4"/><path d="M843.8 1586.5A18.4 18.4 0 0 1 843.8 1623.3z" fill="#000000" stroke="none"/>
<circle cx="854.9" cy="1604.9" r="17.4"/><path d="M854.4 1586.5A18.4 18.4 0 0 1 854.4 1623.3z" fill="#000000" stroke="none"/>
<circle cx="862.2" cy="1607.7" r="17.4"/><path d="M861.7 1589.3A18.4 18.4 0 0 1 861.7 1626.1z" fill="#000000" stroke="none"/>
<circle cx="865.7" cy="1605" r="17.4"/><path d="M865.2 1586.7A18.4 18.4 0 0 1 865.2 1623.4z" fill="#000000" stroke="none"/>
<circle cx="873.1" cy="1604.2" r="17.4"/><path d="M872.6 1585.8A18.4 18.4 0 0 1 872.6 1622.6z" fill="#000000" stroke="none"/>
<circle cx="877.6" cy="1599.5" r="17.4"/><path d="M877.1 1581.1A18.4 18.4 0 0 1 877.1 1617.9z" fill="#000000" stroke="none"/>
<circle cx="882" cy="1600.5" r="17.4"/><path d="M881.5 1582.2A18.4 18.4 0 0 1 881.5 1618.9z" fill="#000000" stroke="none"/>
<circle cx="886" cy="1598.4" r="17.4"/><path d="M885.5 1580A18.4 18.4 0 0 1 885.5 1616.8z" fill="#000000" stroke="none"/>
<circle cx="893.3" cy="1597.7" r="17.4"/><path d="M892.8 1579.3A18.4 18.4 0 0 1 892.8 1616.1z" fill="#000000" stroke="none"/>
<circle cx="901.5" cy="1598.5" r="17.4"/><path d="M901 1580.1A18.4 18.4 0 0 1 901 1616.9z" fill="#000000" stroke="none"/>
<circle cx="904.3" cy="1593" r="17.4"/><path d="M903.8 1574.6A18.4 18.4 0 0 1 903.8 1611.4z" fill="#000000" stroke="none"/>
<circle cx="908.6" cy="1596.8" r="17.4"/><path d="M908.1 1578.4A18.4 18.4 0 0 1 908.1 1615.2z" fill="#000000" stroke="none"/>
<circle cx="915.2" cy="1593.8" r="17.4"/><path d="M914.7 1575.4A18.4 18.4 0 0 1 914.7 1612.2z" fill="#000000" stroke="none"/>
<circle cx="918.7" cy="1589.5" r="17.4"/><path d="M918.2 1571.1A18.4 18.4 0 0 1 918.2 1607.9z" fill="#000000" stroke="none"/>
<circle cx="926" cy="1585.1" r="17.4"/><path d="M925.5 1566.7A18.4 18.4 0 0 1 925.5 1603.4z" fill="#000000" stroke="none"/>
<circle cx="933.2" cy="1588.9" r="17.4"/><path d="M932.7 1570.5A18.4 18.4 0 0 1 932.7 1607.3z" fill="#000000" stroke="none"/>
<circle cx="940.3" cy="1589.5" r="17.4"/><path d="M939.8 1571.1A18.4 18.4 0 0 1 939.8 1607.8z" fill="#000000" stroke="none"/>
<circle cx="943.5" cy="1583.8" r="17.4"/><path d="M943 1565.4A18.4 18.4 0 0 1 943 1602.2z" fill="#000000" stroke="none"/>
<circle cx="950.1" cy="1579.2" r="17.4"/><path d="M949.6 1560.8A18.4 18.4 0 0 1 949.6 1597.6z" fill="#000000" stroke="none"/>
<circle cx="955.8" cy="1580.4" r="17.4"/><path d="M955.3 1562.1A18.4 18.4 0 0 1 955.3 1598.8z" fill="#000000" stroke="none"/>
<circle cx="960.2" cy="1580.8" r="17.4"/><path d="M959.7 1562.4A18.4 18.4 0 0 1 959.7 1599.2z" fill="#000000" stroke="none"/>
<circle cx="967.7" cy="1577.4" r="17.4"/><path d="M967.2 1559A18.4 18.4 0 0 1 967.2 1595.8z" fill="#000000" stroke="none"/>
<circle cx="971.7" cy="1580.3" r="17.4"/><path d="M971.2 1561.9A18.4 18.4 0 0 1 971.2 1598.7z" fill="#000000" stroke="none"/>
<circle cx="979.7" cy="1580.8" r="17.4"/><path d="M979.2 1562.4A18.4 18.4 0 0 1 979.2 1599.2z" fill="#000000" stroke="none"/>
<circle cx="982.7" cy="1577.4" r="17.4"/><path d="M982.2 1559A18.4 18.4 0 0 1 982.2 1595.8z" fill="#000000" stroke="none"/>
<circle cx="988.4" cy="1572.6" r="17.4"/><path d="M987.9 1554.2A18.4 18.4 0 0 1 987.9 1591z" fill="#000000" stroke="none"/>
<circle cx="993.4" cy="1570.5" r="17.4"/><path d="M992.9 1552.1A18.4 18.4 0 0 1 992.9 1588.9z" fill="#000000" stroke="none"/>
<circle cx="1000.7" cy="1568.6" r="17.4"/><path d="M1000.2 1550.2A18.4 18.4 0 0 1 1000.2 1587z" fill="#000000" stroke="none"/>
<circle cx="1004.9" cy="1572.1" r="17.4"/><path d="M1004.4 1553.7A18.4 18.4 0 0 1 1004.4 1590.5z" fill="#000000" stroke="none"/>
<circle cx="1010.7" cy="1568.5" r="17.4"/><path d="M1010.2 1550.1A18.4 18.4 0 0 1 1010.2 1586.9z" fill="#000000" stroke="none"/>
<circle cx="1015.9" cy="1567.3" r="17.4"/><path d="M1015.4 1548.9A18.4 18.4 0 0 1 1015.4 1585.7z" fill="#000000" stroke="none"/>
<circle cx="1023.9" cy="1566.6" r="17.4"/><path d="M1023.4 1548.2A18.4 18.4 0 0 1 1023.4 1585z" fill="#000000" stroke="none"/>
<circle cx="1031.2" cy="1563.7" r="17.4"/><path d="M1030.7 1545.3A18.4 18.4 0 0 1 1030.7 1582.1z" fill="#000000" stroke="none"/>
<circle cx="1038.6" cy="1566.8" r="17.4"/><path d="M1038.1 1548.4A18.4 18.4 0 0 1 1038.1 1585.2z" fill="#000000" stroke="none"/>
<circle cx="1042.9" cy="1565.3" r="17.4"/><path d="M1042.4 1546.9A18.4 18.4 0 0 1 1042.4 1583.7z" fill="#000000" stroke="none"/>
<circle cx="1045.3" cy="1558.4" r="17.4"/><path d="M1044.8 1540A18.4 18.4 0 0 1 1044.8 1576.7z" fill="#000000" stroke="none"/>
<circle cx="1052.6" cy="1563.8" r="17.4"/><path d="M1052.1 1545.4A18.4 18.4 0 0 1 1052.1 1582.2z" fill="#000000" stroke="none"/>
<circle cx="1056.7" cy="1559.5" r="17.4"/><path d="M1056.2 1541.1A18.4 18.4 0 0 1 1056.2 1577.9z" fill="#000000" stroke="none"/>
<circle cx="1059.6" cy="1554.8" r="17.4"/><path d="M1059.1 1536.4A18.4 18.4 0 0 1 1059.1 1573.2z" fill="#000000" stroke="none"/>
<circle cx="1063.8" cy="1554.2" r="17.4"/><path d="M1063.3 1535.8A18.4 18.4 0 0 1 1063.3 1572.6z" fill="#000000" stroke="none"/>
<circle cx="1070.7" cy="1551.3" r="17.4"/><path d="M1070.2 1532.9A18.4 18.4 0 0 1 1070.2 1569.7z" fill="#000000" stroke="none"/>
<circle cx="1077.5" cy="1551.7" r="17.4"/><path d="M1077 1533.3A18.4 18.4 0 0 1 1077 1570.1z" fill="#000000" stroke="none"/>
<circle cx="1081.8" cy="1550.4" r="17.4"/><path d="M1081.3 1532A18.4 18.4 0 0 1 1081.3 1568.7z" fill="#000000" stroke="none"/>
<circle cx="1096.2" cy="1547.9" r="17.4"/><path d="M1095.7 1529.5A18.4 18.4 0 0 1 1095.7 1566.3z" fill="#000000" stroke="none"/>
<circle cx="1103.9" cy="1547.8" r="17.4"/><path d="M1103.4 1529.4A18.4 18.4 0 0 1 1103.4 1566.1z" fill="#000000" stroke="none"/>
<circle cx="1114.9" cy="1546.7" r="17.4"/><path d="M1114.4 1528.3A18.4 18.4 0 0 1 1114.4 1565.1z" fill="#000000" stroke="none"/>
<circle cx="1121.7" cy="1544.1" r="17.4"/><path d="M1121.2 1525.7A18.4 18.4 0 0 1 1121.2 1562.5z" fill="#000000" stroke="none"/>
<circle cx="1136.4" cy="1548.3" r="17.4"/><path d="M1135.9 1529.9A18.4 18.4 0 0 1 1135.9 1566.7z" fill="#000000" stroke="none"/>
<circle cx="1149" cy="1540.8" r="17.4"/><path d="M1148.5 1522.4A18.4 18.4 0 0 1 1148.5 1559.2z" fill="#000000" stroke="none"/>
<circle cx="1155.8" cy="1535.2" r="17.4"/><path d="M1155.3 1516.8A18.4 18.4 0 0 1 1155.3 1553.6z" fill="#000000" stroke="none"/>
<circle cx="1167.2" cy="1530.9" r="17.4"/><path d="M1166.7 1512.6A18.4 18.4 0 0 1 1166.7 1549.3z" fill="#000000" stroke="none"/>
<circle cx="1181.5" cy="1532.9" r="17.4"/><path d="M1181 1514.5A18.4 18.4 0 0 1 1181 1551.3z" fill="#000000" stroke="none"/>
<circle cx="1189.3" cy="1527.4" r="17.4"/><path d="M1188.8 1509A18.4 18.4 0 0 1 1188.8 1545.8z" fill="#000000" stroke="none"/>
<circle cx="1198.7" cy="1528.5" r="17.4"/><path d="M1198.2 1510.1A18.4 18.4 0 0 1 1198.2 1546.9z" fill="#000000" stroke="none"/>
<circle cx="1207.1" cy="1522.5" r="17.4"/><path d="M1206.6 1504.1A18.4 18.4 0 0 1 1206.6 1540.9z" fill="#000000" stroke="none"/>
<circle cx="1220.8" cy="1520.7" r="17.4"/><path d="M1220.3 1502.3A18.4 18.4 0 0 1 1220.3 1539.1z" fill="#000000" stroke="none"/>
<circle cx="1228" cy="1519.7" r="17.4"/><path d="M1227.5 1501.3A18.4 18.4 0 0 1 1227.5 1538.1z" fill="#000000" stroke="none"/>
<circle cx="1239.4" cy="1517" r="17.4"/><path d="M1238.9 1498.6A18.4 18.4 0 0 1 1238.9 1535.4z" fill="#000000" stroke="none"/>
<circle cx="1251.6" cy="1520.2" r="17.4"/><path d="M1251.1 1501.8A18.4 18.4 0 0 1 1251.1 1538.6z" fill="#000000" stroke="none"/>
<circle cx="1258" cy="1507.6" r="17.4"/><path d="M1257.5 1489.2A18.4 18.4 0 0 1 1257.5 1526z" fill="#000000" stroke="none"/>
<circle cx="1270.4" cy="1509.1" r="17.4"/><path d="M1269.9 1490.7A18.4 18.4 0 0 1 1269.9 1527.5z" fill="#000000" stroke="none"/>
<circle cx="1281.5" cy="1500.1" r="17.4"/><path d="M1281 1481.7A18.4 18.4 0 0 1 1281 1518.4z" fill="#000000" stroke="none"/>
<circle cx="1289.3" cy="1498.4" r="17.4"/><path d="M1288.8 1480A18.4 18.4 0 0 1 1288.8 1516.8z" fill="#000000" stroke="none"/>
<circle cx="1299.6" cy="1491.2" r="17.4"/><path d="M1299.1 1472.8A18.4 18.4 0 0 1 1299.1 1509.6z" fill="#000000" stroke="none"/>
<circle cx="1304.5" cy="1487.5" r="17.4"/><path d="M1304 1469.1A18.4 18.4 0 0 1 1304 1505.9z" fill="#000000" stroke="none"/>
<circle cx="1315.7" cy="1485.1" r="17.4"/><path d="M1315.2 1466.7A18.4 18.4 0 0 1 1315.2 1503.5z" fill="#000000" stroke="none"/>
<circle cx="1321.1" cy="1476.9" r="17.4"/><path d="M1320.6 1458.5A18.4 18.4 0 0 1 1320.6 1495.3z" fill="#000000" stroke="none"/>
<circle cx="1324.5" cy="1471.5" r="17.4"/><path d="M1324 1453.1A18.4 18.4 0 0 1 1324 1489.9z" fill="#000000" stroke="none"/>
<circle cx="1335.2" cy="1468.5" r="17.4"/><path d="M1334.7 1450.1A18.4 18.4 0 0 1 1334.7 1486.9z" fill="#000000" stroke="none"/>
<circle cx="1346.9" cy="1465.9" r="17.4"/><path d="M1346.4 1447.5A18.4 18.4 0 0 1 1346.4 1484.3z" fill="#000000" stroke="none"/>
<circle cx="1352.6" cy="1461.3" r="17.4"/><path d="M1352.1 1443A18.4 18.4 0 0 1 1352.1 1479.7z" fill="#000000" stroke="none"/>
<circle cx="1352.4" cy="1453.5" r="17.4"/><path d="M1351.9 1435.1A18.4 18.4 0 0 1 1351.9 1471.9z" fill="#000000" stroke="none"/>
<circle cx="1358.1" cy="1452.3" r="17.4"/><path d="M1357.6 1433.9A18.4 18.4 0 0 1 1357.6 1470.7z" fill="#000000" stroke="none"/>
<circle cx="1367.7" cy="1445.9" r="17.4"/><path d="M1367.2 1427.5A18.4 18.4 0 0 1 1367.2 1464.2z" fill="#000000" stroke="none"/>
<circle cx="1368.1" cy="1441" r="17.4"/><path d="M1367.6 1422.6A18.4 18.4 0 0 1 1367.6 1459.4z" fill="#000000" stroke="none"/>
<circle cx="1373.1" cy="1430.8" r="17.4"/><path d="M1372.6 1412.4A18.4 18.4 0 0 1 1372.6 1449.2z" fill="#000000" stroke="none"/>
<circle cx="1380.5" cy="1430.9" r="17.4"/><path d="M1380 1412.6A18.4 18.4 0 0 1 1380 1449.3z" fill="#000000" stroke="none"/>
<circle cx="1387.7" cy="1424.1" r="17.4"/><path d="M1387.2 1405.7A18.4 18.4 0 0 1 1387.2 1442.5z" fill="#000000" stroke="none"/>
<circle cx="1387.2" cy="1416.9" r="17.4"/><path d="M1386.7 1398.5A18.4 18.4 0 0 1 1386.7 1435.3z" fill="#000000" stroke="none"/>
<circle cx="1393.4" cy="1415.1" r="17.4"/><path d="M1392.9 1396.7A18.4 18.4 0 0 1 1392.9 1433.5z" fill="#000000" stroke="none"/>
<circle cx="1402.3" cy="1410.1" r="17.4"/><path d="M1401.8 1391.7A18.4 18.4 0 0 1 1401.8 1428.5z" fill="#000000" stroke="none"/>
<circle cx="1403.9" cy="1405.5" r="17.4"/><path d="M1403.4 1387.1A18.4 18.4 0 0 1 1403.4 1423.9z" fill="#000000" stroke="none"/>
<circle cx="1407.9" cy="1399.8" r="17.4"/><path d="M1407.4 1381.4A18.4 18.4 0 0 1 1407.4 1418.2z" fill="#000000" stroke="none"/>
<circle cx="1412.1" cy="1389.7" r="17.4"/><path d="M1411.6 1371.3A18.4 18.4 0 0 1 1411.6 1408.1z" fill="#000000" stroke="none"/>
<circle cx="1419.7" cy="1383.7" r="17.4"/><path d="M1419.2 1365.3A18.4 18.4 0 0 1 1419.2 1402.1z" fill="#000000" stroke="none"/>
<circle cx="1427.2" cy="1376.8" r="17.4"/><path d="M1426.7 1358.4A18.4 18.4 0 0 1 1426.7 1395.2z" fill="#000000" stroke="none"/>
<circle cx="1432.9" cy="1367.5" r="17.4"/><path d="M1432.4 1349.1A18.4 18.4 0 0 1 1432.4 1385.9z" fill="#000000" stroke="none"/>
<circle cx="1435.1" cy="1363.7" r="17.4"/><path d="M1434.6 1345.3A18.4 18.4 0 0 1 1434.6 1382.1z" fill="#000000" stroke="none"/>
<circle cx="1439.3" cy="1358.7" r="17.4"/><path d="M1438.8 1340.3A18.4 18.4 0 0 1 1438.8 1377.1z" fill="#000000" stroke="none"/>
<circle cx="1444.6" cy="1350.1" r="17.4"/><path d="M1444.1 1331.7A18.4 18.4 0 0 1 1444.1 1368.5z" fill="#000000" stroke="none"/>
<circle cx="1447.1" cy="1340.1" r="17.4"/><path d="M1446.6 1321.7A18.4 18.4 0 0 1 1446.6 1358.5z" fill="#000000" stroke="none"/>
<circle cx="1454.1" cy="1340.8" r="17.4"/><path d="M1453.6 1322.4A18.4 18.4 0 0 1 1453.6 1359.2z" fill="#000000" stroke="none"/>
<circle cx="1460" cy="1335.4" r="17.4"/><path d="M1459.5 1317A18.4 18.4 0 0 1 1459.5 1353.8z" fill="#000000" stroke="none"/>
<circle cx="1462.2" cy="1329.6" r="17.4"/><path d="M1461.7 1311.3A18.4 18.4 0 0 1 1461.7 1348z" fill="#000000" stroke="none"/>
<circle cx="1466.7" cy="1323.8" r="17.4"/><path d="M1466.2 1305.4A18.4 18.4 0 0 1 1466.2 1342.2z" fill="#000000" stroke="none"/>
<circle cx="1469.4" cy="1319.4" r="17.4"/><path d="M1468.9 1301A18.4 18.4 0 0 1 1468.9 1337.8z" fill="#000000" stroke="none"/>
<circle cx="1469.5" cy="1314.8" r="17.4"/><path d="M1469 1296.4A18.4 18.4 0 0 1 1469 1333.2z" fill="#000000" stroke="none"/>
<circle cx="1475.3" cy="1304.9" r="17.4"/><path d="M1474.8 1286.5A18.4 18.4 0 0 1 1474.8 1323.3z" fill="#000000" stroke="none"/>
<circle cx="1479.6" cy="1299.8" r="17.4"/><path d="M1479.1 1281.4A18.4 18.4 0 0 1 1479.1 1318.2z" fill="#000000" stroke="none"/>
<circle cx="1487.1" cy="1292" r="17.4"/><path d="M1486.6 1273.6A18.4 18.4 0 0 1 1486.6 1310.4z" fill="#000000" stroke="none"/>
<circle cx="1489.9" cy="1287.3" r="17.4"/><path d="M1489.4 1269A18.4 18.4 0 0 1 1489.4 1305.7z" fill="#000000" stroke="none"/>
<circle cx="1493.1" cy="1280.4" r="17.4"/><path d="M1492.6 1262A18.4 18.4 0 0 1 1492.6 1298.8z" fill="#000000" stroke="none"/>
<circle cx="1500.9" cy="1280.4" r="17.4"/><path d="M1500.4 1262A18.4 18.4 0 0 1 1500.4 1298.8z" fill="#000000" stroke="none"/>
<circle cx="1503.7" cy="1272.7" r="17.4"/><path d="M1503.2 1254.3A18.4 18.4 0 0 1 1503.2 1291.1z" fill="#000000" stroke="none"/>
<circle cx="1509.8" cy="1271.3" r="17.4"/><path d="M1509.3 1252.9A18.4 18.4 0 0 1 1509.3 1289.7z" fill="#000000" stroke="none"/>
<circle cx="1515.7" cy="1263.1" r="17.4"/><path d="M1515.2 1244.7A18.4 18.4 0 0 1 1515.2 1281.4z" fill="#000000" stroke="none"/>
<circle cx="1524.3" cy="1266.3" r="17.4"/><path d="M1523.8 1247.9A18.4 18.4 0 0 1 1523.8 1284.7z" fill="#000000" stroke="none"/>
<circle cx="1530" cy="1257.9" r="17.4"/><path d="M1529.5 1239.5A18.4 18.4 0 0 1 1529.5 1276.3z" fill="#000000" stroke="none"/>
<circle cx="1538.7" cy="1258.3" r="17.4"/><path d="M1538.2 1239.9A18.4 18.4 0 0 1 1538.2 1276.7z" fill="#000000" stroke="none"/>
<circle cx="1543" cy="1254.5" r="17.4"/><path d="M1542.5 1236.1A18.4 18.4 0 0 1 1542.5 1272.9z" fill="#000000" stroke="none"/>
<circle cx="1550.2" cy="1253.9" r="17.4"/><path d="M1549.7 1235.5A18.4 18.4 0 0 1 1549.7 1272.3z" fill="#000000" stroke="none"/>
<circle cx="1557" cy="1255.8" r="17.4"/><path d="M1556.5 1237.4A18.4 18.4 0 0 1 1556.5 1274.2z" fill="#000000" stroke="none"/>
<circle cx="1567.6" cy="1256.6" r="17.4"/><path d="M1567.1 1238.2A18.4 18.4 0 0 1 1567.1 1275z" fill="#000000" stroke="none"/>
<circle cx="1573.9" cy="1258.8" r="17.4"/><path d="M1573.4 1240.4A18.4 18.4 0 0 1 1573.4 1277.1z" fill="#000000" stroke="none"/>
<circle cx="1578.6" cy="1264.1" r="17.4"/><path d="M1578.1 1245.8A18.4 18.4 0 0 1 1578.1 1282.5z" fill="#000000" stroke="none"/>
<circle cx="1590.3" cy="1264.1" r="17.4"/><path d="M1589.8 1245.7A18.4 18.4 0 0 1 1589.8 1282.5z" fill="#000000" stroke="none"/>
<circle cx="1600.5" cy="1266.7" r="17.4"/><path d="M1600 1248.3A18.4 18.4 0 0 1 1600 1285.1z" fill="#000000" stroke="none"/>
<circle cx="1606.6" cy="1276.9" r="17.4"/><path d="M1606.1 1258.5A18.4 18.4 0 0 1 1606.1 1295.3z" fill="#000000" stroke="none"/>
<circle cx="1612.8" cy="1277.4" r="17.4"/><path d="M1612.3 1259A18.4 18.4 0 0 1 1612.3 1295.8z" fill="#000000" stroke="none"/>
<circle cx="1617.1" cy="1282.2" r="17.4"/><path d="M1616.6 1263.8A18.4 18.4 0 0 1 1616.6 1300.6z" fill="#000000" stroke="none"/>
<circle cx="1625.4" cy="1279.9" r="17.4"/><path d="M1624.9 1261.5A18.4 18.4 0 0 1 1624.9 1298.3z" fill="#000000" stroke="none"/>
<circle cx="1627.4" cy="1285.6" r="17.4"/><path d="M1626.9 1267.2A18.4 18.4 0 0 1 1626.9 1303.9z" fill="#000000" stroke="none"/>
<circle cx="1632.7" cy="1285.5" r="17.4"/><path d="M1632.2 1267.1A18.4 18.4 0 0 1 1632.2 1303.9z" fill="#000000" stroke="none"/>
<circle cx="1637.6" cy="1293.5" r="17.4"/><path d="M1637.1 1275.1A18.4 18.4 0 0 1 1637.1 1311.9z" fill="#000000" stroke="none"/>
<circle cx="1644.7" cy="1295.6" r="17.4"/><path d="M1644.2 1277.2A18.4 18.4 0 0 1 1644.2 1314z" fill="#000000" stroke="none"/>
<circle cx="1654.5" cy="1295.2" r="17.4"/><path d="M1654 1276.8A18.4 18.4 0 0 1 1654 1313.6z" fill="#000000" stroke="none"/>
<circle cx="1658.7" cy="1302.7" r="17.4"/><path d="M1658.2 1284.3A18.4 18.4 0 0 1 1658.2 1321.1z" fill="#000000" stroke="none"/>
<circle cx="1662.9" cy="1303.5" r="17.4"/><path d="M1662.4 1285.1A18.4 18.4 0 0 1 1662.4 1321.8z" fill="#000000" stroke="none"/>
<circle cx="1671.5" cy="1307.7" r="17.4"/><path d="M1671 1289.3A18.4 18.4 0 0 1 1671 1326.1z" fill="#000000" stroke="none"/>
<circle cx="1679.1" cy="1311.3" r="17.4"/><path d="M1678.6 1292.9A18.4 18.4 0 0 1 1678.6 1329.7z" fill="#000000" stroke="none"/>
<circle cx="1686" cy="1316.7" r="17.4"/><path d="M1685.5 1298.3A18.4 18.4 0 0 1 1685.5 1335.1z" fill="#000000" stroke="none"/>
<circle cx="1691.5" cy="1321.9" r="17.4"/><path d="M1691 1303.5A18.4 18.4 0 0 1 1691 1340.3z" fill="#000000" stroke="none"/>
<circle cx="1698.7" cy="1327.6" r="17.4"/><path d="M1698.2 1309.2A18.4 18.4 0 0 1 1698.2 1346z" fill="#000000" stroke="none"/>
<circle cx="1707.8" cy="1332.7" r="17.4"/><path d="M1707.3 1314.3A18.4 18.4 0 0 1 1707.3 1351.1z" fill="#000000" stroke="none"/>
<circle cx="1717.7" cy="1336.9" r="17.4"/><path d="M1717.2 1318.5A18.4 18.4 0 0 1 1717.2 1355.3z" fill="#000000" stroke="none"/>
<circle cx="1725.4" cy="1342.1" r="17.4"/><path d="M1724.9 1323.7A18.4 18.4 0 0 1 1724.9 1360.5z" fill="#000000" stroke="none"/>
<circle cx="1729.7" cy="1348.9" r="17.4"/><path d="M1729.2 1330.5A18.4 18.4 0 0 1 1729.2 1367.3z" fill="#000000" stroke="none"/>
<circle cx="1738.2" cy="1346.9" r="17.4"/><path d="M1737.7 1328.5A18.4 18.4 0 0 1 1737.7 1365.3z" fill="#000000" stroke="none"/>
<circle cx="1743.3" cy="1352.3" r="17.4"/><path d="M1742.8 1333.9A18.4 18.4 0 0 1 1742.8 1370.7z" fill="#000000" stroke="none"/>
<circle cx="1753.2" cy="1358.8" r="17.4"/><path d="M1752.7 1340.4A18.4 18.4 0 0 1 1752.7 1377.2z" fill="#000000" stroke="none"/>
<circle cx="1760.5" cy="1359.3" r="17.4"/><path d="M1760 1340.9A18.4 18.4 0 0 1 1760 1377.7z" fill="#000000" stroke="none"/>
<circle cx="1768.3" cy="1358.5" r="17.4"/><path d="M1767.8 1340.1A18.4 18.4 0 0 1 1767.8 1376.9z" fill="#000000" stroke="none"/>
<circle cx="1775.1" cy="1359.6" r="17.4"/><path d="M1774.6 1341.2A18.4 18.4 0 0 1 1774.6 1378z" fill="#000000" stroke="none"/>
<circle cx="1780.7" cy="1360.9" r="17.4"/><path d="M1780.2 1342.5A18.4 18.4 0 0 1 1780.2 1379.3z" fill="#000000" stroke="none"/>
<circle cx="1791.3" cy="1360.9" r="17.4"/><path d="M1790.8 1342.5A18.4 18.4 0 0 1 1790.8 1379.3z" fill="#000000" stroke="none"/>
<circle cx="1796.2" cy="1361.5" r="17.4"/><path d="M1795.7 1343.1A18.4 18.4 0 0 1 1795.7 1379.9z" fill="#000000" stroke="none"/>
<circle cx="1804.4" cy="1362.7" r="17.4"/><path d="M1803.9 1344.3A18.4 18.4 0 0 1 1803.9 1381.1z" fill="#000000" stroke="none"/>
<circle cx="1814.8" cy="1362.4" r="17.4"/><path d="M1814.3 1344A18.4 18.4 0 0 1 1814.3 1380.8z" fill="#000000" stroke="none"/>
<circle cx="1821" cy="1365.3" r="17.4"/><path d="M1820.5 1346.9A18.4 18.4 0 0 1 1820.5 1383.7z" fill="#000000" stroke="none"/>
<circle cx="1829.8" cy="1363.7" r="17.4"/><path d="M1829.3 1345.3A18.4 18.4 0 0 1 1829.3 1382.1z" fill="#000000" stroke="none"/>
<circle cx="1836.3" cy="1364.5" r="17.4"/><path d="M1835.8 1346.1A18.4 18.4 0 0 1 1835.8 1382.9z" fill="#000000" stroke="none"/>
<circle cx="1842.9" cy="1364.7" r="17.4"/><path d="M1842.4 1346.3A18.4 18.4 0 0 1 1842.4 1383.1z" fill="#000000" stroke="none"/>
<circle cx="1848.2" cy="1365.3" r="17.4"/><path d="M1847.7 1346.9A18.4 18.4 0 0 1 1847.7 1383.7z" fill="#000000" stroke="none"/>
<circle cx="1853.7" cy="1365.7" r="17.4"/><path d="M1853.2 1347.3A18.4 18.4 0 0 1 1853.2 1384.1z" fill="#000000" stroke="none"/>
<circle cx="1863.7" cy="1365.9" r="17.4"/><path d="M1863.2 1347.5A18.4 18.4 0 0 1 1863.2 1384.3z" fill="#000000" stroke="none"/>
<circle cx="1874" cy="1365.7" r="17.4"/><path d="M1873.5 1347.3A18.4 18.4 0 0 1 1873.5 1384.1z" fill="#000000" stroke="none"/>
<circle cx="1884.2" cy="1364.1" r="17.4"/><path d="M1883.7 1345.7A18.4 18.4 0 0 1 1883.7 1382.5z" fill="#000000" stroke="none"/>
<circle cx="1888.9" cy="1363.8" r="17.4"/><path d="M1888.4 1345.4A18.4 18.4 0 0 1 1888.4 1382.2z" fill="#000000" stroke="none"/>
<circle cx="1897.9" cy="1362.6" r="17.4"/><path d="M1897.4 1344.3A18.4 18.4 0 0 1 1897.4 1381z" fill="#000000" stroke="none"/>
<circle cx="1904.5" cy="1362.8" r="17.4"/><path d="M1904 1344.4A18.4 18.4 0 0 1 1904 1381.2z" fill="#000000" stroke="none"/>
<circle cx="1913.4" cy="1362.5" r="17.4"/><path d="M1912.9 1344.1A18.4 18.4 0 0 1 1912.9 1380.9z" fill="#000000" stroke="none"/>
<circle cx="1921.1" cy="1362.2" r="17.4"/><path d="M1920.6 1343.8A18.4 18.4 0 0 1 1920.6 1380.6z" fill="#000000" stroke="none"/>
<circle cx="1927.5" cy="1361.4" r="17.4"/><path d="M1927 1343.1A18.4 18.4 0 0 1 1927 1379.8z" fill="#000000" stroke="none"/>
<circle cx="1938.3" cy="1358.7" r="17.4"/><path d="M1937.8 1340.3A18.4 18.4 0 0 1 1937.8 1377.1z" fill="#000000" stroke="none"/>
<circle cx="1942.8" cy="1359.1" r="17.4"/><path d="M1942.3 1340.7A18.4 18.4 0 0 1 1942.3 1377.5z" fill="#000000" stroke="none"/>
<circle cx="1952.4" cy="1358.2" r="17.4"/><path d="M1951.9 1339.8A18.4 18.4 0 0 1 1951.9 1376.6z" fill="#000000" stroke="none"/>
<circle cx="1961.9" cy="1355.8" r="17.4"/><path d="M1961.4 1337.4A18.4 18.4 0 0 1 1961.4 1374.2z" fill="#000000" stroke="none"/>
<circle cx="1970.1" cy="1356.6" r="17.4"/><path d="M1969.6 1338.2A18.4 18.4 0 0 1 1969.6 1375z" fill="#000000" stroke="none"/>
<circle cx="1978.5" cy="1358.6" r="17.4"/><path d="M1978 1340.2A18.4 18.4 0 0 1 1978 1377z" fill="#000000" stroke="none"/>
<circle cx="1987.5" cy="1346.7" r="17.4"/><path d="M1987 1328.3A18.4 18.4 0 0 1 1987 1365.1z" fill="#000000" stroke="none"/>
<circle cx="1995.4" cy="1352.2" r="17.4"/><path d="M1994.9 1333.9A18.4 18.4 0 0 1 1994.9 1370.6z" fill="#000000" stroke="none"/>
<circle cx="2003.6" cy="1349.2" r="17.4"/><path d="M2003.1 1330.8A18.4 18.4 0 0 1 2003.1 1367.6z" fill="#000000" stroke="none"/>
<circle cx="2012.2" cy="1343.6" r="17.4"/><path d="M2011.7 1325.2A18.4 18.4 0 0 1 2011.7 1362z" fill="#000000" stroke="none"/>
<circle cx="2019.8" cy="1345.8" r="17.4"/><path d="M2019.3 1327.4A18.4 18.4 0 0 1 2019.3 1364.2z" fill="#000000" stroke="none"/>
<circle cx="2027.7" cy="1340.9" r="17.4"/><path d="M2027.2 1322.5A18.4 18.4 0 0 1 2027.2 1359.3z" fill="#000000" stroke="none"/>
<circle cx="2035" cy="1339.7" r="17.4"/><path d="M2034.5 1321.3A18.4 18.4 0 0 1 2034.5 1358.1z" fill="#000000" stroke="none"/>
<circle cx="2042.7" cy="1336.6" r="17.4"/><path d="M2042.2 1318.2A18.4 18.4 0 0 1 2042.2 1355z" fill="#000000" stroke="none"/>
<circle cx="2048.4" cy="1328.5" r="17.4"/><path d="M2047.9 1310.1A18.4 18.4 0 0 1 2047.9 1346.9z" fill="#000000" stroke="none"/>
<circle cx="2059.6" cy="1334.1" r="17.4"/><path d="M2059.1 1315.7A18.4 18.4 0 0 1 2059.1 1352.5z" fill="#000000" stroke="none"/>
<circle cx="2064.7" cy="1328.1" r="17.4"/><path d="M2064.2 1309.7A18.4 18.4 0 0 1 2064.2 1346.5z" fill="#000000" stroke="none"/>
<circle cx="2073.6" cy="1327.9" r="17.4"/><path d="M2073.1 1309.6A18.4 18.4 0 0 1 2073.1 1346.3z" fill="#000000" stroke="none"/>
<circle cx="2080" cy="1321.9" r="17.4"/><path d="M2079.5 1303.5A18.4 18.4 0 0 1 2079.5 1340.3z" fill="#000000" stroke="none"/>
<circle cx="2084" cy="1316.6" r="17.4"/><path d="M2083.5 1298.3A18.4 18.4 0 0 1 2083.5 1335z" fill="#000000" stroke="none"/>
<circle cx="2094.3" cy="1319.8" r="17.4"/><path d="M2093.8 1301.4A18.4 18.4 0 0 1 2093.8 1338.2z" fill="#000000" stroke="none"/>
<circle cx="2099.9" cy="1319" r="17.4"/><path d="M2099.4 1300.6A18.4 18.4 0 0 1 2099.4 1337.4z" fill="#000000" stroke="none"/>
<circle cx="2110.7" cy="1317" r="17.4"/><path d="M2110.2 1298.6A18.4 18.4 0 0 1 2110.2 1335.4z" fill="#000000" stroke="none"/>
<circle cx="2118" cy="1316.9" r="17.4"/><path d="M2117.5 1298.5A18.4 18.4 0 0 1 2117.5 1335.3z" fill="#000000" stroke="none"/>
<circle cx="2127.8" cy="1315.2" r="17.4"/><path d="M2127.3 1296.8A18.4 18.4 0 0 1 2127.3 1333.6z" fill="#000000" stroke="none"/>
<circle cx="2135.5" cy="1315.5" r="17.4"/><path d="M2135 1297.1A18.4 18.4 0 0 1 2135 1333.9z" fill="#000000" stroke="none"/>
<circle cx="2142.8" cy="1315.3" r="17.4"/><path d="M2142.3 1297A18.4 18.4 0 0 1 2142.3 1333.7z" fill="#000000" stroke="none"/>
<circle cx="2148.9" cy="1314.8" r="17.4"/><path d="M2148.4 1296.4A18.4 18.4 0 0 1 2148.4 1333.2z" fill="#000000" stroke="none"/>
<circle cx="2154.5" cy="1313.4" r="17.4"/><path d="M2154 1295A18.4 18.4 0 0 1 2154 1331.8z" fill="#000000" stroke="none"/>
<circle cx="2164.6" cy="1312.5" r="17.4"/><path d="M2164.1 1294.1A18.4 18.4 0 0 1 2164.1 1330.9z" fill="#000000" stroke="none"/>
<circle cx="2172.7" cy="1314.8" r="17.4"/><path d="M2172.2 1296.4A18.4 18.4 0 0 1 2172.2 1333.2z" fill="#000000" stroke="none"/>
<circle cx="2180.4" cy="1314.5" r="17.4"/><path d="M2179.9 1296.1A18.4 18.4 0 0 1 2179.9 1332.9z" fill="#000000" stroke="none"/>
<circle cx="2188.9" cy="1314.2" r="17.4"/><path d="M2188.4 1295.8A18.4 18.4 0 0 1 2188.4 1332.6z" fill="#000000" stroke="none"/>
<circle cx="2198.3" cy="1315.9" r="17.4"/><path d="M2197.8 1297.5A18.4 18.4 0 0 1 2197.8 1334.3z" fill="#000000" stroke="none"/>
<circle cx="2204.6" cy="1316.1" r="17.4"/><path d="M2204.1 1297.7A18.4 18.4 0 0 1 2204.1 1334.5z" fill="#000000" stroke="none"/>
<circle cx="2210.3" cy="1315.7" r="17.4"/><path d="M2209.8 1297.3A18.4 18.4 0 0 1 2209.8 1334.1z" fill="#000000" stroke="none"/>
</g>
<path d="M305,1612.3 315.1,1612.3 326.8,1612.3 334.3,1612.3 342.4,1612.3 356.4,1612.3 365.4,1612.3 372,1612.3 383.1,1612.3 390.1,1612.3 397.7,1612.3 407.7,1612.3 418.8,1612.3 430.4,1612.3 442.5,1612.3 452.1,1612.3 458.6,1612.3 470.7,1612.3 476.7,1612.3 486.8,1612.3 496.3,1612.3 508.4,1612.3 520.4,1612.3 528.4,1612.3 539.9,1612.3 552,1612.3 562,1612.3 569.1,1612.3 583.1,1612.3 594.2,1612.3 600.7,1612.3 608.8,1612.3 623.4,1612.3 631.5,1612.3 640.5,1612.3 653.1,1612.3 666.2,1612.3 677.8,1612.3 690.4,1612.3 696.4,1612.3 703,1612.3 717.5,1612.2 730.6,1612.2 736.6,1612.2 742.7,1612.2 750.8,1612.2 764.9,1612.1 772.5,1612.1 784.2,1612.1 798.5,1612 810.1,1611.9 824.3,1611.8 832.5,1611.7 839.8,1611.6 845.6,1611.5 856.5,1610.4 858,1608.9 872.2,1606.8 884.2,1604.7 891.5,1604 904.7,1603.3 912,1603 922.4,1602.8 929.3,1602.6 942.2,1602.3 956.2,1601.6 969.9,1600.1 975.5,1599.5 989.2,1598.2 1000,1596.9 1009.5,1595.4 1017.1,1593.9 1025.4,1592 1033.5,1590.1 1043,1587.8 1047.9,1586.6 1052.6,1585.5 1060.6,1583.5 1066.6,1582 1073.6,1580.2 1077.9,1579.1 1087,1576.7 1091.6,1575.4 1101.2,1572.6 1110.5,1569.8 1117.7,1567.7 1123,1566.3 1131.4,1564.2 1137.2,1563 1144.6,1561.4 1149.9,1560.4 1160.4,1558.3 1168.1,1556.9 1174.6,1555.8 1179.3,1555 1188.7,1553.4 1198.4,1551.4 1208.1,1549 1212.8,1547.6 1219.6,1545.7 1225.6,1543.9 1234.7,1541.4 1239.7,1540 1247.9,1537.9 1258.6,1535.5 1267.9,1533.6 1272.5,1532.8 1277.1,1532 1282.2,1531.1 1291.2,1529.6 1299.4,1528.2 1307.2,1526.9 1314.7,1525.6 1321.8,1524.2 1330,1522.5 1338.6,1520.3 1348.7,1517.3 1357.4,1514 1366.1,1510 1375.3,1504.6 1383,1497.8 1389.6,1491.3 1393.2,1488.3 1400,1482.7 1407.8,1476 1413.4,1471.1 1420.9,1464.3 1425.2,1460.4 1433.5,1453.5 1439.6,1448.9 1446.6,1443.3 1451.4,1439.2 1456.1,1434.7 1461.2,1430 1466.4,1425.7 1470.2,1422.8 1476.6,1418.5 1486.1,1412.3 1493.4,1407.4 1502.4,1401.9 1510.5,1396.9 1519.7,1392.7 1530.6,1391.4 1540,1391.4 1546.1,1391.6 1552.4,1391.8 1559.5,1392 1563.8,1391.9 1570.1,1391.1 1580.6,1392.2 1590.4,1396.2 1596.5,1399.2 1605.3,1403.5 1614,1407.5 1623.6,1411.9 1632.5,1416 1640,1419.4 1644.7,1421.6 1653.9,1425.6 1659.7,1428.1 1667.9,1431.5 1674.5,1434 1682,1436.6 1692.2,1439.9 1697.5,1441.5 1705.2,1443.6 1713.6,1445.7 1721.6,1447.6 1732.2,1449.8 1739.2,1451.1 1749.4,1452.9 1758.6,1454.2 1769.4,1455.4 1774.3,1455.9 1780.2,1456.4 1786.8,1456.9 1797.1,1457.7 1801.4,1458 1807.4,1458.4 1816.6,1459 1827.4,1459.6 1832.8,1459.9 1840.4,1460.3 1849.6,1460.6 1858.8,1460.8 1868,1461 1877.3,1461 1883.2,1460.9 1889.2,1460.8 1893.5,1460.7 1902.8,1460.3 1908.7,1460.1 1914.7,1459.8 1925.5,1459.2 1934.2,1458.7 1942.8,1458.3 1951.3,1457.8 1959.8,1457.3 1968.9,1456.7 1975.3,1456.3 1980,1456 1984.8,1455.6 1989.1,1455.4 1996,1454.9 2001.4,1454.6 2006.8,1454.3 2014.3,1453.8 2025.1,1453.2 2034.4,1452.6 2040.3,1452.3 2050.1,1451.8 2055.5,1451.5 2060.4,1451.3 2066.9,1451 2073.8,1450.8 2083.1,1450.5 2090.6,1450.3 2099.8,1450.1 2105,1450 2115.8,1449.8 2122.6,1449.7 2132.5,1449.6 2137,1449.6 2146.9,1449.5 2153,1449.5 2163.3,1449.5 2173,1449.5 2182,1449.5 2188.3,1449.5 2193,1449.5 2198.7,1449.5 2209.2,1449.6 2214.5,1449.6 2223.5,1449.6 2226,1449.6" fill="none" stroke="#37AE6B" stroke-width="6.5" stroke-linejoin="round"/>
<g fill="#fff" stroke="#37AE6B" stroke-width="2.0" shape-rendering="crispEdges">
<circle cx="304.9" cy="1611.6" r="17.4"/><path d="M304.4 1593.2A18.4 18.4 0 0 1 304.4 1630z" fill="#37AE6B" stroke="none"/>
<circle cx="315.2" cy="1612.7" r="17.4"/><path d="M314.7 1594.4A18.4 18.4 0 0 1 314.7 1631.1z" fill="#37AE6B" stroke="none"/>
<circle cx="326.6" cy="1612" r="17.4"/><path d="M326.1 1593.6A18.4 18.4 0 0 1 326.1 1630.4z" fill="#37AE6B" stroke="none"/>
<circle cx="334.4" cy="1612.8" r="17.4"/><path d="M333.9 1594.4A18.4 18.4 0 0 1 333.9 1631.2z" fill="#37AE6B" stroke="none"/>
<circle cx="342.8" cy="1612.9" r="17.4"/><path d="M342.3 1594.5A18.4 18.4 0 0 1 342.3 1631.3z" fill="#37AE6B" stroke="none"/>
<circle cx="356.7" cy="1611.8" r="17.4"/><path d="M356.2 1593.4A18.4 18.4 0 0 1 356.2 1630.2z" fill="#37AE6B" stroke="none"/>
<circle cx="365.4" cy="1613.6" r="17.4"/><path d="M364.9 1595.2A18.4 18.4 0 0 1 364.9 1632z" fill="#37AE6B" stroke="none"/>
<circle cx="372" cy="1611.9" r="17.4"/><path d="M371.5 1593.5A18.4 18.4 0 0 1 371.5 1630.3z" fill="#37AE6B" stroke="none"/>
<circle cx="383" cy="1613.9" r="17.4"/><path d="M382.5 1595.5A18.4 18.4 0 0 1 382.5 1632.3z" fill="#37AE6B" stroke="none"/>
<circle cx="389.9" cy="1612.4" r="17.4"/><path d="M389.4 1594A18.4 18.4 0 0 1 389.4 1630.8z" fill="#37AE6B" stroke="none"/>
<circle cx="397.5" cy="1613" r="17.4"/><path d="M397 1594.6A18.4 18.4 0 0 1 397 1631.4z" fill="#37AE6B" stroke="none"/>
<circle cx="407.5" cy="1611.8" r="17.4"/><path d="M407 1593.4A18.4 18.4 0 0 1 407 1630.2z" fill="#37AE6B" stroke="none"/>
<circle cx="418.6" cy="1611.7" r="17.4"/><path d="M418.1 1593.3A18.4 18.4 0 0 1 418.1 1630.1z" fill="#37AE6B" stroke="none"/>
<circle cx="430.5" cy="1612.2" r="17.4"/><path d="M430 1593.8A18.4 18.4 0 0 1 430 1630.6z" fill="#37AE6B" stroke="none"/>
<circle cx="442.1" cy="1612.6" r="17.4"/><path d="M441.6 1594.2A18.4 18.4 0 0 1 441.6 1631z" fill="#37AE6B" stroke="none"/>
<circle cx="452.1" cy="1612.5" r="17.4"/><path d="M451.6 1594.1A18.4 18.4 0 0 1 451.6 1630.9z" fill="#37AE6B" stroke="none"/>
<circle cx="458.6" cy="1612.6" r="17.4"/><path d="M458.1 1594.2A18.4 18.4 0 0 1 458.1 1631z" fill="#37AE6B" stroke="none"/>
<circle cx="470.7" cy="1612.4" r="17.4"/><path d="M470.2 1594A18.4 18.4 0 0 1 470.2 1630.8z" fill="#37AE6B" stroke="none"/>
<circle cx="477" cy="1612.9" r="17.4"/><path d="M476.5 1594.5A18.4 18.4 0 0 1 476.5 1631.3z" fill="#37AE6B" stroke="none"/>
<circle cx="486.8" cy="1612.8" r="17.4"/><path d="M486.3 1594.4A18.4 18.4 0 0 1 486.3 1631.2z" fill="#37AE6B" stroke="none"/>
<circle cx="496.7" cy="1610.9" r="17.4"/><path d="M496.2 1592.5A18.4 18.4 0 0 1 496.2 1629.3z" fill="#37AE6B" stroke="none"/>
<circle cx="508.3" cy="1612.8" r="17.4"/><path d="M507.8 1594.4A18.4 18.4 0 0 1 507.8 1631.2z" fill="#37AE6B" stroke="none"/>
<circle cx="520.4" cy="1612.2" r="17.4"/><path d="M519.9 1593.8A18.4 18.4 0 0 1 519.9 1630.5z" fill="#37AE6B" stroke="none"/>
<circle cx="528.3" cy="1612.9" r="17.4"/><path d="M527.8 1594.5A18.4 18.4 0 0 1 527.8 1631.2z" fill="#37AE6B" stroke="none"/>
<circle cx="540.2" cy="1612.5" r="17.4"/><path d="M539.7 1594.1A18.4 18.4 0 0 1 539.7 1630.9z" fill="#37AE6B" stroke="none"/>
<circle cx="551.9" cy="1612.1" r="17.4"/><path d="M551.4 1593.7A18.4 18.4 0 0 1 551.4 1630.5z" fill="#37AE6B" stroke="none"/>
<circle cx="562.1" cy="1612.9" r="17.4"/><path d="M561.6 1594.5A18.4 18.4 0 0 1 561.6 1631.3z" fill="#37AE6B" stroke="none"/>
<circle cx="569.1" cy="1612.4" r="17.4"/><path d="M568.6 1594A18.4 18.4 0 0 1 568.6 1630.8z" fill="#37AE6B" stroke="none"/>
<circle cx="583.2" cy="1612.3" r="17.4"/><path d="M582.7 1593.9A18.4 18.4 0 0 1 582.7 1630.7z" fill="#37AE6B" stroke="none"/>
<circle cx="594" cy="1612.1" r="17.4"/><path d="M593.5 1593.7A18.4 18.4 0 0 1 593.5 1630.5z" fill="#37AE6B" stroke="none"/>
<circle cx="600.7" cy="1612.2" r="17.4"/><path d="M600.2 1593.8A18.4 18.4 0 0 1 600.2 1630.6z" fill="#37AE6B" stroke="none"/>
<circle cx="609.1" cy="1612.1" r="17.4"/><path d="M608.6 1593.7A18.4 18.4 0 0 1 608.6 1630.5z" fill="#37AE6B" stroke="none"/>
<circle cx="623.7" cy="1612" r="17.4"/><path d="M623.2 1593.6A18.4 18.4 0 0 1 623.2 1630.4z" fill="#37AE6B" stroke="none"/>
<circle cx="631.3" cy="1613.7" r="17.4"/><path d="M630.8 1595.3A18.4 18.4 0 0 1 630.8 1632z" fill="#37AE6B" stroke="none"/>
<circle cx="640.7" cy="1611.7" r="17.4"/><path d="M640.2 1593.3A18.4 18.4 0 0 1 640.2 1630z" fill="#37AE6B" stroke="none"/>
<circle cx="653.5" cy="1612.5" r="17.4"/><path d="M653 1594.1A18.4 18.4 0 0 1 653 1630.9z" fill="#37AE6B" stroke="none"/>
<circle cx="666.2" cy="1612.2" r="17.4"/><path d="M665.7 1593.8A18.4 18.4 0 0 1 665.7 1630.6z" fill="#37AE6B" stroke="none"/>
<circle cx="677.9" cy="1612" r="17.4"/><path d="M677.4 1593.6A18.4 18.4 0 0 1 677.4 1630.4z" fill="#37AE6B" stroke="none"/>
<circle cx="689.9" cy="1613.2" r="17.4"/><path d="M689.4 1594.8A18.4 18.4 0 0 1 689.4 1631.6z" fill="#37AE6B" stroke="none"/>
<circle cx="696.7" cy="1611.9" r="17.4"/><path d="M696.2 1593.5A18.4 18.4 0 0 1 696.2 1630.3z" fill="#37AE6B" stroke="none"/>
<circle cx="703" cy="1612.7" r="17.4"/><path d="M702.5 1594.3A18.4 18.4 0 0 1 702.5 1631.1z" fill="#37AE6B" stroke="none"/>
<circle cx="717.5" cy="1609.6" r="17.4"/><path d="M717 1591.2A18.4 18.4 0 0 1 717 1628z" fill="#37AE6B" stroke="none"/>
<circle cx="730.5" cy="1612.2" r="17.4"/><path d="M730 1593.8A18.4 18.4 0 0 1 730 1630.6z" fill="#37AE6B" stroke="none"/>
<circle cx="736.5" cy="1612.7" r="17.4"/><path d="M736 1594.3A18.4 18.4 0 0 1 736 1631.1z" fill="#37AE6B" stroke="none"/>
<circle cx="742.8" cy="1612.8" r="17.4"/><path d="M742.3 1594.4A18.4 18.4 0 0 1 742.3 1631.2z" fill="#37AE6B" stroke="none"/>
<circle cx="751" cy="1611.6" r="17.4"/><path d="M750.5 1593.2A18.4 18.4 0 0 1 750.5 1630z" fill="#37AE6B" stroke="none"/>
<circle cx="765.2" cy="1613.1" r="17.4"/><path d="M764.7 1594.7A18.4 18.4 0 0 1 764.7 1631.5z" fill="#37AE6B" stroke="none"/>
<circle cx="772.9" cy="1613.2" r="17.4"/><path d="M772.4 1594.8A18.4 18.4 0 0 1 772.4 1631.6z" fill="#37AE6B" stroke="none"/>
<circle cx="784.2" cy="1612.3" r="17.4"/><path d="M783.7 1593.9A18.4 18.4 0 0 1 783.7 1630.7z" fill="#37AE6B" stroke="none"/>
<circle cx="798.3" cy="1611" r="17.4"/><path d="M797.8 1592.6A18.4 18.4 0 0 1 797.8 1629.4z" fill="#37AE6B" stroke="none"/>
<circle cx="810.5" cy="1612.8" r="17.4"/><path d="M810 1594.4A18.4 18.4 0 0 1 810 1631.2z" fill="#37AE6B" stroke="none"/>
<circle cx="824.4" cy="1611.7" r="17.4"/><path d="M823.9 1593.3A18.4 18.4 0 0 1 823.9 1630.1z" fill="#37AE6B" stroke="none"/>
<circle cx="832.6" cy="1611.5" r="17.4"/><path d="M832.1 1593.1A18.4 18.4 0 0 1 832.1 1629.9z" fill="#37AE6B" stroke="none"/>
<circle cx="840" cy="1611.4" r="17.4"/><path d="M839.5 1593A18.4 18.4 0 0 1 839.5 1629.8z" fill="#37AE6B" stroke="none"/>
<circle cx="845.1" cy="1611.3" r="17.4"/><path d="M844.6 1592.9A18.4 18.4 0 0 1 844.6 1629.7z" fill="#37AE6B" stroke="none"/>
<circle cx="855.6" cy="1608.3" r="17.4"/><path d="M855.1 1589.9A18.4 18.4 0 0 1 855.1 1626.7z" fill="#37AE6B" stroke="none"/>
<circle cx="858.1" cy="1608.4" r="17.4"/><path d="M857.6 1590A18.4 18.4 0 0 1 857.6 1626.8z" fill="#37AE6B" stroke="none"/>
<circle cx="873.1" cy="1611.4" r="17.4"/><path d="M872.6 1593A18.4 18.4 0 0 1 872.6 1629.8z" fill="#37AE6B" stroke="none"/>
<circle cx="884.2" cy="1605" r="17.4"/><path d="M883.7 1586.6A18.4 18.4 0 0 1 883.7 1623.4z" fill="#37AE6B" stroke="none"/>
<circle cx="891.5" cy="1605.2" r="17.4"/><path d="M891 1586.8A18.4 18.4 0 0 1 891 1623.6z" fill="#37AE6B" stroke="none"/>
<circle cx="904.9" cy="1603.4" r="17.4"/><path d="M904.4 1585A18.4 18.4 0 0 1 904.4 1621.8z" fill="#37AE6B" stroke="none"/>
<circle cx="911.8" cy="1602.7" r="17.4"/><path d="M911.3 1584.3A18.4 18.4 0 0 1 911.3 1621z" fill="#37AE6B" stroke="none"/>
<circle cx="922.2" cy="1602.9" r="17.4"/><path d="M921.7 1584.5A18.4 18.4 0 0 1 921.7 1621.3z" fill="#37AE6B" stroke="none"/>
<circle cx="928.9" cy="1603.3" r="17.4"/><path d="M928.4 1584.9A18.4 18.4 0 0 1 928.4 1621.7z" fill="#37AE6B" stroke="none"/>
<circle cx="942.6" cy="1602.4" r="17.4"/><path d="M942.1 1584A18.4 18.4 0 0 1 942.1 1620.8z" fill="#37AE6B" stroke="none"/>
<circle cx="956.1" cy="1601.1" r="17.4"/><path d="M955.6 1582.7A18.4 18.4 0 0 1 955.6 1619.5z" fill="#37AE6B" stroke="none"/>
<circle cx="969.9" cy="1599.8" r="17.4"/><path d="M969.4 1581.4A18.4 18.4 0 0 1 969.4 1618.2z" fill="#37AE6B" stroke="none"/>
<circle cx="975.4" cy="1598.8" r="17.4"/><path d="M974.9 1580.4A18.4 18.4 0 0 1 974.9 1617.2z" fill="#37AE6B" stroke="none"/>
<circle cx="989" cy="1598.6" r="17.4"/><path d="M988.5 1580.2A18.4 18.4 0 0 1 988.5 1617z" fill="#37AE6B" stroke="none"/>
<circle cx="999.5" cy="1596.6" r="17.4"/><path d="M999 1578.2A18.4 18.4 0 0 1 999 1614.9z" fill="#37AE6B" stroke="none"/>
<circle cx="1009.4" cy="1595.2" r="17.4"/><path d="M1008.9 1576.8A18.4 18.4 0 0 1 1008.9 1613.6z" fill="#37AE6B" stroke="none"/>
<circle cx="1016.8" cy="1593.5" r="17.4"/><path d="M1016.3 1575.1A18.4 18.4 0 0 1 1016.3 1611.8z" fill="#37AE6B" stroke="none"/>
<circle cx="1025.2" cy="1591.3" r="17.4"/><path d="M1024.7 1572.9A18.4 18.4 0 0 1 1024.7 1609.7z" fill="#37AE6B" stroke="none"/>
<circle cx="1033.7" cy="1590.9" r="17.4"/><path d="M1033.2 1572.6A18.4 18.4 0 0 1 1033.2 1609.3z" fill="#37AE6B" stroke="none"/>
<circle cx="1043.8" cy="1590.6" r="17.4"/><path d="M1043.3 1572.2A18.4 18.4 0 0 1 1043.3 1609z" fill="#37AE6B" stroke="none"/>
<circle cx="1047.7" cy="1586.2" r="17.4"/><path d="M1047.2 1567.8A18.4 18.4 0 0 1 1047.2 1604.6z" fill="#37AE6B" stroke="none"/>
<circle cx="1051.9" cy="1582.5" r="17.4"/><path d="M1051.4 1564.1A18.4 18.4 0 0 1 1051.4 1600.9z" fill="#37AE6B" stroke="none"/>
<circle cx="1060.9" cy="1584" r="17.4"/><path d="M1060.4 1565.6A18.4 18.4 0 0 1 1060.4 1602.4z" fill="#37AE6B" stroke="none"/>
<circle cx="1066.5" cy="1582.4" r="17.4"/><path d="M1066 1564A18.4 18.4 0 0 1 1066 1600.8z" fill="#37AE6B" stroke="none"/>
<circle cx="1074.4" cy="1583" r="17.4"/><path d="M1073.9 1564.6A18.4 18.4 0 0 1 1073.9 1601.4z" fill="#37AE6B" stroke="none"/>
<circle cx="1077.4" cy="1578.4" r="17.4"/><path d="M1076.9 1560.1A18.4 18.4 0 0 1 1076.9 1596.8z" fill="#37AE6B" stroke="none"/>
<circle cx="1086.7" cy="1575.5" r="17.4"/><path d="M1086.2 1557.1A18.4 18.4 0 0 1 1086.2 1593.9z" fill="#37AE6B" stroke="none"/>
<circle cx="1091.5" cy="1575.4" r="17.4"/><path d="M1091 1557A18.4 18.4 0 0 1 1091 1593.8z" fill="#37AE6B" stroke="none"/>
<circle cx="1100.6" cy="1568.9" r="17.4"/><path d="M1100.1 1550.6A18.4 18.4 0 0 1 1100.1 1587.3z" fill="#37AE6B" stroke="none"/>
<circle cx="1109.1" cy="1565.5" r="17.4"/><path d="M1108.6 1547.1A18.4 18.4 0 0 1 1108.6 1583.9z" fill="#37AE6B" stroke="none"/>
<circle cx="1116.7" cy="1566.3" r="17.4"/><path d="M1116.2 1547.9A18.4 18.4 0 0 1 1116.2 1584.6z" fill="#37AE6B" stroke="none"/>
<circle cx="1123.8" cy="1569.9" r="17.4"/><path d="M1123.3 1551.5A18.4 18.4 0 0 1 1123.3 1588.3z" fill="#37AE6B" stroke="none"/>
<circle cx="1131.4" cy="1565.8" r="17.4"/><path d="M1130.9 1547.4A18.4 18.4 0 0 1 1130.9 1584.2z" fill="#37AE6B" stroke="none"/>
<circle cx="1136.3" cy="1559.3" r="17.4"/><path d="M1135.8 1540.9A18.4 18.4 0 0 1 1135.8 1577.7z" fill="#37AE6B" stroke="none"/>
<circle cx="1145.2" cy="1564.1" r="17.4"/><path d="M1144.7 1545.7A18.4 18.4 0 0 1 1144.7 1582.4z" fill="#37AE6B" stroke="none"/>
<circle cx="1149.5" cy="1558.7" r="17.4"/><path d="M1149 1540.3A18.4 18.4 0 0 1 1149 1577.1z" fill="#37AE6B" stroke="none"/>
<circle cx="1161" cy="1560" r="17.4"/><path d="M1160.5 1541.6A18.4 18.4 0 0 1 1160.5 1578.4z" fill="#37AE6B" stroke="none"/>
<circle cx="1168.1" cy="1557.3" r="17.4"/><path d="M1167.6 1538.9A18.4 18.4 0 0 1 1167.6 1575.7z" fill="#37AE6B" stroke="none"/>
<circle cx="1174.7" cy="1556.6" r="17.4"/><path d="M1174.2 1538.3A18.4 18.4 0 0 1 1174.2 1575z" fill="#37AE6B" stroke="none"/>
<circle cx="1180" cy="1558.3" r="17.4"/><path d="M1179.5 1539.9A18.4 18.4 0 0 1 1179.5 1576.7z" fill="#37AE6B" stroke="none"/>
<circle cx="1188.7" cy="1551.9" r="17.4"/><path d="M1188.2 1533.5A18.4 18.4 0 0 1 1188.2 1570.3z" fill="#37AE6B" stroke="none"/>
<circle cx="1198.7" cy="1553.4" r="17.4"/><path d="M1198.2 1535A18.4 18.4 0 0 1 1198.2 1571.8z" fill="#37AE6B" stroke="none"/>
<circle cx="1208.3" cy="1549.8" r="17.4"/><path d="M1207.8 1531.5A18.4 18.4 0 0 1 1207.8 1568.2z" fill="#37AE6B" stroke="none"/>
<circle cx="1212.8" cy="1548.2" r="17.4"/><path d="M1212.3 1529.8A18.4 18.4 0 0 1 1212.3 1566.6z" fill="#37AE6B" stroke="none"/>
<circle cx="1219.9" cy="1545.4" r="17.4"/><path d="M1219.4 1527A18.4 18.4 0 0 1 1219.4 1563.8z" fill="#37AE6B" stroke="none"/>
<circle cx="1224.9" cy="1542" r="17.4"/><path d="M1224.4 1523.6A18.4 18.4 0 0 1 1224.4 1560.4z" fill="#37AE6B" stroke="none"/>
<circle cx="1235.3" cy="1543.9" r="17.4"/><path d="M1234.8 1525.5A18.4 18.4 0 0 1 1234.8 1562.3z" fill="#37AE6B" stroke="none"/>
<circle cx="1239.7" cy="1540.2" r="17.4"/><path d="M1239.2 1521.8A18.4 18.4 0 0 1 1239.2 1558.6z" fill="#37AE6B" stroke="none"/>
<circle cx="1247.7" cy="1537.7" r="17.4"/><path d="M1247.2 1519.3A18.4 18.4 0 0 1 1247.2 1556.1z" fill="#37AE6B" stroke="none"/>
<circle cx="1258.1" cy="1531.9" r="17.4"/><path d="M1257.6 1513.5A18.4 18.4 0 0 1 1257.6 1550.3z" fill="#37AE6B" stroke="none"/>
<circle cx="1268.5" cy="1535" r="17.4"/><path d="M1268 1516.6A18.4 18.4 0 0 1 1268 1553.4z" fill="#37AE6B" stroke="none"/>
<circle cx="1271.8" cy="1529.3" r="17.4"/><path d="M1271.3 1510.9A18.4 18.4 0 0 1 1271.3 1547.7z" fill="#37AE6B" stroke="none"/>
<circle cx="1276.6" cy="1530.6" r="17.4"/><path d="M1276.1 1512.2A18.4 18.4 0 0 1 1276.1 1549z" fill="#37AE6B" stroke="none"/>
<circle cx="1282.3" cy="1532.1" r="17.4"/><path d="M1281.8 1513.7A18.4 18.4 0 0 1 1281.8 1550.5z" fill="#37AE6B" stroke="none"/>
<circle cx="1290.8" cy="1528.5" r="17.4"/><path d="M1290.3 1510.1A18.4 18.4 0 0 1 1290.3 1546.9z" fill="#37AE6B" stroke="none"/>
<circle cx="1299.4" cy="1530.4" r="17.4"/><path d="M1298.9 1512A18.4 18.4 0 0 1 1298.9 1548.8z" fill="#37AE6B" stroke="none"/>
<circle cx="1307.9" cy="1530.3" r="17.4"/><path d="M1307.4 1512A18.4 18.4 0 0 1 1307.4 1548.7z" fill="#37AE6B" stroke="none"/>
<circle cx="1314.8" cy="1527" r="17.4"/><path d="M1314.3 1508.7A18.4 18.4 0 0 1 1314.3 1545.4z" fill="#37AE6B" stroke="none"/>
<circle cx="1320.8" cy="1520.8" r="17.4"/><path d="M1320.3 1502.4A18.4 18.4 0 0 1 1320.3 1539.2z" fill="#37AE6B" stroke="none"/>
<circle cx="1330.3" cy="1524.1" r="17.4"/><path d="M1329.8 1505.7A18.4 18.4 0 0 1 1329.8 1542.5z" fill="#37AE6B" stroke="none"/>
<circle cx="1339" cy="1521.2" r="17.4"/><path d="M1338.5 1502.8A18.4 18.4 0 0 1 1338.5 1539.6z" fill="#37AE6B" stroke="none"/>
<circle cx="1347.3" cy="1512.8" r="17.4"/><path d="M1346.8 1494.4A18.4 18.4 0 0 1 1346.8 1531.2z" fill="#37AE6B" stroke="none"/>
<circle cx="1357.4" cy="1514.4" r="17.4"/><path d="M1356.9 1496A18.4 18.4 0 0 1 1356.9 1532.8z" fill="#37AE6B" stroke="none"/>
<circle cx="1367.9" cy="1513" r="17.4"/><path d="M1367.4 1494.6A18.4 18.4 0 0 1 1367.4 1531.4z" fill="#37AE6B" stroke="none"/>
<circle cx="1375.7" cy="1505" r="17.4"/><path d="M1375.2 1486.6A18.4 18.4 0 0 1 1375.2 1523.4z" fill="#37AE6B" stroke="none"/>
<circle cx="1383.4" cy="1497.5" r="17.4"/><path d="M1382.9 1479.1A18.4 18.4 0 0 1 1382.9 1515.9z" fill="#37AE6B" stroke="none"/>
<circle cx="1388.7" cy="1490.5" r="17.4"/><path d="M1388.2 1472.1A18.4 18.4 0 0 1 1388.2 1508.9z" fill="#37AE6B" stroke="none"/>
<circle cx="1394.1" cy="1489.6" r="17.4"/><path d="M1393.6 1471.2A18.4 18.4 0 0 1 1393.6 1508z" fill="#37AE6B" stroke="none"/>
<circle cx="1399.3" cy="1482.3" r="17.4"/><path d="M1398.8 1463.9A18.4 18.4 0 0 1 1398.8 1500.6z" fill="#37AE6B" stroke="none"/>
<circle cx="1407.4" cy="1475.3" r="17.4"/><path d="M1406.9 1457A18.4 18.4 0 0 1 1406.9 1493.7z" fill="#37AE6B" stroke="none"/>
<circle cx="1412.3" cy="1469.8" r="17.4"/><path d="M1411.8 1451.4A18.4 18.4 0 0 1 1411.8 1488.2z" fill="#37AE6B" stroke="none"/>
<circle cx="1419.8" cy="1463.5" r="17.4"/><path d="M1419.3 1445.1A18.4 18.4 0 0 1 1419.3 1481.9z" fill="#37AE6B" stroke="none"/>
<circle cx="1424.3" cy="1459.5" r="17.4"/><path d="M1423.8 1441.1A18.4 18.4 0 0 1 1423.8 1477.9z" fill="#37AE6B" stroke="none"/>
<circle cx="1435.1" cy="1454.6" r="17.4"/><path d="M1434.6 1436.3A18.4 18.4 0 0 1 1434.6 1473z" fill="#37AE6B" stroke="none"/>
<circle cx="1439.1" cy="1448" r="17.4"/><path d="M1438.6 1429.6A18.4 18.4 0 0 1 1438.6 1466.4z" fill="#37AE6B" stroke="none"/>
<circle cx="1447.1" cy="1444.1" r="17.4"/><path d="M1446.6 1425.7A18.4 18.4 0 0 1 1446.6 1462.4z" fill="#37AE6B" stroke="none"/>
<circle cx="1454.5" cy="1442.9" r="17.4"/><path d="M1454 1424.5A18.4 18.4 0 0 1 1454 1461.3z" fill="#37AE6B" stroke="none"/>
<circle cx="1457.2" cy="1435.9" r="17.4"/><path d="M1456.7 1417.5A18.4 18.4 0 0 1 1456.7 1454.3z" fill="#37AE6B" stroke="none"/>
<circle cx="1463.6" cy="1432.6" r="17.4"/><path d="M1463.1 1414.2A18.4 18.4 0 0 1 1463.1 1450.9z" fill="#37AE6B" stroke="none"/>
<circle cx="1465.1" cy="1424" r="17.4"/><path d="M1464.6 1405.6A18.4 18.4 0 0 1 1464.6 1442.4z" fill="#37AE6B" stroke="none"/>
<circle cx="1473.3" cy="1426.9" r="17.4"/><path d="M1472.8 1408.5A18.4 18.4 0 0 1 1472.8 1445.2z" fill="#37AE6B" stroke="none"/>
<circle cx="1476.9" cy="1418.8" r="17.4"/><path d="M1476.4 1400.4A18.4 18.4 0 0 1 1476.4 1437.2z" fill="#37AE6B" stroke="none"/>
<circle cx="1486.5" cy="1413" r="17.4"/><path d="M1486 1394.6A18.4 18.4 0 0 1 1486 1431.4z" fill="#37AE6B" stroke="none"/>
<circle cx="1494.8" cy="1409.3" r="17.4"/><path d="M1494.3 1390.9A18.4 18.4 0 0 1 1494.3 1427.7z" fill="#37AE6B" stroke="none"/>
<circle cx="1503.7" cy="1403.2" r="17.4"/><path d="M1503.2 1384.8A18.4 18.4 0 0 1 1503.2 1421.6z" fill="#37AE6B" stroke="none"/>
<circle cx="1511.1" cy="1397.8" r="17.4"/><path d="M1510.6 1379.4A18.4 18.4 0 0 1 1510.6 1416.2z" fill="#37AE6B" stroke="none"/>
<circle cx="1520" cy="1393.7" r="17.4"/><path d="M1519.5 1375.3A18.4 18.4 0 0 1 1519.5 1412.1z" fill="#37AE6B" stroke="none"/>
<circle cx="1531" cy="1392.3" r="17.4"/><path d="M1530.5 1373.9A18.4 18.4 0 0 1 1530.5 1410.7z" fill="#37AE6B" stroke="none"/>
<circle cx="1540.1" cy="1389.3" r="17.4"/><path d="M1539.6 1370.9A18.4 18.4 0 0 1 1539.6 1407.7z" fill="#37AE6B" stroke="none"/>
<circle cx="1545.8" cy="1391.3" r="17.4"/><path d="M1545.3 1372.9A18.4 18.4 0 0 1 1545.3 1409.7z" fill="#37AE6B" stroke="none"/>
<circle cx="1552.3" cy="1392" r="17.4"/><path d="M1551.8 1373.6A18.4 18.4 0 0 1 1551.8 1410.4z" fill="#37AE6B" stroke="none"/>
<circle cx="1559.8" cy="1394.1" r="17.4"/><path d="M1559.3 1375.7A18.4 18.4 0 0 1 1559.3 1412.5z" fill="#37AE6B" stroke="none"/>
<circle cx="1564" cy="1391.6" r="17.4"/><path d="M1563.5 1373.2A18.4 18.4 0 0 1 1563.5 1410z" fill="#37AE6B" stroke="none"/>
<circle cx="1570.2" cy="1392" r="17.4"/><path d="M1569.7 1373.6A18.4 18.4 0 0 1 1569.7 1410.3z" fill="#37AE6B" stroke="none"/>
<circle cx="1580.1" cy="1393.5" r="17.4"/><path d="M1579.6 1375.1A18.4 18.4 0 0 1 1579.6 1411.9z" fill="#37AE6B" stroke="none"/>
<circle cx="1589" cy="1399.3" r="17.4"/><path d="M1588.5 1380.9A18.4 18.4 0 0 1 1588.5 1417.7z" fill="#37AE6B" stroke="none"/>
<circle cx="1598.3" cy="1396.2" r="17.4"/><path d="M1597.8 1377.8A18.4 18.4 0 0 1 1597.8 1414.6z" fill="#37AE6B" stroke="none"/>
<circle cx="1606.6" cy="1401.6" r="17.4"/><path d="M1606.1 1383.2A18.4 18.4 0 0 1 1606.1 1419.9z" fill="#37AE6B" stroke="none"/>
<circle cx="1615.2" cy="1404.4" r="17.4"/><path d="M1614.7 1386A18.4 18.4 0 0 1 1614.7 1422.8z" fill="#37AE6B" stroke="none"/>
<circle cx="1624.1" cy="1411" r="17.4"/><path d="M1623.6 1392.6A18.4 18.4 0 0 1 1623.6 1429.4z" fill="#37AE6B" stroke="none"/>
<circle cx="1632.9" cy="1415.6" r="17.4"/><path d="M1632.4 1397.3A18.4 18.4 0 0 1 1632.4 1434z" fill="#37AE6B" stroke="none"/>
<circle cx="1639.3" cy="1420.8" r="17.4"/><path d="M1638.8 1402.4A18.4 18.4 0 0 1 1638.8 1439.2z" fill="#37AE6B" stroke="none"/>
<circle cx="1645" cy="1421.9" r="17.4"/><path d="M1644.5 1403.5A18.4 18.4 0 0 1 1644.5 1440.3z" fill="#37AE6B" stroke="none"/>
<circle cx="1653.5" cy="1426.9" r="17.4"/><path d="M1653 1408.5A18.4 18.4 0 0 1 1653 1445.3z" fill="#37AE6B" stroke="none"/>
<circle cx="1660.2" cy="1428.5" r="17.4"/><path d="M1659.7 1410.1A18.4 18.4 0 0 1 1659.7 1446.9z" fill="#37AE6B" stroke="none"/>
<circle cx="1670.2" cy="1425.2" r="17.4"/><path d="M1669.7 1406.8A18.4 18.4 0 0 1 1669.7 1443.6z" fill="#37AE6B" stroke="none"/>
<circle cx="1674.1" cy="1434.5" r="17.4"/><path d="M1673.6 1416.1A18.4 18.4 0 0 1 1673.6 1452.9z" fill="#37AE6B" stroke="none"/>
<circle cx="1682.6" cy="1434.8" r="17.4"/><path d="M1682.1 1416.4A18.4 18.4 0 0 1 1682.1 1453.2z" fill="#37AE6B" stroke="none"/>
<circle cx="1692.7" cy="1438.2" r="17.4"/><path d="M1692.2 1419.8A18.4 18.4 0 0 1 1692.2 1456.5z" fill="#37AE6B" stroke="none"/>
<circle cx="1698.3" cy="1439.3" r="17.4"/><path d="M1697.8 1420.9A18.4 18.4 0 0 1 1697.8 1457.7z" fill="#37AE6B" stroke="none"/>
<circle cx="1704.9" cy="1444.8" r="17.4"/><path d="M1704.4 1426.4A18.4 18.4 0 0 1 1704.4 1463.2z" fill="#37AE6B" stroke="none"/>
<circle cx="1713.8" cy="1444.1" r="17.4"/><path d="M1713.3 1425.7A18.4 18.4 0 0 1 1713.3 1462.5z" fill="#37AE6B" stroke="none"/>
<circle cx="1720.8" cy="1451.5" r="17.4"/><path d="M1720.3 1433.1A18.4 18.4 0 0 1 1720.3 1469.9z" fill="#37AE6B" stroke="none"/>
<circle cx="1732.1" cy="1449.5" r="17.4"/><path d="M1731.6 1431.1A18.4 18.4 0 0 1 1731.6 1467.9z" fill="#37AE6B" stroke="none"/>
<circle cx="1738.5" cy="1452.1" r="17.4"/><path d="M1738 1433.7A18.4 18.4 0 0 1 1738 1470.5z" fill="#37AE6B" stroke="none"/>
<circle cx="1749.1" cy="1454.9" r="17.4"/><path d="M1748.6 1436.5A18.4 18.4 0 0 1 1748.6 1473.3z" fill="#37AE6B" stroke="none"/>
<circle cx="1758.6" cy="1454.1" r="17.4"/><path d="M1758.1 1435.7A18.4 18.4 0 0 1 1758.1 1472.5z" fill="#37AE6B" stroke="none"/>
<circle cx="1769.5" cy="1454.9" r="17.4"/><path d="M1769 1436.5A18.4 18.4 0 0 1 1769 1473.3z" fill="#37AE6B" stroke="none"/>
<circle cx="1774.1" cy="1455.6" r="17.4"/><path d="M1773.6 1437.2A18.4 18.4 0 0 1 1773.6 1474z" fill="#37AE6B" stroke="none"/>
<circle cx="1780.4" cy="1456" r="17.4"/><path d="M1779.9 1437.6A18.4 18.4 0 0 1 1779.9 1474.4z" fill="#37AE6B" stroke="none"/>
<circle cx="1787.1" cy="1456.8" r="17.4"/><path d="M1786.6 1438.4A18.4 18.4 0 0 1 1786.6 1475.1z" fill="#37AE6B" stroke="none"/>
<circle cx="1797.4" cy="1456.9" r="17.4"/><path d="M1796.9 1438.5A18.4 18.4 0 0 1 1796.9 1475.3z" fill="#37AE6B" stroke="none"/>
<circle cx="1801.9" cy="1457.3" r="17.4"/><path d="M1801.4 1438.9A18.4 18.4 0 0 1 1801.4 1475.7z" fill="#37AE6B" stroke="none"/>
<circle cx="1807" cy="1458" r="17.4"/><path d="M1806.5 1439.6A18.4 18.4 0 0 1 1806.5 1476.4z" fill="#37AE6B" stroke="none"/>
<circle cx="1816.6" cy="1457.7" r="17.4"/><path d="M1816.1 1439.3A18.4 18.4 0 0 1 1816.1 1476.1z" fill="#37AE6B" stroke="none"/>
<circle cx="1827.3" cy="1460.3" r="17.4"/><path d="M1826.8 1441.9A18.4 18.4 0 0 1 1826.8 1478.7z" fill="#37AE6B" stroke="none"/>
<circle cx="1833" cy="1459.8" r="17.4"/><path d="M1832.5 1441.4A18.4 18.4 0 0 1 1832.5 1478.2z" fill="#37AE6B" stroke="none"/>
<circle cx="1840.8" cy="1460.3" r="17.4"/><path d="M1840.3 1441.9A18.4 18.4 0 0 1 1840.3 1478.7z" fill="#37AE6B" stroke="none"/>
<circle cx="1849.7" cy="1461.3" r="17.4"/><path d="M1849.2 1442.9A18.4 18.4 0 0 1 1849.2 1479.7z" fill="#37AE6B" stroke="none"/>
<circle cx="1858.7" cy="1461.4" r="17.4"/><path d="M1858.2 1443A18.4 18.4 0 0 1 1858.2 1479.8z" fill="#37AE6B" stroke="none"/>
<circle cx="1868" cy="1459.6" r="17.4"/><path d="M1867.5 1441.2A18.4 18.4 0 0 1 1867.5 1478z" fill="#37AE6B" stroke="none"/>
<circle cx="1877.3" cy="1460.7" r="17.4"/><path d="M1876.8 1442.3A18.4 18.4 0 0 1 1876.8 1479.1z" fill="#37AE6B" stroke="none"/>
<circle cx="1883.1" cy="1461.6" r="17.4"/><path d="M1882.6 1443.3A18.4 18.4 0 0 1 1882.6 1480z" fill="#37AE6B" stroke="none"/>
<circle cx="1888.9" cy="1459.3" r="17.4"/><path d="M1888.4 1440.9A18.4 18.4 0 0 1 1888.4 1477.7z" fill="#37AE6B" stroke="none"/>
<circle cx="1893" cy="1460.3" r="17.4"/><path d="M1892.5 1441.9A18.4 18.4 0 0 1 1892.5 1478.7z" fill="#37AE6B" stroke="none"/>
<circle cx="1902.6" cy="1461.3" r="17.4"/><path d="M1902.1 1442.9A18.4 18.4 0 0 1 1902.1 1479.7z" fill="#37AE6B" stroke="none"/>
<circle cx="1909" cy="1460.1" r="17.4"/><path d="M1908.5 1441.7A18.4 18.4 0 0 1 1908.5 1478.5z" fill="#37AE6B" stroke="none"/>
<circle cx="1915.1" cy="1460.2" r="17.4"/><path d="M1914.6 1441.8A18.4 18.4 0 0 1 1914.6 1478.6z" fill="#37AE6B" stroke="none"/>
<circle cx="1925.6" cy="1460.2" r="17.4"/><path d="M1925.1 1441.8A18.4 18.4 0 0 1 1925.1 1478.6z" fill="#37AE6B" stroke="none"/>
<circle cx="1934.4" cy="1458.1" r="17.4"/><path d="M1933.9 1439.7A18.4 18.4 0 0 1 1933.9 1476.5z" fill="#37AE6B" stroke="none"/>
<circle cx="1942.3" cy="1458" r="17.4"/><path d="M1941.8 1439.6A18.4 18.4 0 0 1 1941.8 1476.4z" fill="#37AE6B" stroke="none"/>
<circle cx="1951.4" cy="1459.2" r="17.4"/><path d="M1950.9 1440.8A18.4 18.4 0 0 1 1950.9 1477.6z" fill="#37AE6B" stroke="none"/>
<circle cx="1959.7" cy="1456.1" r="17.4"/><path d="M1959.2 1437.7A18.4 18.4 0 0 1 1959.2 1474.5z" fill="#37AE6B" stroke="none"/>
<circle cx="1968.2" cy="1455.5" r="17.4"/><path d="M1967.7 1437.2A18.4 18.4 0 0 1 1967.7 1473.9z" fill="#37AE6B" stroke="none"/>
<circle cx="1975.2" cy="1455.6" r="17.4"/><path d="M1974.7 1437.2A18.4 18.4 0 0 1 1974.7 1474z" fill="#37AE6B" stroke="none"/>
<circle cx="1979.7" cy="1455.1" r="17.4"/><path d="M1979.2 1436.7A18.4 18.4 0 0 1 1979.2 1473.5z" fill="#37AE6B" stroke="none"/>
<circle cx="1985" cy="1455.4" r="17.4"/><path d="M1984.5 1437A18.4 18.4 0 0 1 1984.5 1473.7z" fill="#37AE6B" stroke="none"/>
<circle cx="1989" cy="1455.8" r="17.4"/><path d="M1988.5 1437.4A18.4 18.4 0 0 1 1988.5 1474.2z" fill="#37AE6B" stroke="none"/>
<circle cx="1996.1" cy="1455.5" r="17.4"/><path d="M1995.6 1437.1A18.4 18.4 0 0 1 1995.6 1473.9z" fill="#37AE6B" stroke="none"/>
<circle cx="2001.3" cy="1453.5" r="17.4"/><path d="M2000.8 1435.1A18.4 18.4 0 0 1 2000.8 1471.9z" fill="#37AE6B" stroke="none"/>
<circle cx="2006.7" cy="1453.4" r="17.4"/><path d="M2006.2 1435A18.4 18.4 0 0 1 2006.2 1471.8z" fill="#37AE6B" stroke="none"/>
<circle cx="2014.4" cy="1453.1" r="17.4"/><path d="M2013.9 1434.7A18.4 18.4 0 0 1 2013.9 1471.5z" fill="#37AE6B" stroke="none"/>
<circle cx="2024.7" cy="1452.9" r="17.4"/><path d="M2024.2 1434.5A18.4 18.4 0 0 1 2024.2 1471.3z" fill="#37AE6B" stroke="none"/>
<circle cx="2034.2" cy="1451.9" r="17.4"/><path d="M2033.7 1433.5A18.4 18.4 0 0 1 2033.7 1470.3z" fill="#37AE6B" stroke="none"/>
<circle cx="2040.3" cy="1452.8" r="17.4"/><path d="M2039.8 1434.4A18.4 18.4 0 0 1 2039.8 1471.2z" fill="#37AE6B" stroke="none"/>
<circle cx="2050.2" cy="1451.6" r="17.4"/><path d="M2049.7 1433.2A18.4 18.4 0 0 1 2049.7 1470z" fill="#37AE6B" stroke="none"/>
<circle cx="2055.2" cy="1452" r="17.4"/><path d="M2054.7 1433.6A18.4 18.4 0 0 1 2054.7 1470.4z" fill="#37AE6B" stroke="none"/>
<circle cx="2059.9" cy="1451.3" r="17.4"/><path d="M2059.4 1432.9A18.4 18.4 0 0 1 2059.4 1469.7z" fill="#37AE6B" stroke="none"/>
<circle cx="2067.2" cy="1450.4" r="17.4"/><path d="M2066.7 1432A18.4 18.4 0 0 1 2066.7 1468.8z" fill="#37AE6B" stroke="none"/>
<circle cx="2074" cy="1451.5" r="17.4"/><path d="M2073.5 1433.1A18.4 18.4 0 0 1 2073.5 1469.9z" fill="#37AE6B" stroke="none"/>
<circle cx="2082.9" cy="1450.1" r="17.4"/><path d="M2082.4 1431.7A18.4 18.4 0 0 1 2082.4 1468.5z" fill="#37AE6B" stroke="none"/>
<circle cx="2090.8" cy="1450.8" r="17.4"/><path d="M2090.3 1432.4A18.4 18.4 0 0 1 2090.3 1469.2z" fill="#37AE6B" stroke="none"/>
<circle cx="2100" cy="1449.8" r="17.4"/><path d="M2099.5 1431.4A18.4 18.4 0 0 1 2099.5 1468.2z" fill="#37AE6B" stroke="none"/>
<circle cx="2104.4" cy="1451" r="17.4"/><path d="M2103.9 1432.6A18.4 18.4 0 0 1 2103.9 1469.4z" fill="#37AE6B" stroke="none"/>
<circle cx="2115.9" cy="1447.8" r="17.4"/><path d="M2115.4 1429.4A18.4 18.4 0 0 1 2115.4 1466.2z" fill="#37AE6B" stroke="none"/>
<circle cx="2122.5" cy="1449.7" r="17.4"/><path d="M2122 1431.3A18.4 18.4 0 0 1 2122 1468.1z" fill="#37AE6B" stroke="none"/>
<circle cx="2132.6" cy="1449.6" r="17.4"/><path d="M2132.1 1431.2A18.4 18.4 0 0 1 2132.1 1468z" fill="#37AE6B" stroke="none"/>
<circle cx="2136.8" cy="1447.8" r="17.4"/><path d="M2136.3 1429.4A18.4 18.4 0 0 1 2136.3 1466.2z" fill="#37AE6B" stroke="none"/>
<circle cx="2147" cy="1448.8" r="17.4"/><path d="M2146.5 1430.4A18.4 18.4 0 0 1 2146.5 1467.2z" fill="#37AE6B" stroke="none"/>
<circle cx="2153.2" cy="1449.2" r="17.4"/><path d="M2152.7 1430.8A18.4 18.4 0 0 1 2152.7 1467.6z" fill="#37AE6B" stroke="none"/>
<circle cx="2163.3" cy="1449.6" r="17.4"/><path d="M2162.8 1431.3A18.4 18.4 0 0 1 2162.8 1468z" fill="#37AE6B" stroke="none"/>
<circle cx="2172.8" cy="1448.8" r="17.4"/><path d="M2172.3 1430.4A18.4 18.4 0 0 1 2172.3 1467.2z" fill="#37AE6B" stroke="none"/>
<circle cx="2181.9" cy="1450" r="17.4"/><path d="M2181.4 1431.6A18.4 18.4 0 0 1 2181.4 1468.4z" fill="#37AE6B" stroke="none"/>
<circle cx="2187.9" cy="1449.7" r="17.4"/><path d="M2187.4 1431.3A18.4 18.4 0 0 1 2187.4 1468.1z" fill="#37AE6B" stroke="none"/>
<circle cx="2192.4" cy="1449.5" r="17.4"/><path d="M2191.9 1431.1A18.4 18.4 0 0 1 2191.9 1467.9z" fill="#37AE6B" stroke="none"/>
<circle cx="2199" cy="1449.8" r="17.4"/><path d="M2198.5 1431.4A18.4 18.4 0 0 1 2198.5 1468.2z" fill="#37AE6B" stroke="none"/>
<circle cx="2209" cy="1448.3" r="17.4"/><path d="M2208.5 1429.9A18.4 18.4 0 0 1 2208.5 1466.7z" fill="#37AE6B" stroke="none"/>
<circle cx="2214.3" cy="1451.1" r="17.4"/><path d="M2213.8 1432.7A18.4 18.4 0 0 1 2213.8 1469.5z" fill="#37AE6B" stroke="none"/>
<circle cx="2223.6" cy="1450.1" r="17.4"/><path d="M2223.1 1431.7A18.4 18.4 0 0 1 2223.1 1468.5z" fill="#37AE6B" stroke="none"/>
<circle cx="2226.2" cy="1448.8" r="17.4"/><path d="M2225.7 1430.4A18.4 18.4 0 0 1 2225.7 1467.2z" fill="#37AE6B" stroke="none"/>
</g>
</g>
<g stroke="#000" stroke-width="4.6" fill="none" stroke-linecap="butt">
<path d="M302.4 61.3H2222.5"/>
<path d="M2222.5 59.0V1606.0"/>
<path d="M496.5 61.3V76.3"/>
<path d="M688.3 61.3V91.3"/>
<path d="M880.0 61.3V76.3"/>
<path d="M1071.8 61.3V91.3"/>
<path d="M1263.6 61.3V76.3"/>
<path d="M1455.4 61.3V91.3"/>
<path d="M1647.2 61.3V76.3"/>
<path d="M1838.9 61.3V91.3"/>
<path d="M2030.7 61.3V76.3"/>
<path d="M2222.5 215.8H2207.5"/>
<path d="M2222.5 370.2H2190.5"/>
<path d="M2222.5 524.7H2207.5"/>
<path d="M2222.5 679.2H2190.5"/>
<path d="M2222.5 833.6H2207.5"/>
<path d="M2222.5 988.1H2190.5"/>
<path d="M2222.5 1142.6H2207.5"/>
<path d="M2222.5 1297.1H2190.5"/>
<path d="M2222.5 1451.5H2207.5"/>
</g>
<text x="256.1" y="1629.2" text-anchor="end" font-size="81.5">0</text>
<text x="256.1" y="1114.3" text-anchor="end" font-size="81.5">200</text>
<text x="256.1" y="599.4" text-anchor="end" font-size="81.5">400</text>
<text x="256.1" y="84.5" text-anchor="end" font-size="81.5">600</text>
<text x="304.7" y="1720.8" text-anchor="middle" font-size="81.5">0</text>
<text x="1263.6" y="1720.8" text-anchor="middle" font-size="81.5">5</text>
<text x="2222.5" y="1720.8" text-anchor="middle" font-size="81.5">10</text>
<text x="1178.2" y="1851.7" font-size="81.5">z (A)</text>
<text transform="translate(97.8 1092.3) rotate(-90)" font-size="81.5">Density (kg/m<tspan font-size="54" dy="-32">3</tspan><tspan dy="32">)</tspan></text>
<rect x="1550.2" y="148.5" width="585.2" height="478.8" fill="#fff" stroke="#000" stroke-width="2.6"/>
<path d="M1558 203.2H1725.6" stroke="#0000FF" stroke-width="7.2" stroke-linecap="round"/>
<path d="M1633.6 186.7H1647.2L1656.9 196.4V210L1647.2 219.7H1633.6L1623.9 210V196.4z" fill="#fff" stroke="#0000FF" stroke-width="1.6" shape-rendering="crispEdges"/>
<path d="M1638.1 185.9H1647.6L1657.7 196.0V210.4L1647.6 220.5H1638.1z" fill="#0000FF" shape-rendering="crispEdges"/>
<text x="1758.6" y="230.5" font-size="81.5">P<tspan font-size="54" dy="22.5">i</tspan><tspan dy="-22.5">=400 bar</tspan></text>
<path d="M1558 320.5H1725.6" stroke="#EF4242" stroke-width="7.2" stroke-linecap="round"/>
<path d="M1633.6 304H1647.2L1656.9 313.7V327.3L1647.2 337H1633.6L1623.9 327.3V313.7z" fill="#fff" stroke="#EF4242" stroke-width="1.6" shape-rendering="crispEdges"/>
<path d="M1638.1 303.2H1647.6L1657.7 313.3V327.7L1647.6 337.8H1638.1z" fill="#EF4242" shape-rendering="crispEdges"/>
<text x="1758.6" y="346.6" font-size="81.5">P<tspan font-size="54" dy="22.5">1</tspan><tspan dy="-22.5">=200 bar</tspan></text>
<path d="M1558 436.6H1725.6" stroke="#000000" stroke-width="7.2" stroke-linecap="round"/>
<path d="M1633.6 420.1H1647.2L1656.9 429.8V443.4L1647.2 453.1H1633.6L1623.9 443.4V429.8z" fill="#fff" stroke="#000000" stroke-width="1.6" shape-rendering="crispEdges"/>
<path d="M1638.1 419.3H1647.6L1657.7 429.4V443.8L1647.6 453.9H1638.1z" fill="#000000" shape-rendering="crispEdges"/>
<text x="1758.6" y="464.2" font-size="81.5">P<tspan font-size="54" dy="22.5">2</tspan><tspan dy="-22.5">=327 bar</tspan></text>
<path d="M1558 554.5H1725.6" stroke="#37AE6B" stroke-width="7.2" stroke-linecap="round"/>
<path d="M1633.6 538H1647.2L1656.9 547.7V561.3L1647.2 571H1633.6L1623.9 561.3V547.7z" fill="#fff" stroke="#37AE6B" stroke-width="1.6" shape-rendering="crispEdges"/>
<path d="M1638.1 537.2H1647.6L1657.7 547.3V561.7L1647.6 571.8H1638.1z" fill="#37AE6B" shape-rendering="crispEdges"/>
<text x="1758.6" y="582.3" font-size="81.5">P<tspan font-size="54" dy="22.5">3</tspan><tspan dy="-22.5">=100 bar</tspan></text>
</svg>
</body></html>
